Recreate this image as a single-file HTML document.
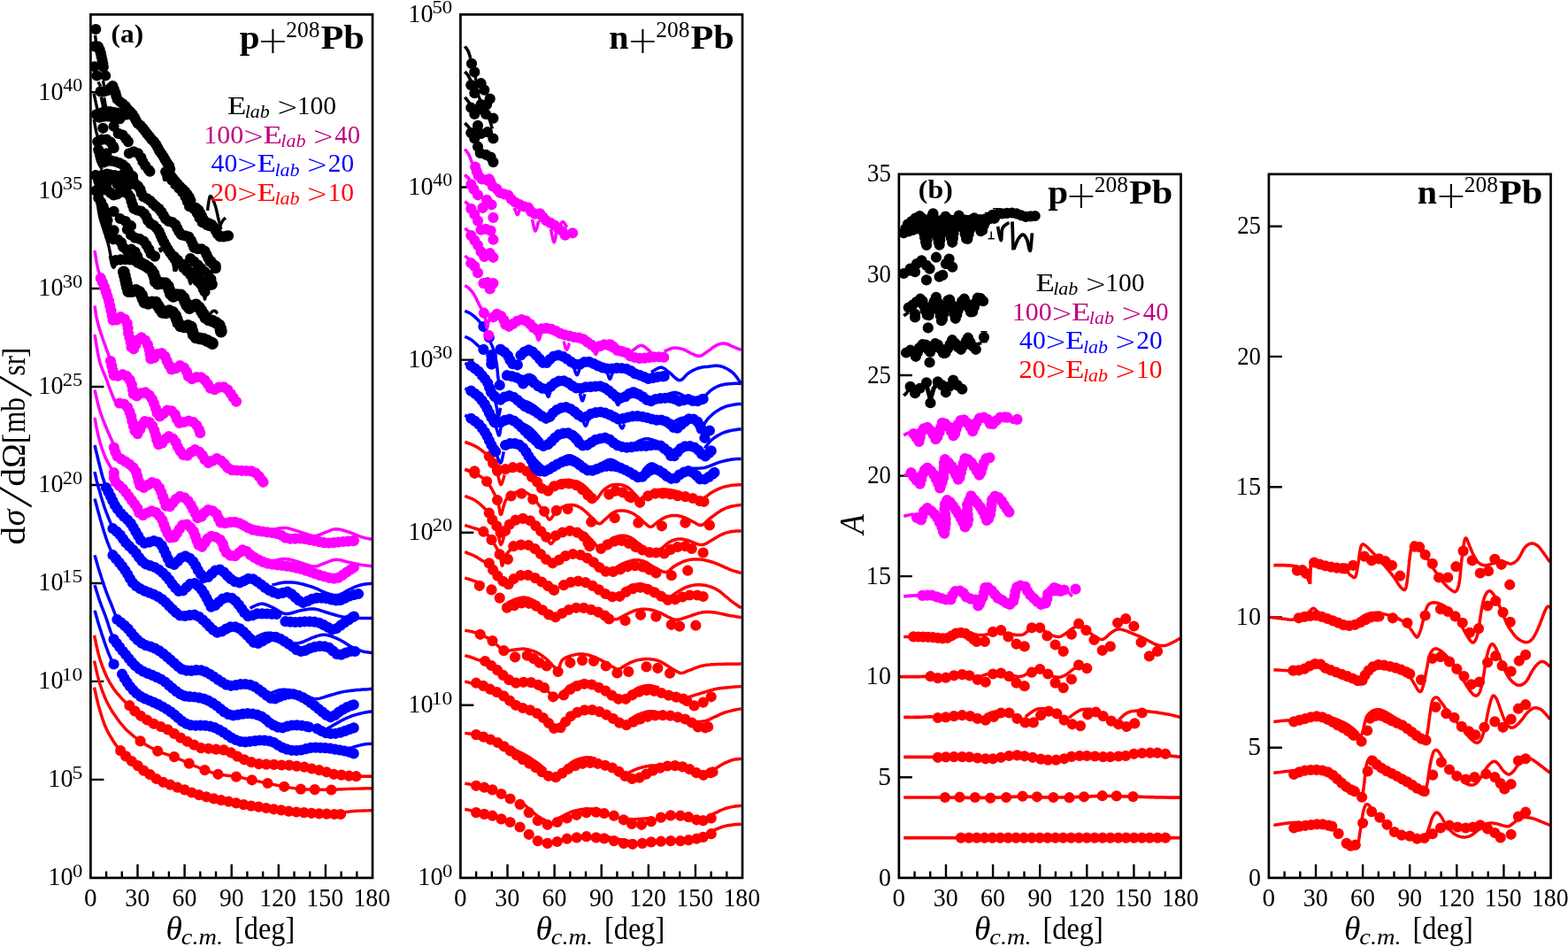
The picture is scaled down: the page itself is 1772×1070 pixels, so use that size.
<!DOCTYPE html>
<html lang="en"><head><meta charset="utf-8"><title>Elastic scattering on 208Pb</title>
<style>html,body{margin:0;padding:0;background:#fff}body{width:1772px;height:1070px;overflow:hidden}svg{display:block;font-family:"Liberation Serif", "DejaVu Serif", serif;font-size:28.6px;fill:#000}</style>
</head><body>
<svg width="1772" height="1070" viewBox="0 0 1772 1070" role="img" aria-label="Elastic scattering cross sections and analyzing powers for p and n on 208Pb">
<rect width="1772" height="1070" fill="#fff"/>
<defs>
<clipPath id="c0"><rect x="102.4" y="16.4" width="318.6" height="975.5"/></clipPath>
<clipPath id="c1"><rect x="520.4" y="16.4" width="318.6" height="975.5"/></clipPath>
<clipPath id="c2"><rect x="1015.9" y="196.8" width="318.6" height="795.1"/></clipPath>
<clipPath id="c3"><rect x="1433.9" y="196.8" width="318.6" height="795.1"/></clipPath>
</defs>
<path d="M120.1 991.9v-7.5M137.8 991.9v-7.5M155.5 991.9v-15.5M173.2 991.9v-7.5M190.9 991.9v-7.5M208.6 991.9v-15.5M226.3 991.9v-7.5M244 991.9v-7.5M261.7 991.9v-15.5M279.4 991.9v-7.5M297.1 991.9v-7.5M314.8 991.9v-15.5M332.5 991.9v-7.5M350.2 991.9v-7.5M367.9 991.9v-15.5M385.6 991.9v-7.5M403.3 991.9v-7.5" stroke="#000" stroke-width="2.4" fill="none"/>
<path d="M102.4 880.9h15M102.4 769.9h15M102.4 659h15M102.4 548h15M102.4 437h15M102.4 326h15M102.4 215.1h15M102.4 104.1h15" stroke="#000" stroke-width="2.4" fill="none"/>
<g clip-path="url(#c0)">
<path d="M106.6 717.8L107.1 720.3L107.9 723.9L108.7 728.2L109.7 732.7L110.8 737.1L111.8 741.1L112.9 744.8L114.1 748.3L115.3 751.8L116.6 755.2L117.9 758.5L119.3 761.7L120.7 764.7L122.2 767.7L123.7 770.6L125.3 773.3L127 776L128.6 778.5L130.5 781L132.4 783.4L134.4 785.7L136.4 787.9L138.2 789.9L139.9 791.6L141.3 793L142.6 794.2L143.8 795.2L144.9 796L145.7 796.7L146.4 797.2" stroke="#f00" stroke-width="3.5" fill="none" stroke-linejoin="round" stroke-linecap="butt"/>
<path d="M146.4 797.2h0M152.4 803.4h0M159 808.8h0M166.2 813.5h0M173.7 817.8h0M181.7 821h0M189.6 824.4h0M196.8 828.9h0M204.1 833.6h0M211.6 837.8h0M219.3 841.6h0M227.1 845.1h0M235.6 845.8h0M244.2 846.7h0M252.8 847.4h0M260.9 850.3h0M268.2 854.6h0M276 858.3h0M284.1 861.2h0M292.5 863.1h0M301 863.6h0M309.6 863.9h0M318.2 864.5h0M326.8 864.6h0M335.3 865.6h0M343.9 866.7h0M352.3 868.5h0M360.7 870.2h0M369 872.3h0M377.3 874.8h0M385.8 875.6h0M394.4 876.7h0M402.5 877.2h0" stroke="#f00" stroke-width="12.2" fill="none" stroke-linecap="round"/>
<path d="M402.5 877.2L403.6 877.2L405.2 877.2L407.1 877.2L409.1 877.2L411 877.2L412.8 877.2L414.4 877.2L416 877.2L417.6 877.2L419.1 877.2L420.3 877.2L421.2 877.2" stroke="#f00" stroke-width="3.6" fill="none" stroke-linejoin="round" stroke-linecap="butt"/>
<path d="M106.6 746.7L107.1 749.2L107.9 752.6L108.7 756.7L109.7 761L110.8 765.3L111.8 769.2L112.9 772.7L114.1 776.3L115.3 779.8L116.6 783.2L117.9 786.5L119.3 789.7L120.7 792.7L122.1 795.6L123.6 798.4L125.2 801.1L126.8 803.8L128.6 806.5L130.6 809.4L132.6 812.3L134.7 815.1L137 818L139.3 820.7L141.7 823.4L144.3 825.9L147 828.3L149.7 830.7L152.6 833L155.5 835.2L158.6 837.4L161.7 839.5L164.9 841.5L168.2 843.5L171.6 845.3L174.9 847L178.2 848.6L181.4 849.9L184.5 851.1L187.7 852.1L190.8 853.1L193.9 854L196.9 855.1L199.8 856.3L202.6 857.6L205.3 858.8L208.1 860.1L210.9 861.4L213.7 862.6L216.6 863.9L219.6 865.2L222.7 866.5L225.7 867.8L228.6 869L231.4 870.1L234 871.1L236.4 871.9L238.8 872.7L241.1 873.5L243.6 874.1L246.4 874.8L249.5 875.3L252.9 875.8L256.5 876.2L260.1 876.6L263.6 877.1L267 877.6L270.1 878.1L273.1 878.7L276 879.4L278.9 880L281.8 880.7L284.7 881.3L287.7 881.9L290.6 882.6L293.5 883.2L296.5 883.8L299.5 884.4L302.5 885L305.5 885.7L308.6 886.3L311.8 887L314.9 887.6L318 888.2L321.2 888.8L324.3 889.3L327.5 889.9L330.7 890.4L333.8 890.9L336.9 891.3L339.9 891.6L342.6 891.8L345.3 892L347.8 892L350.3 892.1L353 892.1L355.7 892.1L358.7 892.2L361.7 892.2L364.9 892.2L368 892.2L371.2 892.2L374.4 892.1L377.6 892.1L380.6 892L383.7 891.8L386.9 891.7L390.4 891.5L394.1 891.4L398.5 891.3L403.5 891.1L408.8 891L413.9 890.8L418.1 890.7L421.2 890.7" stroke="#f00" stroke-width="3.4" fill="none" stroke-linejoin="round" stroke-linecap="butt"/>
<path d="M158.6 837.4h0M178.2 848.6h0M196.9 855.1h0M213.7 862.6h0M231.4 870.1h0M246.4 874.8h0M267 877.6h0M284.7 881.3h0M302.5 885h0M321.2 888.8h0M339.9 891.6h0M355.7 892.1h0M374.4 892.5h0" stroke="#f00" stroke-width="12.2" fill="none" stroke-linecap="round"/>
<path d="M106.6 776.6L107.1 779.1L107.9 782.5L108.7 786.4L109.7 790.8L110.8 795.1L111.8 799.1L112.9 802.9L114.1 806.7L115.3 810.6L116.6 814.4L117.9 818.1L119.3 821.5L120.8 824.7L122.3 827.8L124 830.7L125.6 833.4L127.2 836L128.6 838.3L130.1 840.5L131.6 842.6L133 844.5L134.3 846.2L135.3 847.6L136.1 848.6" stroke="#f00" stroke-width="3.5" fill="none" stroke-linejoin="round" stroke-linecap="butt"/>
<path d="M136.2 848.2h0M142.2 854.4h0M148.8 860h0M155.7 865.1h0M162.3 870.6h0M169.6 875.2h0M176.7 880h0M184.4 883.8h0M192.5 886.7h0M200.5 889.7h0M208.7 892.4h0M216.7 895.5h0M224.9 898.2h0M233.2 900.3h0M241.6 902.4h0M250 904.2h0M258.4 905.7h0M266.9 907.4h0M275.3 909.1h0M283.8 910.6h0M292.3 911.6h0M300.8 913h0M309.3 914.3h0M317.8 915.4h0M326.3 916.7h0M334.9 917.5h0M343.5 918.1h0M352 918.8h0M360.6 919.3h0M369.2 919.7h0M377.8 920h0M385 920h0" stroke="#f00" stroke-width="12.2" fill="none" stroke-linecap="round"/>
<path d="M385 918.5L386.6 918.3L388.7 917.9L391.2 917.5L394 917.1L397 916.8L400 916.5L403.4 916.3L407.3 916.1L411.3 916L415.2 915.9L418.4 915.8L420.8 915.8" stroke="#f00" stroke-width="3.4" fill="none" stroke-linejoin="round" stroke-linecap="butt"/>
<path d="M107 503L107.5 504.9L108.1 507.6L108.9 510.8L109.7 514.2L110.5 517.5L111.2 520.5L111.9 523.2L112.6 525.9L113.2 528.6L113.9 531.1L114.5 533.4L115 535.5L115.5 537.2L115.9 538.7L116.3 540L116.7 541.1L117.1 542.3L117.5 543.5L117.9 544.9L118.4 546.3L118.9 547.8L119.4 549.1L119.7 550.2L120 551" stroke="#00f" stroke-width="3.6" fill="none" stroke-linejoin="round" stroke-linecap="butt"/>
<path d="M120 551h0M122.5 555.9h0M124.9 560.8h0M127.3 565.8h0M129.8 570.7h0M132.9 575.2h0M136.3 579.6h0M140 583.6h0M144.1 587.3h0M147.8 591.4h0M150.7 596h0M153.4 600.8h0M156.2 605.5h0M159 610.3h0M163.2 613.6h0M168.5 612.6h0M173.8 611.1h0M178.9 612.5h0M182.8 616.4h0M185.3 621.3h0M187.6 626.3h0M189.8 631.3h0M192.3 636.2h0M196.8 638h0M200.8 634.2h0M204.7 630.3h0M209.6 628.4h0M214.5 630.8h0M218.4 634.6h0M221.3 639.3h0M223.8 644.2h0M226.8 648.8h0M230.4 652.9h0M235.3 651.9h0M239.3 648.2h0M243.4 644.5h0M248.5 643.5h0M253.1 646.5h0M256.9 650.5h0M260.9 654.2h0M265.5 657.2h0M270.7 658.4h0M275.8 656.3h0M280.7 653.8h0M286.1 654.4h0M290.7 657.3h0M295.2 660.5h0M299.4 663.9h0M304.1 666.9h0M309 669.2h0M314.3 670.9h0M319.6 669.9h0M324.8 668.5h0M329.5 671.2h0M333.6 674.9h0M337.8 678.5h0M342.5 681h0M347.6 679.2h0M352.6 676.8h0M357.9 675.6h0M363.4 675.7h0M368.9 676.2h0M374.3 677.4h0M379.7 678.4h0M385.1 678h0M390.1 675.8h0M395.1 673.5h0M400.4 672h0M405 671h0" stroke="#00f" stroke-width="12.2" fill="none" stroke-linecap="round"/>
<path d="M307.5 661L309.1 660.6L311.4 660.1L314.1 659.4L316.9 658.8L319.8 658.3L322.5 658L325 657.9L327.4 657.9L329.8 658L332.3 658.2L334.9 658.6L337.5 659L340.3 659.6L343.2 660.3L346.2 661.2L349.3 662.1L352.2 663L355 664L357.7 665.1L360.3 666.2L362.8 667.5L365.3 668.6L367.7 669.7L370 670.5L372.2 671.2L374.4 671.7L376.4 672.2L378.4 672.4L380.4 672.5L382.5 672.2L384.6 671.7L386.7 670.7L388.8 669.5L390.8 668.3L392.9 667.1L395 666L397.1 665.1L399.1 664.1L401.2 663.2L403.3 662.4L405.4 661.6L407.5 661L409.8 660.5L412.4 660L414.9 659.7L417.3 659.4L419.3 659.2L420.8 659" stroke="#00f" stroke-width="3.5" fill="none" stroke-linejoin="round" stroke-linecap="butt"/>
<path d="M107 533L107.3 534.4L107.7 536.2L108.2 538.4L108.7 540.9L109.3 543.4L110 546L110.7 548.7L111.5 551.6L112.4 554.6L113.3 557.7L114.1 560.7L115 563.5L115.8 566.1L116.6 568.5L117.3 570.9L118.1 573.3L119 575.8L120 578.5L121.2 581.6L122.6 585.2L124.1 588.8L125.5 592.2L126.7 595.2L127.5 597.2" stroke="#00f" stroke-width="3.5" fill="none" stroke-linejoin="round" stroke-linecap="butt"/>
<path d="M127.5 597.2h0M131.9 600.6h0M135.8 604.4h0M139 608.9h0M142.3 613.3h0M146.2 617.2h0M150.1 621h0M153.8 625.1h0M157 629.6h0M160.4 633.9h0M164.6 637.3h0M169.8 639.2h0M175 641h0M179.7 643.8h0M184 647.3h0M187.9 651.1h0M191.4 655.3h0M194.6 659.9h0M198.1 664.1h0M201.9 668h0M207 667.3h0M210.9 663.5h0M215 659.8h0M220 659h0M224.3 662.4h0M227.9 666.5h0M230.9 671.1h0M233.6 676h0M236.1 680.8h0M238.6 685.7h0M243.4 683.9h0M247.4 680.1h0M251.6 676.6h0M256.8 675h0M262.1 675.9h0M266.4 679.2h0M269.9 683.4h0M273.2 687.9h0M276.3 692.4h0M280.3 696.1h0M285.5 695.3h0M290.7 693.4h0M296.2 693.4h0M301.7 693.5h0M307.2 693.8h0M312.5 694h0" stroke="#00f" stroke-width="12.2" fill="none" stroke-linecap="round"/>
<path d="M322.5 702.2h0M328 702.7h0M333.5 703h0M339 702.8h0M344.4 702.3h0M349.9 702.3h0M355.4 702.7h0M360.8 703.8h0M365.8 706.1h0M370.6 708.8h0M375.4 711.4h0M380.5 710h0M384.9 706.7h0M389.3 703.5h0M393.9 700.4h0M398.5 697.4h0M400 696.5h0" stroke="#00f" stroke-width="12.2" fill="none" stroke-linecap="round"/>
<path d="M282.5 687.2L283.9 686.6L285.7 685.6L288 684.5L290.4 683.5L292.8 682.6L295 682.2L297.1 682.3L299.1 682.7L301.1 683.3L303.1 684.1L305.3 685.1L307.5 686L309.8 687.2L312.2 688.6L314.7 690.2L317.2 691.7L319.8 692.9L322.5 693.5L325.3 693.5L328.2 693L331.2 692.2L334.3 691.3L337.2 690.4L340 689.8L342.6 689.3L345.2 688.8L347.7 688.4L350.1 688.1L352.5 687.9L355 688L357.5 688.4L360 689L362.5 689.8L365 690.6L367.5 691.5L370 692.2L372.5 693L375 693.8L377.5 694.5L380 695.2L382.5 695.9L385 696.5L387.4 697L389.8 697.4L392.1 697.8L394.6 698.1L397.2 698.3L400 698.5L403.4 698.6L407.3 698.6L411.3 698.6L415.2 698.6L418.4 698.5L420.8 698.5" stroke="#00f" stroke-width="3.5" fill="none" stroke-linejoin="round" stroke-linecap="butt"/>
<path d="M107 563.5L107.6 565.6L108.4 568.5L109.3 571.9L110.3 575.7L111.4 579.6L112.5 583.5L113.6 587.4L114.9 591.7L116.1 596.1L117.4 600.4L118.7 604.6L120 608.5L121.3 612.2L122.8 615.9L124.2 619.4L125.6 622.6L126.7 625.3L127.5 627.2" stroke="#00f" stroke-width="3.5" fill="none" stroke-linejoin="round" stroke-linecap="butt"/>
<path d="M127.5 627.2h0M131.1 631.4h0M134.7 635.6h0M138.1 639.9h0M141.4 644.3h0M144.3 649h0M146.9 653.8h0M149.9 658.4h0M153.9 662.2h0M158.5 665.2h0M163.4 667.6h0M168.6 669.6h0M173.7 671.6h0M178.6 674.1h0M183.2 677.1h0M187.4 680.7h0M191.2 684.7h0M195.1 688.5h0M199 692.3h0M203.5 695.5h0M208.9 696h0M214.3 695.1h0M219.8 694.7h0M224.8 696.8h0M229.1 700.3h0M233.1 704h0M236.9 708h0M240.9 711.8h0M245.5 714.7h0M250.7 713.5h0M255.5 710.6h0M260.5 708.4h0M265.9 708.3h0M271 710.4h0M275.2 713.9h0M279.1 717.7h0M282.9 721.7h0M286.6 725.8h0M291.7 726.9h0M296.6 724.5h0M301.3 721.6h0M306.3 719.5h0M311.7 719.8h0M316.8 721.8h0M321.6 724.7h0M326.2 727.7h0M330.7 730.8h0M335.1 734.1h0M340.2 736h0M345.5 734.8h0M350.5 732.5h0M355.8 730.9h0M361.2 730.2h0M366.7 730.3h0M371.9 731.9h0M376.2 735.4h0M380.4 738.9h0M385.7 739.6h0M390.8 737.6h0M396 735.9h0M401.2 736h0" stroke="#00f" stroke-width="12.2" fill="none" stroke-linecap="round"/>
<path d="M287.5 721L288.9 720.3L290.7 719.3L293 718.1L295.4 717L297.8 716.1L300 715.5L302.1 715.3L304.1 715.3L306.1 715.5L308.1 715.9L310.3 716.5L312.5 717.2L314.9 718.4L317.4 720L320 721.7L322.6 723.5L325.1 725L327.5 726L329.7 726.6L331.8 726.9L333.8 726.9L335.7 726.8L337.8 726.5L340 726L342.4 725.3L344.9 724.2L347.5 723L350.1 721.8L352.6 720.6L355 719.8L357.2 719L359.3 718.4L361.2 717.8L363.2 717.4L365.3 717.2L367.5 717.2L369.9 717.6L372.3 718.2L374.8 719L377.4 720L380 721.1L382.5 722.2L385 723.5L387.6 725L390.2 726.6L392.7 728.2L395.1 729.7L397.5 731L399.7 732.1L401.9 733.1L404 734L406.1 734.7L408 735.4L410 736L412 736.5L414.1 736.8L416.2 737.1L418 737.2L419.6 737.4L420.8 737.5" stroke="#00f" stroke-width="3.5" fill="none" stroke-linejoin="round" stroke-linecap="butt"/>
<path d="M107 627.2L107.6 629.2L108.4 632L109.3 635.2L110.3 638.8L111.4 642.4L112.5 646L113.7 649.6L114.9 653.6L116.3 657.6L117.6 661.6L118.9 665.3L120 668.5L121 671.1L121.8 673.2L122.5 675L123.2 676.7L124.1 678.7L125 681L126.2 684L127.6 687.6L129 691.3L130.4 694.8L131.6 697.9L132.4 700" stroke="#00f" stroke-width="3.5" fill="none" stroke-linejoin="round" stroke-linecap="butt"/>
<path d="M132.4 700h0M136.7 703.4h0M140.9 706.9h0M144.9 710.7h0M148.3 715h0M151.8 719.3h0M155.7 723.2h0M160 726.6h0M164.8 729.1h0M170.1 730.6h0M175.2 732.6h0M180 735.4h0M184.5 738.6h0M188.7 742.1h0M192.9 745.7h0M197 749.3h0M201.1 753h0M205.5 756.2h0M210.8 757.7h0M216.3 757.9h0M221.7 757.1h0M227.2 757.3h0M232.3 759.2h0M237.2 761.8h0M241.8 764.7h0M246.3 767.9h0M250.9 770.8h0M255.7 773.6h0M261 774.8h0M266.5 774.2h0M271.9 773.1h0M277.3 773h0M282.8 773.8h0M287.8 775.9h0M292.4 779h0M296.8 782.2h0M301.2 785.6h0M305.6 788.8h0M310.9 789.5h0M316 787.3h0M321.1 785.5h0M326.5 784.3h0M332 784.3h0M337.2 785.8h0M342.2 788.1h0M346.9 791h0M351.4 794.2h0M355.8 797.5h0M360 801h0M364.3 804.4h0M368.6 807.9h0M373.5 810.3h0M378.4 808.2h0M382.7 804.7h0M387.4 801.8h0M392.2 799.1h0M397.3 797.1h0M399.7 796.3h0" stroke="#00f" stroke-width="12.2" fill="none" stroke-linecap="round"/>
<path d="M306.2 783.2L307.4 782.7L309.1 782L311 781.3L313.1 780.5L315.3 779.8L317.4 779.4L319.5 779.3L321.7 779.3L323.9 779.4L326.1 779.6L328.3 779.9L330.5 780.4L332.7 780.9L334.9 781.7L337.1 782.5L339.2 783.4L341.4 784.2L343.6 785L345.8 785.9L347.9 786.9L350 787.9L352.2 788.8L354.4 789.4L356.7 789.7L359.1 789.6L361.5 789.1L364 788.4L366.6 787.6L369.1 786.7L371.6 786L374.1 785.3L376.6 784.6L379 783.8L381.5 783.1L384 782.5L386.6 781.9L389.3 781.4L392.1 780.9L394.9 780.6L397.7 780.2L400.6 779.9L403.4 779.6L406.4 779.4L409.6 779.1L412.9 778.9L415.9 778.8L418.4 778.6L420.2 778.5" stroke="#00f" stroke-width="3.5" fill="none" stroke-linejoin="round" stroke-linecap="butt"/>
<path d="M107 661L107.6 662.9L108.4 665.4L109.3 668.5L110.3 671.8L111.4 675.2L112.5 678.5L113.7 681.7L114.9 685.2L116.3 688.7L117.6 692.1L118.9 695.4L120 698.5L121 701.4L121.9 704.1L122.7 706.7L123.5 709.1L124.3 711.4L125 713.5L125.7 715.4L126.5 717.3L127.1 718.9L127.8 720.3L128.3 721.5L128.6 722.4" stroke="#00f" stroke-width="3.5" fill="none" stroke-linejoin="round" stroke-linecap="butt"/>
<path d="M128.6 722.4h0M131.9 726.8h0M135.3 731.2h0M138.7 735.5h0M142.2 739.8h0M145.6 744.1h0M149.1 748.3h0M152.9 752.3h0M157.1 755.8h0M161.8 758.7h0M166.9 760.9h0M172 762.9h0M177 765.1h0M182 767.5h0M186.6 770.5h0M190.7 774.1h0M194.9 777.7h0M199.2 781.1h0M203.7 784.3h0M208.7 786.4h0M214.2 787.2h0M219.6 787.5h0M225.1 788.4h0M230.4 789.6h0M235.5 791.7h0M240.3 794.4h0M244.9 797.5h0M249.1 800.9h0M253.4 804.4h0M258.2 807h0M263.5 808.4h0M268.9 807.7h0M274.3 806.6h0M279.8 806.2h0M285.3 806.5h0M290.7 807.7h0M295.8 809.7h0M300.3 812.8h0M304.4 816.5h0M309.1 819.4h0M314.1 821.7h0M319.5 822.3h0M324.7 820.7h0M330 819.5h0M335.5 819.4h0M341 819.8h0M346.4 820.8h0M349.2 821.5h0" stroke="#00f" stroke-width="12.2" fill="none" stroke-linecap="round"/>
<path d="M358.6 823.4h0M363.4 826h0M368.4 828.2h0M373.8 829h0M379.3 828.8h0M384.7 827.6h0M389.9 825.9h0M395.1 824h0M399.7 822.4h0" stroke="#00f" stroke-width="12.2" fill="none" stroke-linecap="round"/>
<path d="M369.8 823.4L371.2 822.5L373.2 821.4L375.6 820L378.1 818.5L380.6 817.1L382.9 815.9L384.8 814.8L386.7 813.8L388.5 812.9L390.3 812L392.1 811.1L394.1 810.3L396.1 809.5L398.3 808.7L400.5 808L402.7 807.4L404.9 806.7L407.1 806.2L409.5 805.6L412 805.1L414.5 804.7L416.8 804.3L418.8 804L420.2 803.7" stroke="#00f" stroke-width="3.5" fill="none" stroke-linejoin="round" stroke-linecap="butt"/>
<path d="M107 689.8L107.6 691.7L108.4 694.5L109.3 697.7L110.3 701.3L111.4 704.9L112.5 708.5L113.7 712.1L114.9 716.1L116.3 720.1L117.6 724.1L118.9 727.8L120 731L121 733.7L121.9 736.1L122.7 738.2L123.5 740.1L124.3 741.9L125 743.5L125.7 745.1L126.5 746.5L127.1 747.8L127.8 748.9L128.3 749.8L128.6 750.5" stroke="#00f" stroke-width="3.5" fill="none" stroke-linejoin="round" stroke-linecap="butt"/>
<path d="M128.6 750.5h0" stroke="#00f" stroke-width="12.2" fill="none" stroke-linecap="round"/>
<path d="M138 761.7h0M140.7 766.5h0M143.7 771.1h0M146.9 775.5h0M150.5 779.7h0M154.4 783.5h0M158.8 786.9h0M163.7 789.4h0M168.8 791.5h0M173.8 793.6h0M178.8 795.9h0M183.7 798.5h0M188.4 801.3h0M193 804.4h0M197.4 807.7h0M201.5 811.3h0M205.7 814.9h0M210.4 817.7h0M215.6 819.4h0M221.1 819.8h0M226.6 819.6h0M232 819.8h0M237.5 820.6h0M242.7 822.2h0M247.7 824.6h0M252.4 827.4h0M257 830.5h0M261.5 833.6h0M266.4 836h0M271.6 837.8h0M277.1 838.4h0M282.5 837.8h0M288 837.1h0M293.5 836.5h0M299 836.6h0M304.4 837.3h0M309.6 839h0M314.2 842h0M319 844.6h0M324.2 846.6h0M329.5 847.8h0M335 848h0M340.5 847.5h0M345.8 846.2h0M351.2 844.9h0M356.7 844.6h0M362.1 844.9h0M367.6 845.2h0M373.1 845.7h0M378.5 846.6h0M384 847.5h0M389.4 848.5h0M394.7 849.7h0M399.7 851.4h0" stroke="#00f" stroke-width="12.2" fill="none" stroke-linecap="round"/>
<path d="M394.1 845.8L395.7 845.3L398.1 844.6L400.8 843.7L403.8 842.9L406.6 842.1L409 841.5L411.2 841.1L413.4 840.8L415.6 840.6L417.5 840.4L419.1 840.3L420.2 840.2" stroke="#00f" stroke-width="3.5" fill="none" stroke-linejoin="round" stroke-linecap="butt"/>
<path d="M107 283L107.3 284.9L107.8 287.7L108.3 290.9L108.8 294.3L109.4 297.6L110 300.5L110.6 303.2L111.3 305.9L112.1 308.5L112.8 310.8L113.3 312.8L113.8 314.2" stroke="#f0f" stroke-width="3.5" fill="none" stroke-linejoin="round" stroke-linecap="butt"/>
<path d="M113.8 314.2h0M116 319.3h0M118 324.4h0M119.8 329.6h0M121.4 334.8h0M123 340.1h0M124.3 345.5h0M125.5 350.8h0M126.6 356.2h0M127.6 361.6h0M131.9 361.4h0M136.4 358.2h0M140.9 360.6h0M143.7 365.3h0M144.6 370.7h0M145.1 376.2h0M146.4 381.5h0M147.8 386.9h0M148.5 392.3h0M151.1 394.2h0M153.4 389.2h0M155.7 384.2h0M159.9 381.4h0M164.2 384.6h0M166.9 389.4h0M168.5 394.6h0M169.5 400h0M170.4 405.5h0M174.2 404.3h0M177.7 400.1h0M182.8 399h0M186.5 402.8h0M188.7 407.9h0M191.1 412.8h0M193.9 417.5h0M198.8 416.1h0M203.4 413.1h0M208 415.5h0M211 420h0M212.9 425.2h0M216.9 428.1h0M222.1 426.1h0M227.3 426.3h0M231.6 429.7h0M234.9 434h0M237.9 438.7h0M242.6 440.2h0M247.4 437.6h0M252.7 437.3h0M257.3 440.3h0M260.7 444.6h0M263.7 449.2h0M267 453.6h0" stroke="#f0f" stroke-width="12.2" fill="none" stroke-linecap="round"/>
<path d="M107 345.5L107.3 347.4L107.7 349.9L108.1 353L108.6 356.3L109.3 359.7L110 363L110.9 366.2L111.8 369.6L112.9 373L114 376.4L115.2 379.8L116.2 383L117.3 386.2L118.5 389.4L119.6 392.5L120.7 395.5L121.7 398.2L122.5 400.5L123.2 402.4L123.7 404L124.1 405.3L124.5 406.4L124.8 407.3L125 408" stroke="#f0f" stroke-width="3.5" fill="none" stroke-linejoin="round" stroke-linecap="butt"/>
<path d="M125 408h0M126.3 413.3h0M127.6 418.7h0M128.7 424.1h0M133.4 424.8h0M138.6 423h0M143.4 425.2h0M146.8 429.4h0M148.9 434.5h0M149.9 439.9h0M150.8 445.3h0M154.5 447.4h0M159.1 444.4h0M164.3 443.3h0M168.7 446.5h0M171.9 451h0M174.1 456h0M176 461.2h0M177.5 466.5h0M180.6 470.4h0M184.9 467.1h0M189 463.5h0M194 464.4h0M197.8 468.4h0M199.9 473.5h0M202.7 478h0M207.9 477h0M213.2 475.5h0M218.4 477h0M222.3 480.8h0M225 485.5h0M226.2 489.2h0" stroke="#f0f" stroke-width="12.2" fill="none" stroke-linecap="round"/>
<path d="M107 378L107.6 381.4L108.4 386.1L109.3 391.8L110.3 397.6L111.4 403.2L112.5 408L113.6 411.9L114.9 415.4L116.1 418.6L117.4 421.7L118.7 424.8L120 428L121.3 431.4L122.6 435L123.9 438.6L125.2 442.1L126.4 445.2L127.5 448L128.5 450.4L129.5 452.4L130.5 454.2L131.3 455.8L132 457L132.5 458" stroke="#f0f" stroke-width="3.5" fill="none" stroke-linejoin="round" stroke-linecap="butt"/>
<path d="M135 455.5h0M140.4 456.7h0M144.2 460.4h0M146.5 465.4h0M148.3 470.6h0M149.4 476h0M150.9 481.3h0M152.5 486.6h0M155.5 490.1h0M158.2 485.3h0M160.3 480.3h0M163.6 476.1h0M168.8 477.1h0M172.2 481.3h0M174.4 486.3h0M176 491.6h0M177.2 496.9h0M179.1 502.1h0M183.3 500.6h0M186.6 496.2h0M190.8 493h0M195.4 495.5h0M198.7 499.9h0M200.9 505h0M203.7 509.7h0M207 514h0M211.9 514.7h0M216 510.9h0M220.4 508h0M225.1 510.5h0M228.8 514.6h0M231.6 519.4h0M235.4 523h0M240.3 520.6h0M245 518h0M249.8 520.5h0M253.8 524.3h0M257.3 528.5h0M262 531.1h0M267.5 531.5h0M273 531.8h0M278.5 532h0M284 532.4h0M289 534.5h0M292.8 538.4h0M296.1 542.9h0M297.5 544.8h0" stroke="#f0f" stroke-width="12.2" fill="none" stroke-linecap="round"/>
<path d="M107 440.5L107.6 443L108.4 446.4L109.3 450.5L110.3 454.9L111.4 459.1L112.5 463L113.6 466.5L114.9 469.9L116.1 473.3L117.4 476.6L118.7 479.8L120 483L121.3 486.2L122.7 489.5L124.1 492.7L125.5 495.7L126.6 498.3L127.5 500.5L128.1 502.1L128.4 503.3L128.6 504.1L128.7 504.7L128.7 505.1L128.8 505.5" stroke="#f0f" stroke-width="3.5" fill="none" stroke-linejoin="round" stroke-linecap="butt"/>
<path d="M128.8 505.5h0M130.4 510.8h0M132.7 515.7h0M137.1 518.9h0M141.9 521.7h0M146.5 524.7h0M150.6 528.3h0M153.7 532.8h0M155.3 538.1h0M156.6 543.4h0M158.3 548.6h0M162.5 550.9h0M167.1 547.9h0M171.7 545h0M176.6 546.6h0M180 551h0M182.3 556h0M184.1 561.2h0M186 566.3h0M187.6 571.6h0M191.9 572.3h0M195.5 568.1h0M199 563.9h0M203.4 560.9h0M208.5 562.4h0M212.6 566.1h0M215.7 570.6h0M218.3 575.5h0M220.9 580.3h0M223.3 585.2h0M227.7 583.7h0M231.1 579.4h0M235.2 576h0M240.4 577.3h0M244.7 580.8h0M247 585.7h0M249.4 590.5h0M254.7 591.2h0M260.1 590.2h0M265.5 589.8h0M270.8 591.4h0M275.7 593.8h0M280.5 596.5h0M285.6 598.6h0M290.9 599.7h0M296.4 600.5h0M301.8 601.3h0M307.3 602h0M312.7 602.9h0M317.9 604.8h0M322.5 607.6h0M327.9 608.8h0M333.4 608.6h0M338.9 608.5h0M344.3 609h0M349.7 610h0M355.2 611h0M360.6 612.1h0M366 613.1h0M371.4 613.5h0M376.9 613.2h0M382.4 612.5h0M387.9 612h0M393.3 611.6h0M398.8 611.1h0M400 611h0" stroke="#f0f" stroke-width="12.2" fill="none" stroke-linecap="round"/>
<path d="M307.5 598.5L309.1 598.2L311.4 597.8L314.1 597.2L316.9 596.8L319.8 596.5L322.5 596.5L325 596.8L327.4 597.4L329.8 598.1L332.3 598.9L334.9 599.7L337.5 600.5L340.3 601.4L343.3 602.4L346.4 603.5L349.4 604.5L352.3 605.2L355 605.5L357.4 605.4L359.5 604.8L361.6 604L363.5 603.1L365.5 602.3L367.5 601.5L369.6 600.8L371.6 600L373.6 599.1L375.6 598.4L377.8 597.9L380 597.8L382.4 597.9L384.8 598.4L387.3 599L389.9 599.8L392.5 600.7L395 601.5L397.5 602.4L400.2 603.4L402.8 604.5L405.3 605.5L407.7 606.5L410 607.2L412.2 607.8L414.3 608.3L416.3 608.6L418.1 608.9L419.6 609.1L420.8 609.2" stroke="#f0f" stroke-width="3.5" fill="none" stroke-linejoin="round" stroke-linecap="butt"/>
<path d="M107 471.8L107.4 474.1L108 477.3L108.7 481.1L109.5 485.2L110.4 489.3L111.2 493L112.2 496.5L113.1 499.9L114.2 503.4L115.2 506.8L116.4 510L117.5 513L118.7 515.9L120 518.7L121.4 521.4L122.7 523.8L124 526.1L125 528L125.9 529.6L126.7 531L127.3 532.1L127.9 533L128.4 533.7L128.8 534.2" stroke="#f0f" stroke-width="3.5" fill="none" stroke-linejoin="round" stroke-linecap="butt"/>
<path d="M128.8 534.2h0M128.9 539.7h0M130.9 544.8h0M134.8 548.6h0M138.9 552.3h0M142.4 556.5h0M145.7 561h0M148.9 565.4h0M152.3 569.7h0M155.4 574.3h0M157.4 579.4h0M161.5 582.1h0M166.3 579.5h0M171.3 577.4h0M176.3 579.1h0M180.2 583h0M183.4 587.5h0M185.3 592.7h0M187.2 597.8h0M189.5 602.8h0M192.4 607.5h0M196.9 606.9h0M200 602.4h0M202.9 597.7h0M206.2 593.3h0M211.2 592.5h0M215.4 596h0M218.7 600.4h0M220.6 605.5h0M222.4 610.7h0M224.5 615.8h0M228.3 617.8h0M231.5 613.3h0M234.5 608.7h0M238.9 605.8h0M244.2 607h0M248.8 609.9h0M251.8 614.4h0M253.3 619.7h0M255.9 624.4h0M260.4 627.6h0M265.7 628.2h0M269.9 624.7h0M274.1 621.3h0M278.9 623.1h0M282.9 626.9h0M287.4 629.9h0M292.2 632.6h0M297.2 634.9h0M302.4 636.7h0M307.8 637.6h0M313.3 638.3h0M318.8 639h0M324.2 639.7h0M329.7 640.5h0M335 641.6h0M340.3 643h0M345.6 644.6h0M350.9 646.3h0M356.1 648.1h0M361.2 649.9h0M366.5 651.4h0M371.8 652.8h0M377.3 653.7h0M382.6 652.6h0M387.3 649.8h0M391.7 646.5h0M396.3 643.5h0M400 641h0" stroke="#f0f" stroke-width="12.2" fill="none" stroke-linecap="round"/>
<path d="M307.5 634L309.1 633.7L311.4 633.1L314.1 632.5L316.9 632L319.8 631.6L322.5 631.5L325 631.7L327.4 632.2L329.8 632.8L332.3 633.5L334.9 634.3L337.5 635L340.3 635.9L343.3 636.9L346.4 638L349.4 638.9L352.3 639.7L355 640L357.4 639.9L359.5 639.3L361.6 638.5L363.5 637.6L365.5 636.8L367.5 636L369.6 635.3L371.6 634.5L373.6 633.7L375.6 633L377.8 632.5L380 632.2L382.4 632.4L384.8 632.8L387.3 633.5L389.9 634.2L392.5 634.9L395 635.5L397.5 636L400.2 636.6L402.8 637.1L405.3 637.6L407.7 638.1L410 638.5L412.2 638.8L414.3 639.1L416.3 639.3L418.1 639.5L419.6 639.6L420.8 639.8" stroke="#f0f" stroke-width="3.5" fill="none" stroke-linejoin="round" stroke-linecap="butt"/>
<path d="M108.2 33h0" stroke="#000" stroke-width="12.2" fill="none" stroke-linecap="round"/>
<path d="M107.5 39.8L108.5 47.3" stroke="#000" stroke-width="3.4" fill="none" stroke-linejoin="round" stroke-linecap="butt"/>
<path d="M107.2 52.4h0M111 52.7h0M112.7 56.3h0M113.8 60.1h0M114.6 64h0M115.5 67.9h0M116.3 71.9h0M116.8 75.8h0" stroke="#000" stroke-width="12.2" fill="none" stroke-linecap="round"/>
<path d="M106.8 75.3h0M109.5 85.5h0M119.1 85.5h0" stroke="#000" stroke-width="12.2" fill="none" stroke-linecap="round"/>
<path d="M110.9 92.5L113.6 97.3" stroke="#000" stroke-width="3.4" fill="none" stroke-linejoin="round" stroke-linecap="butt"/>
<path d="M116.4 91.1L117.7 97.3" stroke="#000" stroke-width="3.4" fill="none" stroke-linejoin="round" stroke-linecap="butt"/>
<path d="M113.6 103.4h0M117.6 103.4h0M121.4 102.2h0M124.6 99.7h0M127.3 97.3h0" stroke="#000" stroke-width="12.2" fill="none" stroke-linecap="round"/>
<path d="M127.3 97.3h0M128.9 101h0M130.4 104.7h0M131.4 108.5h0M132.7 112.2h0M135.6 115h0M138.8 117.4h0M141.8 120h0M144.2 123.2h0M147.1 126h0M149.7 129h0M151.8 132.4h0M153.6 135.9h0M155.7 139.4h0M158.8 141.9h0M161.4 144.9h0M163.9 148h0M166.4 151.2h0M168.9 154.3h0M171.3 157.5h0M174.2 160.2h0M176.5 163.5h0M178.4 167h0M180.2 170.6h0M182.5 173.8h0M184.7 177.1h0M186.7 180.6h0M188.8 184h0M191.1 187.3h0M192.2 191h0M191.6 194.9h0M193.1 198.6h0M195.6 201.7h0M198.1 204.8h0M200.7 207.8h0M203.4 210.8h0M206.3 213.6h0M209.1 216.4h0M211.6 219.5h0M213.8 222.8h0M215.4 226.5h0M215.6 230.5h0M217.5 233.6h0M221.3 234.8h0M224.4 237.2h0M226.3 240.7h0M228.1 244.3h0M229.8 247.9h0M232.5 250.8h0M236.2 252.3h0M239.7 254.2h0M242 257.4h0M243.9 260.9h0M245.9 264.4h0M248.5 267.3h0M252.5 267.4h0M256.4 266.7h0M258 266.4h0" stroke="#000" stroke-width="12.2" fill="none" stroke-linecap="round"/>
<path d="M187.2 194.1h0M190.8 198.9h0M194.4 203.7h0M198.1 208.4h0M202.2 212.8h0M206.3 217.2h0M209.5 222.2h0M211.8 227.7h0M214.1 233.2h0M219.3 236.1h0M222.8 240.9h0M225.5 246.3h0M228.6 251.3h0M233.9 254.1h0M236.6 255.2h0" stroke="#000" stroke-width="12.2" fill="none" stroke-linecap="round"/>
<path d="M106.1 105.5L110.2 124.6" stroke="#000" stroke-width="3.4" fill="none" stroke-linejoin="round" stroke-linecap="butt"/>
<path d="M114.3 109.6L117.1 123.2" stroke="#000" stroke-width="3.4" fill="none" stroke-linejoin="round" stroke-linecap="butt"/>
<path d="M117.7 110.2L119.8 122.5" stroke="#000" stroke-width="3.4" fill="none" stroke-linejoin="round" stroke-linecap="butt"/>
<path d="M108.9 129.3h0M112.6 128h0M116.4 126.8h0M120.4 125.9h0M124.3 126h0M128.3 126.8h0M132.2 127.6h0M136 128.7h0M139.7 130h0M143.6 129.3h0M147.5 128.2h0" stroke="#000" stroke-width="12.2" fill="none" stroke-linecap="round"/>
<path d="M112.3 132.7h0M117.2 131.7h0M122.1 131.5h0M127.1 132.4h0M132 133.4h0M135.5 134.1h0" stroke="#000" stroke-width="12.2" fill="none" stroke-linecap="round"/>
<path d="M116.4 144.8h0M128.6 142.8h0" stroke="#000" stroke-width="12.2" fill="none" stroke-linecap="round"/>
<path d="M133.7 150.9h0M138.6 152.5h0M142.2 156.6h0M144.9 160.1h0" stroke="#000" stroke-width="12.2" fill="none" stroke-linecap="round"/>
<path d="M145.9 173.3h0M151.1 171.4h0M156 173.3h0M159.3 177.7h0M161.4 182.7h0M164.3 187.3h0M167.8 191.6h0M169.4 193.7h0" stroke="#000" stroke-width="12.2" fill="none" stroke-linecap="round"/>
<path d="M110.3 160.1h0M115.2 157.7h0M120.6 157.6h0M125.1 160.7h0M127.9 165.4h0M128.6 167.2h0" stroke="#000" stroke-width="12.2" fill="none" stroke-linecap="round"/>
<path d="M120.5 173.3h0M115.4 177.4h0M111.3 169.3h0" stroke="#000" stroke-width="12.2" fill="none" stroke-linecap="round"/>
<path d="M117.4 183.5h0M121.6 181.9h0M126 181.7h0M130.4 182.7h0M134.7 184.1h0M138.7 186.1h0M142.1 189h0M144.5 192.8h0M146.4 196.9h0M149.5 200.1h0M148.4 203.8h0M145.1 206.9h0M144 209.3h0M148.2 207.9h0M152.6 207.6h0M156 210.4h0M158.5 214.1h0M159.8 218.4h0M162 222.3h0M166 224.3h0M169.7 226.8h0M172.8 230.1h0M176.1 233.1h0M179.6 235.9h0M182.4 239.4h0M184.8 243.2h0M187 247.1h0M190.4 249.9h0M194.7 251.1h0M198.2 253.8h0M200.2 257.8h0M202.3 261.8h0M205 265.3h0M209.3 266.4h0M213.5 267.7h0M215.9 271.5h0M217.7 275.6h0M219.3 279.8h0M223.4 281.2h0M227.9 281.3h0M231.5 283.7h0M233.5 287.7h0M235.4 291.8h0M237.5 295.8h0M241 298.6h0M243.7 300.2h0" stroke="#000" stroke-width="12.2" fill="none" stroke-linecap="round"/>
<path d="M115.4 197.8h0M120.7 196.6h0M125.5 198.9h0M129.5 202.6h0M133.8 206h0M136.7 201.8h0M139 197h0M144.4 197.6h0M149 200.3h0M150 201.2h0" stroke="#000" stroke-width="12.2" fill="none" stroke-linecap="round"/>
<path d="M106.2 134.6L106.5 136.5L107 139.2L107.5 142.4L108.1 145.7L108.7 148.6L109.3 150.9L109.8 152.6L110.4 154L111 155L111.5 155.8L112 156.5L112.3 157" stroke="#000" stroke-width="3.4" fill="none" stroke-linejoin="round" stroke-linecap="butt"/>
<path d="M107.2 167.2L107.5 168.8L107.9 171.1L108.4 173.7L109 176.5L109.6 179.2L110.3 181.5L111.1 183.5L112 185.6L113 187.5L114 189.2L114.8 190.6L115.4 191.7" stroke="#000" stroke-width="3.4" fill="none" stroke-linejoin="round" stroke-linecap="butt"/>
<path d="M107.2 193.7L107.5 194.8L107.9 196.4L108.4 198.3L108.8 200L109.1 201.3L109.3 201.9L109.1 201.1L108.7 199.2L108.2 196.8L107.8 194.7L107.4 193.6L107.2 194.1L107.3 196.6L107.6 200.5L107.9 205.4L108.4 210.8L108.8 216L109.3 220.6L109.7 224.6L110.1 228.5L110.6 232.3L111.1 236L111.7 239.6L112.3 243L113 246.2L113.9 249.2L114.7 252L115.6 254.8L116.5 257.5L117.4 260.3L118.3 263.1L119.2 265.8L120.1 268.6L121 271.3L121.8 273.9L122.5 276.6L123.2 279.4L123.8 282.4L124.4 285.4L124.9 288.1L125.3 290.3L125.6 291.9L125.6 292.4L125.4 292.1L125.1 291.3L124.8 290.4L124.6 289.9L124.5 290L124.7 291L125 292.5L125.4 294.3L125.8 296.2L126.2 297.9L126.6 299.2L126.9 300.1L127.3 300.9L127.6 301.5L127.9 302L128.3 302.2L128.6 302.2L129 301.9L129.4 301.2L129.8 300.4L130.1 299.5L130.4 298.7L130.7 298.1" stroke="#000" stroke-width="3.4" fill="none" stroke-linejoin="round" stroke-linecap="butt"/>
<path d="M110.3 223.6L110.6 225.8L111 228.9L111.6 232.5L112.1 236.3L112.7 239.9L113.3 243L114 245.6L114.8 248L115.6 250.3L116.3 252.3L117 253.9L117.4 255.2" stroke="#000" stroke-width="3.4" fill="none" stroke-linejoin="round" stroke-linecap="butt"/>
<path d="M108.2 198.1h0M113.7 199h0M119.1 198.9h0M124.4 197.3h0M129.8 198.1h0M135.1 199.1h0M140.5 198.2h0M146 198.5h0M150 199.2h0" stroke="#000" stroke-width="12.2" fill="none" stroke-linecap="round"/>
<path d="M120.5 207.3h0M132.7 208.3h0M111.3 204.3h0" stroke="#000" stroke-width="12.2" fill="none" stroke-linecap="round"/>
<path d="M108.2 215.5h0M112.7 214.8h0M117.2 214.3h0M121.5 214.9h0M124.9 217.9h0M128.4 220.5h0M132.7 219.3h0M136.6 217.1h0M141 216.9h0M144.7 219.3h0M147.3 223h0M148.5 227.3h0M149.9 231.6h0M151.3 235.8h0M155.1 237.5h0M159.4 238.6h0M162.9 241.4h0M165.4 245h0M167.2 249.2h0M170.1 252.6h0M173.9 254.8h0M177.1 258h0M179.7 261.6h0M181.5 265.8h0M183.3 269.9h0M185.3 273.9h0M187.4 277.9h0M189.8 281.7h0M192.3 285.5h0M194.9 289.1h0M197.5 292.8h0M199.7 296.7h0M203.6 298h0M207.7 298.8h0M210.3 302.5h0M213 306.1h0M216.9 308.2h0M220.9 310.1h0M223.7 313.6h0M226.2 317.4h0M230 319.7h0M234.3 320.9h0M237.6 321.6h0" stroke="#000" stroke-width="12.2" fill="none" stroke-linecap="round"/>
<path d="M111.3 223.6h0M114.1 228.4h0M116.6 233.3h0M118.6 238.4h0M120.6 243.5h0M121.5 248.9h0M120.6 254.3h0" stroke="#000" stroke-width="12.2" fill="none" stroke-linecap="round"/>
<path d="M128.6 238.9h0M141.9 250.1h0M148 255.2h0M143.9 259.3h0M128.6 260.3h0M135.7 247h0" stroke="#000" stroke-width="12.2" fill="none" stroke-linecap="round"/>
<path d="M123.5 261.3h0M124.2 266.8h0M127.8 270.3h0M133.3 270.8h0M137 274.1h0M139 279h0M143.2 282.4h0M148.5 281.7h0M152.7 284.5h0M155.1 289.4h0M156.1 292.9h0" stroke="#000" stroke-width="12.2" fill="none" stroke-linecap="round"/>
<path d="M148 265.4h0M152.4 268.6h0M157.7 269.9h0M162.3 272.5h0M165.5 276.9h0M168.3 281.6h0M170.6 286.6h0M175 289.6h0" stroke="#000" stroke-width="12.2" fill="none" stroke-linecap="round"/>
<path d="M130.7 294.1h0M136.1 293.4h0M141.6 293.1h0M147.1 293.5h0M152 294.1h0" stroke="#000" stroke-width="12.2" fill="none" stroke-linecap="round"/>
<path d="M156.1 296.1h0M160.2 298h0M164.2 300h0M168 302.5h0M171.2 305.6h0M173.5 309.5h0M175 313.7h0M175.7 318.1h0M178.2 320.6h0M182.6 319.8h0M187 320.1h0M189.8 323.5h0M191.4 327.8h0M192.9 332h0M195.8 334.9h0M200 333.2h0M204.3 333.5h0M207.5 336.6h0M209.1 340.7h0M211.1 344.8h0M214 348h0M217.7 345.6h0M221.6 344.4h0M224.9 347.5h0M227.5 351.1h0M229.9 354.9h0M232.1 358.8h0M235.7 361.4h0M240 362.7h0M244.1 364.6h0M247.7 367.3h0M249.2 371.4h0M249.8 374.5h0" stroke="#000" stroke-width="13.8" fill="none" stroke-linecap="round"/>
<path d="M139.8 307.3h0M140.9 311.7h0M142 316.1h0M142.9 320.5h0M143.9 324.8h0M145.1 329.1h0M149.3 329.1h0M153.6 327.9h0M157.5 329.8h0M160 333.5h0M161.5 337.7h0M163.4 341.7h0M167.6 342.8h0M171.8 341.3h0M176.1 341.6h0M178.5 345.3h0M180.9 349.1h0M183.5 352.8h0M187.4 353.3h0M191.3 351.2h0M195.3 352.9h0M198 356.5h0M199.7 360.7h0M201.3 364.9h0M204 368.3h0M208.3 369.4h0M212.5 368h0M215.9 369.5h0M217.2 373.8h0M218.6 378.1h0M221.4 381.4h0M225.8 382.3h0M230.2 383.1h0M234.3 385h0M238.3 387.1h0M240 388h0" stroke="#000" stroke-width="13.8" fill="none" stroke-linecap="round"/>
<path d="M196.9 290h0M200.8 293.8h0M204.3 298h0M207.4 302.6h0M211.3 306.5h0M215.2 310.4h0M219.1 314.2h0M223.4 317.7h0M227.2 321.6h0M229.8 326.4h0M231.5 329.7h0" stroke="#000" stroke-width="12.2" fill="none" stroke-linecap="round"/>
<path d="M215.2 292h0M219.4 295.6h0M223.5 299.3h0M227.4 303.2h0M231.3 307h0M235.3 310.7h0M238.4 315.2h0M239.5 320.6h0" stroke="#000" stroke-width="12.2" fill="none" stroke-linecap="round"/>
<path d="M243.7 303.2h0M239.6 321.6h0M232.5 323.6h0" stroke="#000" stroke-width="12.2" fill="none" stroke-linecap="round"/>
<path d="M195.8 294.1L196.9 305.3L198.9 305.3L200.9 296.1" stroke="#000" stroke-width="3.6" fill="none" stroke-linejoin="round" stroke-linecap="butt"/>
<path d="M212.1 310.4L215.2 320.6L217.2 313.4" stroke="#000" stroke-width="3.6" fill="none" stroke-linejoin="round" stroke-linecap="butt"/>
<path d="M229.5 330.7L231.5 337.9L233 330.7" stroke="#000" stroke-width="3.6" fill="none" stroke-linejoin="round" stroke-linecap="butt"/>
<path d="M239.6 298.1L241.7 292L243.2 296.1" stroke="#000" stroke-width="3.4" fill="none" stroke-linejoin="round" stroke-linecap="butt"/>
<path d="M235.6 359.3L235.9 358.6L236.3 357.5L236.8 356.3L237.4 355.1L238 354L238.6 353.2L239.3 352.5L239.9 352L240.7 351.6L241.4 351.3L242.1 351.1L242.7 351.1L243.3 351.4L243.9 351.9L244.5 352.5L245 353.2L245.4 353.8L245.8 354.2" stroke="#000" stroke-width="3.4" fill="none" stroke-linejoin="round" stroke-linecap="butt"/>
<path d="M234.6 237.9L234.7 236.6L234.9 234.7L235.2 232.6L235.5 230.4L235.8 228.3L236.1 226.7L236.3 225.4L236.6 224.2L236.8 223.2L237 222.4L237.3 221.9L237.6 221.6L238 221.5L238.3 221.8L238.8 222.2L239.2 222.9L239.7 223.7L240.2 224.6L240.7 225.8L241.3 227.1L241.9 228.6L242.5 230.2L243.1 232L243.7 233.8L244.3 235.8L244.8 238.1L245.3 240.5L245.9 242.9L246.3 245.1L246.8 247L247.2 248.7L247.6 250.3L247.9 251.7L248.2 253L248.5 254.1L248.8 255.2L249.1 256.2L249.3 257L249.5 257.7L249.6 258.4L249.7 258.9L249.8 259.3" stroke="#000" stroke-width="3.4" fill="none" stroke-linejoin="round" stroke-linecap="butt"/>
<path d="M248.8 255.2L249.1 254.5L249.6 253.5L250.2 252.3L250.7 251.1L251.3 250L251.9 249.1L252.4 248.4L253 247.7L253.6 247.2L254.1 246.7L254.6 246.3L254.9 246" stroke="#000" stroke-width="3.4" fill="none" stroke-linejoin="round" stroke-linecap="butt"/>
<path d="M184.6 196.1L185.7 203.2L188.7 203.2" stroke="#000" stroke-width="3.6" fill="none" stroke-linejoin="round" stroke-linecap="butt"/>
<path d="M180.6 279.6L181.6 283.7L183.6 279.6" stroke="#000" stroke-width="3.6" fill="none" stroke-linejoin="round" stroke-linecap="butt"/>
</g>
<rect x="102.4" y="16.4" width="318.6" height="975.5" fill="none" stroke="#000" stroke-width="2.7"/>
<path d="M538.1 991.9v-7.5M555.8 991.9v-7.5M573.5 991.9v-15.5M591.2 991.9v-7.5M608.9 991.9v-7.5M626.6 991.9v-15.5M644.3 991.9v-7.5M662 991.9v-7.5M679.7 991.9v-15.5M697.4 991.9v-7.5M715.1 991.9v-7.5M732.8 991.9v-15.5M750.5 991.9v-7.5M768.2 991.9v-7.5M785.9 991.9v-15.5M803.6 991.9v-7.5M821.3 991.9v-7.5" stroke="#000" stroke-width="2.4" fill="none"/>
<path d="M520.4 796.8h15M520.4 601.7h15M520.4 406.6h15M520.4 211.5h15" stroke="#000" stroke-width="2.4" fill="none"/>
<g clip-path="url(#c1)">
<path d="M525.3 914.4L526.1 914.5L527.3 914.7L528.6 915L530.1 915.3L531.5 915.6L532.7 915.9L533.7 916.2L534.8 916.6L535.9 917.1L536.8 917.5L537.6 917.8L538.1 918.1" stroke="#f00" stroke-width="3.5" fill="none" stroke-linejoin="round" stroke-linecap="butt"/>
<path d="M538.1 918.1h0M547.3 919.9h0M556.5 921.7h0M566.5 925.4h0M576.6 929h0M587.6 934.5h0M597.7 942.8h0M607.7 950.1h0M618.7 952.9h0M629.7 951h0M640.7 947.7h0M651.7 946.4h0M662.7 945.2h0M673.7 946.4h0M682.8 947.4h0M693.8 950.1h0M704.8 952.9h0M714.9 953.8h0M725.9 952.9h0M735.9 951.4h0M746.9 950.7h0M757.9 950.1h0M768.9 950.1h0M778.1 949.2h0M787.2 947.7h0M794.6 945.9h0M803.7 942.2h0" stroke="#f00" stroke-width="12.2" fill="none" stroke-linecap="round"/>
<path d="M673.7 943.7L675.1 943.9L676.9 944.1L679.2 944.4L681.6 944.7L684.1 945.1L686.5 945.5L688.8 946L691.3 946.6L693.8 947.2L696.3 947.8L698.7 948.3L701.2 948.8L703.7 949.3L706.3 949.7L708.9 950.1L711.4 950.5L713.4 950.8L714.9 951" stroke="#f00" stroke-width="3.5" fill="none" stroke-linejoin="round" stroke-linecap="butt"/>
<path d="M803.7 939.1L805.4 938.5L807.6 937.6L810.4 936.5L813.2 935.4L816 934.4L818.4 933.6L820.4 933.1L822.4 932.7L824.3 932.4L826 932.2L827.7 932L829.4 931.8L831 931.6L832.6 931.5L834.2 931.4L835.6 931.3L836.7 931.3L837.6 931.2" stroke="#f00" stroke-width="3.5" fill="none" stroke-linejoin="round" stroke-linecap="butt"/>
<path d="M525.3 885.1L526.1 885.3L527.3 885.5L528.6 885.7L530.1 886L531.5 886.3L532.7 886.6L533.7 886.8L534.8 887L535.9 887.3L536.8 887.5L537.6 887.7L538.1 887.8" stroke="#f00" stroke-width="3.5" fill="none" stroke-linejoin="round" stroke-linecap="butt"/>
<path d="M538.1 887.8h0M547.3 889.7h0M556.5 892.4h0M566.5 897h0M576.6 902.5h0M587.6 908.9h0M597.7 918.1h0M607.7 927.2h0M618.7 931.8h0M629.7 929h0M640.7 924.5h0M651.7 920.8h0M662.7 918.1h0M673.7 917.7h0M682.8 919h0M693.8 921.7h0M704.8 926.3h0M714 930.9h0M725 931.8h0M735.9 928.1h0M746.9 923.6h0M757.9 921.4h0M768.9 921.7h0M778.1 923.2h0M787.2 926.3h0M794.6 927.2h0M803.7 924.5h0" stroke="#f00" stroke-width="12.2" fill="none" stroke-linecap="round"/>
<path d="M587.6 905.2L588.7 906.1L590.2 907.4L592 908.8L593.9 910.4L595.9 912L597.7 913.5L599.4 914.9L601.1 916.5L602.8 918L604.5 919.5L606.1 920.9L607.7 922.1L609.4 923.2L611.2 924.2L613 925.2L614.6 926L615.9 926.7L616.9 927.2" stroke="#f00" stroke-width="3.5" fill="none" stroke-linejoin="round" stroke-linecap="butt"/>
<path d="M629.7 925.4L631.5 924.4L634 923.1L636.9 921.5L640.1 919.8L643.3 918.3L646.2 917.1L649 916.3L651.8 915.6L654.7 915L657.5 914.6L660.2 914.3L662.7 914L665.1 913.9L667.3 913.9L669.4 914L671.5 914.2L673.5 914.4L675.5 914.8L677.6 915.2L679.7 915.8L681.8 916.5L683.7 917.1L685.3 917.7L686.5 918.1" stroke="#f00" stroke-width="3.5" fill="none" stroke-linejoin="round" stroke-linecap="butt"/>
<path d="M704.8 924.5L706 924.6L707.7 924.9L709.6 925.2L711.7 925.4L713.8 925.6L715.8 925.8L717.7 925.7L719.5 925.6L721.4 925.5L723.3 925.3L725.1 925.2L726.8 925L728.5 924.9L730.3 924.8L732.1 924.7L733.6 924.6L735 924.5L735.9 924.5" stroke="#f00" stroke-width="3.5" fill="none" stroke-linejoin="round" stroke-linecap="butt"/>
<path d="M803.7 920.8L805.4 920L807.6 918.9L810.4 917.6L813.2 916.2L816 915L818.4 914L820.4 913.3L822.4 912.7L824.3 912.3L826 911.9L827.7 911.6L829.4 911.3L831 911L832.6 910.8L834.2 910.7L835.6 910.5L836.7 910.4L837.6 910.4" stroke="#f00" stroke-width="3.5" fill="none" stroke-linejoin="round" stroke-linecap="butt"/>
<path d="M525.3 828.3L526.1 828.4L527.3 828.6L528.6 828.7L530.1 828.9L531.5 829.1L532.7 829.2L533.7 829.4L534.8 829.6L535.9 829.7L536.8 829.9L537.6 830L538.1 830.1" stroke="#f00" stroke-width="3.5" fill="none" stroke-linejoin="round" stroke-linecap="butt"/>
<path d="M538.1 830.1h0M546.4 832.6h0M554.4 835.7h0M562.3 839h0M569.7 843.4h0M576.8 848.4h0M583.8 853.3h0M590.8 858.2h0M598.2 862.7h0M605.5 867.2h0M612.5 872.2h0M619.8 876.8h0M628.1 878.2h0M635.3 873.7h0M642.4 868.8h0M650.1 865.2h0M658.4 862.8h0M667 862h0M675.5 862.8h0M683.9 864.8h0M692 867.5h0M699.4 871.8h0M706.4 876.9h0M714.3 879.9h0M722.7 878.7h0M730.3 874.6h0M737.9 870.6h0M746 867.7h0M754.3 865.5h0M762.8 865.1h0M771.3 866.4h0M779.4 869.2h0M787 873.2h0M795 875.8h0M803.1 873.1h0M805.5 872.3h0" stroke="#f00" stroke-width="12.2" fill="none" stroke-linecap="round"/>
<path d="M572.9 843L575 843.9L577.8 845.2L581.2 846.8L584.7 848.5L588.2 850.2L591.3 851.8L594 853.3L596.6 854.8L599 856.3L601.4 857.9L603.7 859.4L605.9 860.9L608.1 862.5L610.3 864.1L612.3 865.8L614.2 867.3L615.7 868.6L616.9 869.5" stroke="#f00" stroke-width="3.5" fill="none" stroke-linejoin="round" stroke-linecap="butt"/>
<path d="M637 868.6L638 867.8L639.4 866.6L641.1 865.2L642.8 863.8L644.6 862.4L646.2 861.3L647.7 860.4L649.3 859.6L650.8 858.9L652.3 858.3L653.8 857.7L655.4 857.3L656.9 856.8L658.4 856.5L659.9 856.2L661.5 856L663 855.8L664.5 855.8L666.2 855.9L667.9 856.1L669.7 856.4L671.3 856.8L672.7 857.1L673.7 857.3" stroke="#f00" stroke-width="3.5" fill="none" stroke-linejoin="round" stroke-linecap="butt"/>
<path d="M710.3 873.2L711.5 872.6L713.1 871.8L715 870.9L717.1 869.9L719.2 869L721.3 868.2L723.4 867.6L725.6 867L727.8 866.5L730 866L732.2 865.6L734.1 865.3L736 865.1L737.8 865L739.5 864.9L741 864.9L742.3 865L743.3 864.9" stroke="#f00" stroke-width="3.5" fill="none" stroke-linejoin="round" stroke-linecap="butt"/>
<path d="M805.5 870.4L806.7 869.7L808.4 868.6L810.4 867.3L812.5 865.9L814.6 864.6L816.5 863.5L818.4 862.5L820.2 861.6L822.1 860.8L823.9 860L825.7 859.3L827.5 858.7L829.4 858.3L831.3 857.9L833.2 857.7L835 857.5L836.5 857.4L837.6 857.3" stroke="#f00" stroke-width="3.5" fill="none" stroke-linejoin="round" stroke-linecap="butt"/>
<path d="M525.3 769.9L526.1 770.1L527.3 770.4L528.6 770.8L530.1 771.2L531.5 771.5L532.7 771.7L533.7 771.8L534.8 771.9L535.9 771.8L536.8 771.8L537.6 771.7L538.1 771.7" stroke="#f00" stroke-width="3.5" fill="none" stroke-linejoin="round" stroke-linecap="butt"/>
<path d="M538.1 771.7h0M546.1 774.9h0M553.9 778.7h0M561.7 782.2h0M569.2 786.4h0M576 791.6h0M582.8 796.8h0M590.8 800h0M599.1 802.4h0M606.9 806h0M613.8 811h0M620 817h0M626.1 823h0M633.6 822.1h0M639.1 815.5h0M645 809.3h0M652.4 804.9h0M660.6 802.4h0M669.2 802.1h0M677.5 804.1h0M685.3 807.6h0M692.8 811.9h0M700 816.6h0M707.9 819.2h0M715.8 815.7h0M723.7 812.5h0M731.9 809.8h0M740.4 808.5h0M749 808.2h0M757.6 808.7h0M766 810.3h0M774.3 812.5h0M781.8 816.5h0M788.8 821.5h0M797 822.3h0M800.1 821.2h0" stroke="#f00" stroke-width="12.2" fill="none" stroke-linecap="round"/>
<path d="M710.3 813.8L711.5 813.1L713.1 812.1L715 810.9L717.1 809.6L719.2 808.4L721.3 807.4L723.3 806.6L725.4 805.8L727.6 805.1L729.8 804.5L732 804L734.1 803.8L736.4 803.8L738.9 804L741.3 804.5L743.6 804.9L745.5 805.3L746.9 805.6" stroke="#f00" stroke-width="3.5" fill="none" stroke-linejoin="round" stroke-linecap="butt"/>
<path d="M781.7 815.7L783.4 815.6L785.7 815.6L788.4 815.5L791.2 815.4L794 815.1L796.4 814.8L798.4 814.2L800.3 813.5L802 812.8L803.7 811.9L805.5 811L807.4 810.2L809.4 809.3L811.3 808.4L813.4 807.4L815.5 806.4L817.8 805.5L820.2 804.7L823 803.9L826.3 803.1L829.7 802.3L832.9 801.6L835.7 801.1L837.6 800.7" stroke="#f00" stroke-width="3.5" fill="none" stroke-linejoin="round" stroke-linecap="butt"/>
<path d="M525.3 740.6L526.3 740.9L527.8 741.3L529.4 741.8L531.2 742.3L533 742.8L534.5 743.3L535.8 743.8L537.1 744.3L538.3 744.8L539.5 745.3L540.7 745.7L541.8 746.1L543 746.3L544.3 746.6L545.5 746.7L546.6 746.8L547.5 746.9L548.2 747" stroke="#f00" stroke-width="3.5" fill="none" stroke-linejoin="round" stroke-linecap="butt"/>
<path d="M548.2 747h0M555.2 752h0M562.1 757.2h0M568.5 762.9h0M575.3 768.2h0M583.1 771.6h0M591.6 770.8h0M600.2 771.1h0M608.3 773.8h0M615.1 777.2h0" stroke="#f00" stroke-width="12.2" fill="none" stroke-linecap="round"/>
<path d="M625.1 787.3h0M637 785.5h0" stroke="#f00" stroke-width="12.2" fill="none" stroke-linecap="round"/>
<path d="M644.4 779h0M652 775.1h0M660.3 772.8h0M668.8 773.5h0M676.7 776.8h0M684.4 780.6h0M691.4 785.6h0M698.8 789.8h0M707.2 789.8h0M714.5 785.3h0M722.3 781.7h0M730.7 780h0M739.2 780.8h0M747.5 783h0M755.7 785.6h0M764.1 787.6h0M772.3 789.7h0M776.2 791.9h0" stroke="#f00" stroke-width="12.2" fill="none" stroke-linecap="round"/>
<path d="M784.5 797.4h0M794.6 793.7h0M803.7 787.3h0" stroke="#f00" stroke-width="12.2" fill="none" stroke-linecap="round"/>
<path d="M615.1 777.2L616.2 778.3L617.9 779.9L619.8 781.7L621.8 783.6L623.6 785.2L625.1 786.4L626.3 787.1L627.3 787.6L628.1 787.8L628.9 787.8L629.7 787.7L630.6 787.3L631.6 786.7L632.6 785.7L633.6 784.6L634.7 783.4L635.8 782.1L637 780.9L638.4 779.7L639.8 778.4L641.3 777L642.9 775.8L644.5 774.6L646.2 773.6L647.9 772.7L649.7 771.9L651.6 771.2L653.5 770.6L655.3 770.2L657.2 769.9L659.2 769.8L661.3 769.9L663.4 770.1L665.3 770.4L667 770.7L668.2 770.8" stroke="#f00" stroke-width="3.5" fill="none" stroke-linejoin="round" stroke-linecap="butt"/>
<path d="M708.5 786.4L709.7 785.4L711.3 784.1L713.2 782.5L715.3 780.8L717.4 779.3L719.5 778.1L721.5 777.2L723.6 776.3L725.8 775.6L727.9 775L730.1 774.7L732.3 774.5L734.6 774.6L737 775L739.5 775.6L741.8 776.3L743.7 776.8L745.1 777.2" stroke="#f00" stroke-width="3.5" fill="none" stroke-linejoin="round" stroke-linecap="butt"/>
<path d="M774.4 789.1L776.4 788.5L779.2 787.5L782.4 786.4L785.9 785.2L789.5 784.1L792.7 783.1L795.7 782.2L798.5 781.3L801.4 780.4L804.3 779.6L807.5 778.8L811 778.1L815.3 777.5L820.3 777L825.5 776.4L830.4 776L834.6 775.7L837.6 775.4" stroke="#f00" stroke-width="3.5" fill="none" stroke-linejoin="round" stroke-linecap="butt"/>
<path d="M525.3 712.2L526.3 712.4L527.7 712.6L529.4 712.9L531.2 713.3L532.9 713.6L534.5 714L535.8 714.4L537.1 714.7L538.3 715.1L539.6 715.5L541 716L542.7 716.8L544.7 717.7L546.9 718.7L549.3 719.9L551.7 721.2L554.2 722.6L556.5 724.1L558.7 725.9L560.9 727.9L563 730.1L565.2 732.2L567.3 733.9L569.3 735.1L571.2 735.6L573 735.7L574.8 735.4L576.5 734.9L578.4 734.5L580.3 734.2L582.3 734L584.4 733.7L586.6 733.4L588.8 733.2L590.9 733.1L593.1 733.3L595.2 733.6L597.4 734L599.6 734.6L601.8 735.3L603.9 736L605.9 736.9L607.9 737.9L609.8 739L611.6 740.2L613.4 741.5L615.2 742.9L616.9 744.2L618.6 745.7L620.3 747.3L621.9 749L623.4 750.6L624.8 752.1L626.1 753.4L627.1 754.6L627.9 755.9L628.6 757L629.3 757.8L629.9 758.2L630.6 758L631.3 756.9L631.9 755L632.5 752.7L633.2 750.2L634.1 747.9L635.2 746.1L636.7 744.7L638.3 743.6L640.2 742.7L642.2 741.9L644.2 741.2L646.2 740.6L648.2 740.1L650.3 739.6L652.5 739.3L654.7 739.1L656.9 739L659 739.1L661.2 739.4L663.4 739.8L665.6 740.3L667.7 741L669.8 741.7L671.8 742.4L673.8 743.2L675.6 744.1L677.5 745L679.2 745.9L681 746.9L682.8 747.9L684.7 749L686.7 750.2L688.7 751.3L690.6 752.5L692.3 753.5L693.8 754.3L695 755L695.9 755.5L696.7 756L697.4 756.3L698.3 756.3L699.3 756.2L700.6 755.7L702 754.8L703.6 753.8L705.2 752.7L706.8 751.6L708.5 750.7L710.2 749.8L711.9 748.9L713.7 748.1L715.6 747.3L717.5 746.7L719.5 746.1L721.5 745.6L723.6 745.2L725.8 744.9L727.9 744.7L730.1 744.6L732.3 744.6L734.4 744.7L736.6 745L738.8 745.3L741 745.8L743.1 746.3L745.1 747L747.1 747.8L749 748.9L750.8 750L752.6 751.2L754.4 752.3L756.1 753.4L757.8 754.4L759.4 755.5L761 756.5L762.5 757.4L764 758.2L765.3 758.9L766.3 759.4L767.2 759.9L768 760.2L768.8 760.4L769.7 760.4L770.7 760.4L772 760.1L773.4 759.7L774.9 759.1L776.4 758.4L778.1 757.7L779.9 757.1L781.8 756.3L783.8 755.5L786 754.7L788.2 753.9L790.4 753.1L792.7 752.5L795 752L797.3 751.6L799.7 751.3L802.2 751.1L804.7 750.8L807.4 750.7L810.3 750.5L813.4 750.4L816.7 750.4L819.9 750.3L823 750.3L825.7 750.3L828.2 750.2L830.6 750.2L832.8 750.2L834.7 750.2L836.4 750.1L837.6 750.1" stroke="#f00" stroke-width="3.5" fill="none" stroke-linejoin="round" stroke-linecap="butt"/>
<path d="M542.7 716.8h0M556.5 724.1h0M569.3 735.1h0M582.1 742.4h0M595.8 740.6h0M603.2 744.2h0M609.6 748.8h0M617.8 752.5h0M630.6 758.9h0M644.4 748.8h0M658.1 746.1h0M670.9 747h0M684.7 752.5h0M697.5 760.4h0M710.3 758.9h0M730.5 753.4h0M743.3 754.9h0M757 760.7h0" stroke="#f00" stroke-width="12.2" fill="none" stroke-linecap="round"/>
<path d="M525.3 652.9L526.5 653.3L528.2 653.9L530.1 654.5L532.2 655.2L534.4 655.9L536.3 656.6L538.3 657.2L540.4 658L542.5 658.7L544.5 659.3L546.1 659.9L547.3 660.3" stroke="#f00" stroke-width="3.5" fill="none" stroke-linejoin="round" stroke-linecap="butt"/>
<path d="M541.8 661.8h0M555.5 666.4h0M564.7 675.6h0" stroke="#f00" stroke-width="12.2" fill="none" stroke-linecap="round"/>
<path d="M572.9 686.6h0M581.2 684.1h0M589.4 681.4h0M597.8 681.8h0M605.9 684.7h0M613.1 689.3h0M620.1 694.4h0M627.8 697.3h0M635.2 693h0M642.8 689h0M651.1 686.8h0M659.7 686.9h0M668 688.9h0M676.2 691.7h0M683.7 695.7h0M688.3 699.4h0" stroke="#f00" stroke-width="12.2" fill="none" stroke-linecap="round"/>
<path d="M706.6 701.2h0M724 694.8h0M741.4 696.6h0M758.8 705.8h0M768 707.6h0M786.3 706.7h0" stroke="#f00" stroke-width="12.2" fill="none" stroke-linecap="round"/>
<path d="M572.9 681.1L575 680.3L577.8 679.1L581.2 677.7L584.7 676.5L588.2 675.5L591.3 675L594.1 675.2L597 676L599.7 677L602.2 678.1L604.4 679.1L605.9 679.8" stroke="#f00" stroke-width="3.5" fill="none" stroke-linejoin="round" stroke-linecap="butt"/>
<path d="M688.3 699.4L689.3 699.4L690.6 699.6L692.2 699.7L694 699.8L695.7 699.7L697.5 699.4L699.2 698.8L701 697.9L702.9 696.9L704.7 695.8L706.6 694.8L708.5 693.9L710.3 693L712.1 692.2L713.9 691.3L715.7 690.5L717.5 689.8L719.5 689.3L721.5 688.9L723.6 688.6L725.8 688.3L727.9 688.2L730.1 688.2L732.3 688.4L734.4 688.7L736.6 689.2L738.8 689.8L741 690.5L743.1 691.3L745.1 692.1L747.1 692.9L749 693.8L750.8 694.9L752.6 695.8L754.4 696.8L756.1 697.5L757.7 698.2L759.1 698.9L760.6 699.5L762 700L763.5 700.2L765.3 700.3L767.2 700.1L769.2 699.6L771.3 698.9L773.5 698.2L775.8 697.4L778.1 696.6L780.4 695.9L782.8 695L785.3 694.1L787.8 693.3L790.3 692.6L792.7 692.1L795.1 691.7L797.5 691.6L799.8 691.5L802.2 691.6L804.7 691.8L807.4 692.1L810.3 692.5L813.4 693.1L816.7 693.8L819.9 694.5L823 695.2L825.7 695.7L828.2 696.1L830.6 696.5L832.8 696.9L834.7 697.1L836.4 697.4L837.6 697.5" stroke="#f00" stroke-width="3.5" fill="none" stroke-linejoin="round" stroke-linecap="butt"/>
<path d="M525.3 623.6L526.5 624.1L528.2 624.8L530.2 625.6L532.4 626.4L534.5 627.3L536.3 628.2L538 629.1L539.6 630.1L541.1 631.1L542.6 632L544.1 632.9L545.5 633.7L546.9 634.3L548.3 634.9L549.7 635.4L551 635.8L552 636.2L552.8 636.4" stroke="#f00" stroke-width="3.5" fill="none" stroke-linejoin="round" stroke-linecap="butt"/>
<path d="M552.8 636.4h0M557.1 643.9h0M562.4 650.7h0M568.4 656.8h0M574.7 660.1h0M580.7 654h0M588.4 650.1h0M596.8 649.9h0M604.8 653.1h0M612.2 657.5h0M619.4 662.2h0M626.1 666.7h0" stroke="#f00" stroke-width="12.2" fill="none" stroke-linecap="round"/>
<path d="M637 661.2h0M645 657.9h0M653.4 656.6h0M661.9 658.2h0M669.6 661.9h0M676.9 666.4h0M684.2 671h0M692.1 674.3h0M700.4 673.8h0M707.5 668.9h0M715.2 665.1h0M723.6 663.8h0M732 665.8h0M739.8 669.4h0M747.2 673.7h0M754.7 677.9h0M763 677.3h0M771.2 674.5h0M779.5 672.5h0M788.1 672.5h0M794.6 674h0" stroke="#f00" stroke-width="12.2" fill="none" stroke-linecap="round"/>
<path d="M626.1 666.7h0" stroke="#f00" stroke-width="12.2" fill="none" stroke-linecap="round"/>
<path d="M706.6 664.8L708 664.3L710 663.4L712.3 662.4L714.7 661.5L717.2 660.7L719.5 660.3L721.6 660.1L723.7 660.2L725.9 660.4L728 660.8L730.1 661.4L732.3 662.1L734.4 663L736.6 664.2L738.8 665.6L741 667L743.1 668.3L745.1 669.4L747.1 670.4L749 671.4L750.9 672.4L752.8 673.2L754.5 673.7L756.1 674L757.5 673.9L758.7 673.5L759.8 672.8L760.8 672.1L762 671.2L763.4 670.3L765 669.4L766.7 668.3L768.6 667.1L770.5 665.9L772.4 664.8L774.4 663.9L776.4 663.2L778.5 662.5L780.7 661.9L782.9 661.4L785.1 661L787.2 660.8L789.4 660.7L791.6 660.8L793.8 661L795.9 661.3L798 661.6L800.1 662.1L802 662.6L803.9 663.3L805.8 664L807.6 664.8L809.3 665.7L811 666.7L812.7 667.7L814.2 668.9L815.7 670.2L817.2 671.4L818.7 672.7L820.2 674L821.7 675.2L823.3 676.5L824.8 677.8L826.4 679L827.9 680.2L829.4 681.3L830.9 682.4L832.5 683.5L834 684.5L835.5 685.5L836.7 686.2L837.6 686.8" stroke="#f00" stroke-width="3.5" fill="none" stroke-linejoin="round" stroke-linecap="butt"/>
<path d="M525.3 593.4L525.8 593.6L526.4 593.7L527.1 594L528 594.3L529.3 594.7L530.8 595.2L532.9 595.9L535.5 596.7L538.4 597.5L541.3 598.5L544 599.6L546.4 600.7L548.3 602L549.9 603.2L551.4 604.6L552.7 606.2L554.1 607.9L555.5 609.9L557.1 612.3L558.8 615L560.5 617.9L562.1 620.9L563.5 623.8L564.7 626.4L565.5 629L566.1 631.8L566.4 634.5L566.7 636.8L567 638.5L567.5 639.2L567.9 638.7L568.4 637.3L568.9 635.2L569.5 632.7L570.2 630.3L571.1 628.2L572.4 626.2L574.1 624.1L575.9 622L577.7 620.1L579.2 618.4L580.3 617.2" stroke="#f00" stroke-width="3.5" fill="none" stroke-linejoin="round" stroke-linecap="butt"/>
<path d="M546.4 600.7h0M555.5 609.9h0M564.7 626.4h0M573.9 631.9h0" stroke="#f00" stroke-width="12.2" fill="none" stroke-linecap="round"/>
<path d="M580.3 617.2h0M588.7 615.6h0M597.3 616h0M604.7 620.2h0M611 626h0M617.1 632h0M624.5 636.3h0M631.9 632.6h0M639.1 628.1h0M647.4 626h0M655.9 627h0M663.7 630.6h0M670.9 635.3h0M677.3 641h0M684.5 645.6h0M692.9 645.9h0M701.1 643.3h0M709.2 640.3h0M717.7 639.2h0M726.2 640.4h0M734.1 643.7h0M741.4 647.4h0" stroke="#f00" stroke-width="12.2" fill="none" stroke-linecap="round"/>
<path d="M758.8 650.2h0M777.2 644.7h0" stroke="#f00" stroke-width="12.2" fill="none" stroke-linecap="round"/>
<path d="M693.8 642.9L695 642.1L696.6 641.1L698.5 639.9L700.6 638.6L702.7 637.4L704.8 636.4L706.9 635.6L709 634.8L711.2 634.1L713.4 633.5L715.6 633L717.6 632.8L719.6 632.7L721.4 632.8L723.2 633.1L725 633.5L726.8 634L728.6 634.6L730.4 635.4L732.2 636.4L734 637.6L735.8 638.8L737.7 640L739.6 641L741.7 642.1L743.9 643.4L746.1 644.6L748.4 645.6L750.5 646.3L752.4 646.5L754.1 646.1L755.6 645.3L757 644.1L758.4 642.7L759.9 641.3L761.6 640.1L763.5 639L765.6 637.8L767.8 636.6L770 635.5L772.2 634.5L774.4 633.7L776.5 633.1L778.7 632.6L780.8 632.3L783 632L785.1 631.9L787.2 631.9L789.4 631.9L791.6 632.1L793.8 632.4L795.9 632.8L798 633.2L800.1 633.7L801.9 634.2L803.7 634.7L805.4 635.2L807.2 635.9L809 636.6L811 637.4L813.3 638.3L815.8 639.4L818.3 640.6L820.9 641.7L823.4 642.8L825.7 643.8L828 644.6L830.3 645.3L832.6 646L834.6 646.6L836.3 647.1L837.6 647.4" stroke="#f00" stroke-width="3.5" fill="none" stroke-linejoin="round" stroke-linecap="butt"/>
<path d="M525.3 560.4L526.5 560.9L528.2 561.5L530.2 562.3L532.4 563.1L534.5 564L536.3 565L538 566.1L539.6 567.3L541.1 568.5L542.6 569.8L544.1 571.1L545.5 572.3L546.9 573.7L548.3 575.1L549.7 576.5L551 577.8L552 578.9L552.8 579.7" stroke="#f00" stroke-width="3.5" fill="none" stroke-linejoin="round" stroke-linecap="butt"/>
<path d="M552.8 579.7h0M556.4 587.4h0M561.4 594.4h0M565.6 601.9h0" stroke="#f00" stroke-width="12.2" fill="none" stroke-linecap="round"/>
<path d="M562 595.2L562.4 597.8L563 601.8L563.7 606.3L564.4 610.6L565.2 613.9L566 615.4L566.8 614.7L567.8 612.3L568.8 608.9L569.7 605.2L570.5 601.9L571.1 599.8" stroke="#f00" stroke-width="3.5" fill="none" stroke-linejoin="round" stroke-linecap="butt"/>
<path d="M571.1 599.8h0M575.8 592.6h0M582.7 587.6h0M591 585.9h0M599.1 588.3h0M605.4 594.1h0M611.3 600.3h0M617.2 606.6h0" stroke="#f00" stroke-width="12.2" fill="none" stroke-linecap="round"/>
<path d="M617.8 607.1L618.3 608.1L619 609.6L619.8 611.2L620.6 612.8L621.5 614L622.4 614.5L623.3 614.1L624.4 613.1L625.4 611.7L626.4 610.2L627.3 608.9L627.9 608.1" stroke="#f00" stroke-width="3.5" fill="none" stroke-linejoin="round" stroke-linecap="butt"/>
<path d="M627.9 605.3h0M635.6 601.5h0M644 599.8h0M652.3 601.7h0M659.5 606.3h0M664.5 613.2h0M666.4 617.2h0" stroke="#f00" stroke-width="12.2" fill="none" stroke-linecap="round"/>
<path d="M679.2 620h0M686.5 615.4h0M694.2 611.6h0M702.7 611h0M710.6 614h0M718.2 617.9h0M726 621.5h0M734.1 624.2h0M741.4 624.5h0" stroke="#f00" stroke-width="12.2" fill="none" stroke-linecap="round"/>
<path d="M750.6 625.5h0M757.9 620.9h0M765.9 618h0M774.5 617.2h0M781.7 620h0" stroke="#f00" stroke-width="12.2" fill="none" stroke-linecap="round"/>
<path d="M794.6 624.5h0" stroke="#f00" stroke-width="12.2" fill="none" stroke-linecap="round"/>
<path d="M631.6 601.6L632.7 601.2L634.4 600.5L636.4 599.8L638.5 599L640.6 598.4L642.5 598L644.4 597.8L646.3 597.8L648.2 597.9L650 598.1L651.8 598.4L653.5 598.9L655.2 599.5L656.7 600.3L658.2 601.1L659.7 602.1L661.2 603.2L662.7 604.4L664.3 605.8L665.9 607.3L667.5 609L669.1 610.6L670.5 612.2L671.8 613.6L672.9 614.9L673.7 616.2L674.4 617.4L675.1 618.4L676 619L677.3 619L679.1 618.3L681.1 616.9L683.4 615.1L685.8 613.1L688 611.3L690.2 609.9L692.1 608.8L694 607.8L695.8 606.9L697.6 606.2L699.3 605.7L701.2 605.3L703 605.2L704.9 605.3L706.8 605.5L708.6 606L710.4 606.5L712.1 607.1L713.8 608L715.4 609L716.9 610.1L718.4 611.3L719.9 612.5L721.3 613.6L722.6 614.5L723.9 615.5L725.1 616.5L726.2 617.4L727.4 618.2L728.6 619L729.8 619.8L730.9 620.6L732.1 621.4L733.2 622L734.5 622.5L735.9 622.7L737.6 622.7L739.4 622.4L741.3 622L743.3 621.5L745.2 620.8L746.9 620L748.5 619L750.1 617.7L751.5 616.4L753 615L754.5 613.7L756.1 612.6L757.8 611.8L759.6 610.9L761.5 610.2L763.4 609.7L765.2 609.2L767.1 609L768.9 608.9L770.8 609.1L772.7 609.4L774.5 609.9L776.3 610.3L778.1 610.8L779.7 611.3L781.3 612L782.9 612.7L784.4 613.4L785.8 614L787.2 614.5L788.5 614.8L789.7 615.2L790.9 615.4L792 615.6L793.3 615.6L794.6 615.4L796 615L797.4 614.3L798.9 613.6L800.5 612.7L802.1 611.7L803.7 610.8L805.4 609.8L807.2 608.7L809.1 607.5L811 606.4L812.9 605.3L814.7 604.4L816.5 603.6L818.3 602.9L820.1 602.2L822 601.6L823.8 601.2L825.7 600.7L827.8 600.4L830 600.2L832.3 600L834.5 600L836.3 599.9L837.6 599.8" stroke="#f00" stroke-width="3.5" fill="none" stroke-linejoin="round" stroke-linecap="butt"/>
<path d="M525.3 530.2L525.7 530.4L526.3 530.5L527 530.7L527.7 531L528.5 531.2L529.3 531.5L530.1 531.8L530.8 532.1L531.5 532.3L532 532.5L532.5 532.7L533.1 533L533.7 533.3L534.4 533.6L535.2 534.1L536.3 534.8L537.7 535.6L539.2 536.4L540.9 537.2L542.8 538.2L544.7 539.4L546.6 540.7L548.4 542.2L550.1 544L551.7 546.1L553.3 548.5L555 551.2L556.6 554L558.1 556.9L559.6 559.8L560.9 562.5L562 565L562.8 567.5L563.5 570.2L564 572.9L564.4 575.5L564.7 577.9L565.1 579.7L565.5 581L566 581.5L566.6 581L567.1 579.7L567.7 577.6L568.3 575.2L569 572.6L569.7 570L570.4 567.7L571.1 565.9L571.9 564.6L572.7 563.4L573.5 562.4L574.4 561.5L575.3 560.7L576.3 560L577.3 559.3L578.4 558.6L579.6 557.9L580.9 557.2L582.3 556.6L583.7 556L585.1 555.5L586.6 555.1L588 554.9L589.4 554.9L590.8 555.2L592.2 555.5L593.6 556.1L595 556.8L596.4 557.6L597.8 558.5L599.1 559.4L600.4 560.4L601.7 561.6L602.9 562.8L604.1 564.2L605.2 565.6L606.4 567.1L607.5 568.6L608.5 570.1L609.6 571.4L610.6 572.8L611.6 574.1L612.6 575.5L613.5 576.8L614.4 578.1L615.3 579.3L616.1 580.5L616.9 581.5L617.6 582.5L618.2 583.5L618.7 584.5L619.2 585.4L619.7 586.1L620.3 586.7L620.8 587L621.5 587L622.2 586.6L622.9 585.9L623.6 584.8L624.4 583.6L625.2 582.3L626.1 581L626.9 579.8L627.9 578.8L628.9 577.8L630 576.9L631.1 576L632.3 575.1L633.5 574.3L634.7 573.6L635.9 572.9L637 572.3L638.2 571.9L639.3 571.5L640.5 571.1L641.6 570.9L642.8 570.7L643.9 570.5L645.1 570.5L646.2 570.5L647.3 570.6L648.5 570.8L649.6 571L650.8 571.3L651.9 571.7L653.1 572.1L654.2 572.7L655.4 573.3L656.5 573.9L657.7 574.7L658.8 575.6L659.9 576.5L661.1 577.5L662.2 578.5L663.4 579.6L664.5 580.6L665.7 581.7L666.9 582.9L668.2 584.2L669.4 585.5L670.6 586.8L671.7 587.9L672.8 588.9L673.7 589.7L674.5 590.4L675.1 590.9L675.6 591.3L676.1 591.6L676.6 591.7L677.1 591.8L677.6 591.7L678.3 591.6L679 591.3L679.7 590.8L680.4 590.1L681.2 589.4L682 588.6L682.8 587.8L683.7 586.9L684.7 586.1L685.7 585.2L686.8 584.2L687.9 583.2L689.1 582.2L690.3 581.2L691.5 580.2L692.7 579.4L693.8 578.8L695 578.2L696.1 577.8L697.3 577.5L698.4 577.3L699.5 577.1L700.7 577L701.8 576.9L703 576.9L704.1 577L705.3 577L706.4 577.2L707.6 577.4L708.7 577.6L709.8 578L711 578.3L712.1 578.8L713.3 579.2L714.4 579.8L715.6 580.4L716.7 581.1L717.9 581.8L719 582.6L720.2 583.4L721.3 584.2L722.5 585.2L723.7 586.2L724.9 587.4L726.1 588.5L727.3 589.7L728.4 590.8L729.5 591.7L730.5 592.5L731.3 593.2L732 593.8L732.7 594.3L733.3 594.7L733.9 595.1L734.5 595.3L735.2 595.3L735.9 595.2L736.8 594.9L737.6 594.4L738.5 593.8L739.4 593L740.3 592.2L741.3 591.3L742.3 590.5L743.3 589.7L744.3 589L745.4 588.3L746.5 587.5L747.6 586.8L748.8 586L750 585.4L751.2 584.8L752.4 584.2L753.7 583.8L755.1 583.4L756.4 583.1L757.8 582.8L759.2 582.6L760.6 582.5L762 582.4L763.4 582.4L764.8 582.5L766.2 582.7L767.6 583L769 583.4L770.4 583.8L771.8 584.2L773.1 584.7L774.4 585.2L775.6 585.7L776.8 586.2L778 586.8L779.1 587.4L780.2 588L781.3 588.6L782.4 589.2L783.6 589.7L784.7 590.3L785.9 591L787 591.7L788.1 592.3L789.3 592.9L790.4 593.3L791.6 593.5L792.7 593.4L793.8 593L794.9 592.4L796 591.5L797.1 590.5L798.2 589.4L799.3 588.3L800.6 587.2L801.9 586.1L803.3 585L804.9 583.8L806.5 582.6L808.2 581.3L809.9 580.1L811.5 578.9L813.2 577.9L814.7 576.9L816.2 576.1L817.6 575.4L818.9 574.7L820.3 574.2L821.6 573.7L822.9 573.2L824.3 572.8L825.7 572.3L827.2 572L828.9 571.7L830.6 571.4L832.3 571.1L834 570.9L835.4 570.8L836.7 570.6L837.6 570.5" stroke="#f00" stroke-width="3.5" fill="none" stroke-linejoin="round" stroke-linecap="butt"/>
<path d="M536.3 534.8h0M550.1 544h0M562 565h0M577.5 560.4h0M589.4 557.7h0M602.2 564.1h0M615.1 577.8h0M628.8 576.9h0M641.6 575.1h0M668.2 589.7h0M694.7 585.2h0M721.3 590.7h0M747.9 594.3h0M774.4 590.7h0M801.9 593.4h0" stroke="#f00" stroke-width="12.2" fill="none" stroke-linecap="round"/>
<path d="M525.3 499.3L526.1 499.6L527.2 500L528.5 500.5L529.9 501L531.3 501.5L532.7 502.1L533.9 502.6L535.1 503.2L536.3 503.7L537.5 504.4L538.8 505L540 505.8L541.2 506.6L542.5 507.5L543.8 508.4L545 509.4L546.2 510.4L547.3 511.2L548.4 512.1L549.5 513L550.5 513.9L551.4 514.7L552.2 515.3L552.8 515.8" stroke="#f00" stroke-width="3.5" fill="none" stroke-linejoin="round" stroke-linecap="butt"/>
<path d="M552.8 515.8h0M557.1 523.3h0M561.9 530.4h0M562 532.1h0" stroke="#f00" stroke-width="12.2" fill="none" stroke-linecap="round"/>
<path d="M562 533L562.4 534.9L563 537.7L563.7 541L564.5 544.1L565.3 546.5L566 547.6L566.7 547.1L567.5 545.4L568.3 543L569.1 540.4L569.7 538.1L570.2 536.6" stroke="#f00" stroke-width="3.5" fill="none" stroke-linejoin="round" stroke-linecap="butt"/>
<path d="M571.1 530.2h0M579.5 528.2h0M588 528.3h0M595.4 532.5h0M601 538.9h0M607.2 544.8h0M612.1 551.8h0M619.4 554.6h0M626.2 549.4h0M634.4 547.1h0M643 546.5h0M651.3 548.3h0M658.3 553.3h0M664.4 559.4h0M669.1 563.2h0" stroke="#f00" stroke-width="12.2" fill="none" stroke-linecap="round"/>
<path d="M688.3 558.6h0M695.7 554.6h0M703.9 556.4h0M711.1 561.1h0M713.1 562.3h0" stroke="#f00" stroke-width="12.2" fill="none" stroke-linecap="round"/>
<path d="M723.1 567.8h0" stroke="#f00" stroke-width="12.2" fill="none" stroke-linecap="round"/>
<path d="M732.3 560.4h0M740.4 557.6h0M749 557.7h0M757.5 558.5h0M765.9 560.2h0M774.5 561.1h0M782.9 563h0M790.9 566.1h0M795.5 566.8h0" stroke="#f00" stroke-width="12.2" fill="none" stroke-linecap="round"/>
<path d="M624.2 547.6L625.4 547.1L627.1 546.3L629 545.3L631.1 544.4L633.3 543.6L635.2 543L637 542.7L638.9 542.6L640.7 542.5L642.5 542.6L644.4 542.8L646.2 543L648 543.4L649.9 543.8L651.7 544.2L653.5 544.9L655.4 545.7L657.2 546.7L659.1 548L661.1 549.7L663 551.5L664.9 553.4L666.7 555.2L668.2 556.8L669.4 558.3L670.4 560L671.2 561.6L671.9 563L672.7 563.9L673.7 564.1L674.8 563.5L675.9 562.2L677.1 560.4L678.4 558.4L679.7 556.5L681 554.9L682.4 553.7L683.9 552.4L685.4 551.2L686.9 550.2L688.5 549.3L690.2 548.5L691.9 548L693.8 547.7L695.7 547.4L697.6 547.4L699.4 547.4L701.2 547.6L702.8 547.9L704.3 548.3L705.8 548.8L707.3 549.5L708.8 550.3L710.3 551.3L711.9 552.6L713.6 554.1L715.2 555.9L716.8 557.6L718.3 559.2L719.5 560.4L720.4 561.5L721 562.4L721.4 563.2L721.8 563.8L722.4 564.1L723.1 564.1L724.1 563.7L725.2 562.9L726.3 561.9L727.6 560.7L729 559.6L730.5 558.6L732.1 557.7L733.8 556.9L735.7 556L737.6 555.3L739.6 554.6L741.4 554L743.3 553.6L745.1 553.4L746.9 553.2L748.8 553.1L750.6 553.1L752.4 553.1L754.3 553.2L756.1 553.5L757.9 553.7L759.8 554.1L761.6 554.5L763.4 554.9L765.3 555.4L767.1 556L768.9 556.6L770.7 557.3L772.6 557.9L774.4 558.6L776.3 559.4L778.1 560.2L780 561.1L781.9 562L783.7 562.7L785.4 563.2L787 563.5L788.6 563.8L790.1 563.9L791.6 563.8L793.1 563.6L794.6 563.2L796.1 562.5L797.5 561.5L799 560.3L800.5 559.1L802.1 557.9L803.7 556.8L805.4 555.8L807.2 554.8L809.1 553.8L811 552.9L812.9 552L814.7 551.3L816.5 550.6L818.3 550.1L820.1 549.6L822 549.2L823.8 548.9L825.7 548.5L827.8 548.3L830 548.1L832.3 547.9L834.5 547.8L836.3 547.7L837.6 547.6" stroke="#f00" stroke-width="3.5" fill="none" stroke-linejoin="round" stroke-linecap="butt"/>
<path d="M525.3 530.5L525.9 530.7L526.8 531L527.7 531.4L528.8 531.8L529.8 532.1L530.8 532.3L531.8 532.4L532.9 532.4L533.9 532.4L534.9 532.4L535.7 532.3L536.3 532.3" stroke="#f00" stroke-width="3.5" fill="none" stroke-linejoin="round" stroke-linecap="butt"/>
<path d="M536.3 532.3h0" stroke="#f00" stroke-width="12.2" fill="none" stroke-linecap="round"/>
<path d="M525.3 469.1L532.3 472.8" stroke="#00f" stroke-width="3.5" fill="none" stroke-linejoin="round" stroke-linecap="butt"/>
<path d="M532.3 472.8h0M536.8 475.9h0M541.1 479.4h0M544.6 483.6h0M547.8 488h0M550.5 492.8h0M552.9 497.8h0M555.3 502.7h0M558.1 507.5h0M560.1 510.3h0" stroke="#00f" stroke-width="12.2" fill="none" stroke-linecap="round"/>
<path d="M560.1 510.3L560.7 512L561.6 514.6L562.6 517.5L563.7 520.3L564.7 522.3L565.6 523.2L566.4 522.3L567.1 520.3L567.8 517.5L568.4 514.6L568.9 512L569.3 510.3" stroke="#00f" stroke-width="3.5" fill="none" stroke-linejoin="round" stroke-linecap="butt"/>
<path d="M571.1 503h0M576.3 501.2h0M581.8 501.1h0M587 502.7h0M591.2 506.2h0M594.5 510.6h0M597.4 515.3h0M600.4 519.9h0M602.9 524.8h0M605.4 529.6h0M610 532.5h0M615.4 532.6h0M620.4 530.3h0M625.1 527.4h0M629.8 524.6h0M634.7 522.2h0M640 520.6h0M645.5 520.3h0M650.6 522.3h0M655.1 525.4h0M659.5 528.7h0M664.2 531.4h0M669.6 531.7h0M674.8 529.8h0M679.9 527.8h0M685.3 526.8h0M690.8 526.6h0M696.2 527.2h0M701.5 528.8h0M706.5 531h0M711.4 533.5h0M716.1 536.4h0M720.9 539.1h0M726 538.7h0M730 534.9h0M734.4 531.7h0M739.7 530.2h0M744.9 531.8h0M749.5 534.8h0M753.8 538.2h0M758.6 540.8h0M763.8 540.1h0M767.9 536.4h0M772.7 533.7h0M777.9 532.1h0M782.9 534h0M787.2 537.4h0M791 541.3h0M796.3 541.5h0M801.1 538.9h0M805.5 535.6h0M807.4 533.9h0" stroke="#00f" stroke-width="12.2" fill="none" stroke-linecap="round"/>
<path d="M600.4 514.7L601.4 515.7L602.9 517.1L604.5 518.8L606.3 520.6L608 522.3L609.6 523.8L611 525.1L612.4 526.4L613.8 527.6L615.1 528.7L616.1 529.6L616.9 530.2" stroke="#00f" stroke-width="3.5" fill="none" stroke-linejoin="round" stroke-linecap="butt"/>
<path d="M631.6 520.1L632.7 519.4L634.4 518.3L636.4 517.1L638.5 515.9L640.6 515L642.5 514.7L644.4 514.8L646.3 515.3L648.2 516.1L650 517.1L651.8 518.1L653.5 519.2L655.3 520.5L657.1 522L658.8 523.6L660.4 525.2L661.7 526.5L662.7 527.5" stroke="#00f" stroke-width="3.5" fill="none" stroke-linejoin="round" stroke-linecap="butt"/>
<path d="M679.2 523.8L680.4 523.2L682 522.2L684 521.2L686.1 520.2L688.2 519.5L690.2 519.2L692.1 519.6L694.2 520.5L696.3 521.7L698.3 522.9L700 524L701.2 524.7" stroke="#00f" stroke-width="3.5" fill="none" stroke-linejoin="round" stroke-linecap="butt"/>
<path d="M726.8 531.1L727.8 530.2L729.1 528.8L730.7 527.1L732.4 525.6L734.2 524.4L735.9 523.8L737.8 524L739.9 524.9L742 526.1L744 527.4L745.7 528.6L746.9 529.3" stroke="#00f" stroke-width="3.5" fill="none" stroke-linejoin="round" stroke-linecap="butt"/>
<path d="M781.7 529.3L783.3 529.3L785.5 529.2L788.1 529.2L791 529.1L793.8 528.8L796.4 528.4L798.8 527.7L801.3 526.8L803.7 525.8L806.2 524.8L808.6 523.8L811 522.9L813.5 522.1L816 521.4L818.5 520.8L821 520.2L823.4 519.7L825.7 519.2L828 518.9L830.3 518.7L832.6 518.5L834.6 518.5L836.3 518.4L837.6 518.3" stroke="#00f" stroke-width="3.5" fill="none" stroke-linejoin="round" stroke-linecap="butt"/>
<path d="M525.3 438.9L532.3 441.6" stroke="#00f" stroke-width="3.5" fill="none" stroke-linejoin="round" stroke-linecap="butt"/>
<path d="M532.3 441.6h0M536.8 444.8h0M541.1 448.2h0M544.6 452.4h0M547.8 456.9h0M550.5 461.7h0M552.9 466.6h0M555.3 471.6h0M558.3 476.2h0M559.2 477.4h0" stroke="#00f" stroke-width="12.2" fill="none" stroke-linecap="round"/>
<path d="M559.2 477.4L559.7 479.2L560.5 482L561.4 485.3L562.3 488.4L563.1 490.8L563.8 492L564.3 491.8L564.8 490.4L565.2 488.4L565.5 486.1L565.8 484.1L566 482.9" stroke="#00f" stroke-width="3.5" fill="none" stroke-linejoin="round" stroke-linecap="butt"/>
<path d="M565.6 477.4h0M570.5 474.9h0M575.8 473.6h0M580.9 475.6h0M585.3 478.9h0M589.3 482.7h0M593.2 486.6h0M597 490.5h0M601.1 494.2h0M605.3 497.8h0M609.1 501.7h0M614.1 503.9h0M619.2 502.2h0M623.3 498.6h0M627.1 494.6h0M631.4 491.2h0M636.6 489.6h0M642.1 489.4h0M646.9 491.9h0M650.8 495.8h0M654.3 500.1h0M658.6 503.4h0M663.8 502.8h0M668.4 499.8h0M673.1 496.9h0M678.4 495.5h0M683.8 494.7h0M688.9 496.6h0M693.1 500.1h0M697.7 503.1h0M702.9 504.8h0M708.3 505.7h0M713.8 505.2h0M719.2 504.3h0M724.7 503.9h0M730.2 503.9h0M735.6 503.2h0M741.1 502.7h0M746.5 503.6h0M750.9 506.9h0M755.2 510.3h0M758.1 514.9h0M762.1 515.1h0M765.6 510.9h0M769.3 506.8h0M774.2 504.4h0M779.7 504h0M784.9 505.5h0M789.3 508.8h0M792.9 512.9h0M797.1 515.5h0M801.3 512h0M803.7 509.4h0" stroke="#00f" stroke-width="12.2" fill="none" stroke-linecap="round"/>
<path d="M587.6 477.4L588.8 477.9L590.5 478.7L592.5 479.5L594.7 480.6L596.7 481.7L598.6 482.9L600.3 484.2L601.9 485.7L603.5 487.4L605 489L606.5 490.6L607.7 492L608.9 493.3L610 494.6L611.1 495.8L611.9 496.9L612.7 497.8L613.2 498.4" stroke="#00f" stroke-width="3.5" fill="none" stroke-linejoin="round" stroke-linecap="butt"/>
<path d="M627.9 490.2L629.1 489.6L630.7 488.7L632.7 487.7L634.8 486.7L636.9 485.9L638.9 485.6L640.8 485.7L642.7 486.1L644.6 486.7L646.5 487.5L648.2 488.4L649.9 489.3L651.4 490.3L652.9 491.4L654.2 492.7L655.4 493.9L656.4 494.9L657.2 495.7" stroke="#00f" stroke-width="3.5" fill="none" stroke-linejoin="round" stroke-linecap="butt"/>
<path d="M719.5 499.3L720.7 498.9L722.3 498.2L724.3 497.3L726.4 496.6L728.5 496L730.5 495.7L732.4 495.8L734.5 496.2L736.6 496.8L738.6 497.5L740.2 498.1L741.4 498.4" stroke="#00f" stroke-width="3.5" fill="none" stroke-linejoin="round" stroke-linecap="butt"/>
<path d="M796.4 506.7L797.1 505.6L798.2 504.2L799.4 502.5L800.7 500.8L802.2 499L803.7 497.5L805.3 496.1L807.1 494.8L809 493.5L810.9 492.3L812.8 491.2L814.7 490.2L816.5 489.3L818.3 488.6L820.1 488L822 487.5L823.8 487L825.7 486.5L827.8 486.1L830 485.7L832.3 485.4L834.5 485.1L836.3 484.9L837.6 484.7" stroke="#00f" stroke-width="3.5" fill="none" stroke-linejoin="round" stroke-linecap="butt"/>
<path d="M525.3 410.5L532.3 413.3" stroke="#00f" stroke-width="3.5" fill="none" stroke-linejoin="round" stroke-linecap="butt"/>
<path d="M532.3 413.3h0M536.8 416.4h0M541.1 419.9h0M544.6 424.1h0M548.2 428.2h0M551.2 432.8h0M553.1 438h0M555 443.1h0M558.5 447.3h0M559.2 448.1h0" stroke="#00f" stroke-width="12.2" fill="none" stroke-linecap="round"/>
<path d="M556.5 442.6L557 444.4L557.8 447L558.6 450L559.5 453.2L560.4 456.3L561 459L561.5 461.7L561.8 464.5L562.1 467.2L562.3 469.5L562.5 471.2L562.9 471.9L563.3 471.3L563.8 469.6L564.4 467.2L564.9 464.6L565.3 462.4L565.6 460.9" stroke="#00f" stroke-width="3.5" fill="none" stroke-linejoin="round" stroke-linecap="butt"/>
<path d="M565.6 451.7h0M570.1 448.6h0M575.4 447.1h0M580.5 448.8h0M584.9 452.1h0M589 455.7h0M593.3 459.2h0M598.2 461.6h0M603.2 464h0M607.8 467h0M612.3 470.1h0M617.1 472.8h0M621.6 470.8h0M625 466.5h0M629.3 463h0M634.3 460.8h0M639.7 460h0M644.8 462h0M649.4 465.1h0M653.5 468.7h0M658.2 471.5h0M663.3 470.5h0M667.9 467.5h0M673.2 466.1h0M678.6 465.5h0M684 466.7h0M689.1 468.6h0M694 471.1h0M698.9 473.6h0M704.3 472.9h0M709.6 471.5h0M715 470.4h0M720.5 470.1h0M725.9 470.8h0M731.3 472h0M736.6 473.5h0M742 474.6h0M747.4 474.5h0M752.6 476.3h0M757.2 479.2h0M761.2 482.9h0M765.6 483.6h0M769.8 480h0M773.9 476.4h0M778.5 473.3h0M783.7 473.5h0M788.3 476.6h0M791.3 481.1h0M792.7 484.7h0" stroke="#00f" stroke-width="12.2" fill="none" stroke-linecap="round"/>
<path d="M801.9 486.5h0M796.4 494.8h0" stroke="#00f" stroke-width="12.2" fill="none" stroke-linecap="round"/>
<path d="M659 475.5L659.3 476.3L659.7 477.5L660.2 478.8L660.8 480.1L661.3 481L661.8 481.4L662.3 481L662.8 480.1L663.3 478.8L663.8 477.5L664.2 476.3L664.5 475.5" stroke="#00f" stroke-width="3.5" fill="none" stroke-linejoin="round" stroke-linecap="butt"/>
<path d="M700.2 479.2L700.5 479.8L700.9 480.8L701.4 482L702 483L702.5 483.8L703 484.1L703.5 483.8L704 483L704.5 482L705 480.8L705.4 479.8L705.7 479.2" stroke="#00f" stroke-width="3.5" fill="none" stroke-linejoin="round" stroke-linecap="butt"/>
<path d="M587.6 452.6L588.6 452.8L590 453L591.6 453.2L593.4 453.5L595.1 453.9L596.8 454.5L598.3 455.2L599.9 456L601.4 456.9L603 457.9L604.5 458.9L605.9 460L607.3 461.2L608.8 462.5L610.1 464L611.4 465.3L612.5 466.5L613.2 467.3" stroke="#00f" stroke-width="3.5" fill="none" stroke-linejoin="round" stroke-linecap="butt"/>
<path d="M761.6 476.4L762.4 476L763.5 475.4L764.8 474.7L766.2 473.9L767.6 473.3L768.9 472.8L770.2 472.5L771.6 472.2L773 472.1L774.3 472L775.4 471.9L776.2 471.9" stroke="#00f" stroke-width="3.5" fill="none" stroke-linejoin="round" stroke-linecap="butt"/>
<path d="M792.7 486.5L793.3 485.3L794 483.6L794.9 481.6L795.9 479.5L797 477.4L798.2 475.5L799.5 473.9L800.9 472.2L802.5 470.7L804.1 469.2L805.7 467.7L807.4 466.4L809.1 465.1L810.9 463.9L812.8 462.8L814.6 461.7L816.5 460.8L818.4 460L820.2 459.3L822.1 458.7L824 458.2L825.9 457.9L827.7 457.5L829.4 457.2L831 456.9L832.6 456.7L834.2 456.6L835.6 456.5L836.7 456.4L837.6 456.3" stroke="#00f" stroke-width="3.5" fill="none" stroke-linejoin="round" stroke-linecap="butt"/>
<path d="M525.3 380.3L526.1 380.7L527.2 381.1L528.5 381.7L529.9 382.4L531.3 383.1L532.7 384L533.9 384.9L535.2 386L536.4 387.1L537.7 388.3L538.9 389.4L540 390.4L541.1 391.3L542.1 392.2L543.2 393.1L544.1 393.8L544.9 394.5L545.5 394.9" stroke="#00f" stroke-width="3.5" fill="none" stroke-linejoin="round" stroke-linecap="butt"/>
<path d="M546.4 394.9h0M555.5 411.4h0M564.7 435.2h0" stroke="#00f" stroke-width="12.2" fill="none" stroke-linecap="round"/>
<path d="M572.9 424.2h0M578.4 425.2h0M583.7 426.7h0M588.6 429.1h0M591.2 433.4h0M595.5 430h0M600.1 428.6h0M603.6 432.7h0M608 436.1h0M612.8 438.8h0M618.1 439.7h0M622.5 436.6h0M626.7 433h0M631.6 430.6h0M637.1 430.3h0M642 432.5h0M646.4 435.8h0M651.2 438.4h0M656.7 438.9h0M661.9 437.3h0M667.3 437.1h0M672.8 436.7h0M678.3 436.3h0M683.4 438.3h0M687.9 441.3h0M692.1 444.9h0M696.4 448.4h0M701.5 449.8h0M706.7 448.1h0M711.1 444.9h0M716.5 444.2h0M721.8 445.6h0M726.5 448.4h0M730.8 451.8h0M735.8 453.2h0M740.8 451h0M746.2 450.2h0M751.7 449.8h0M757.2 449.6h0M762.5 450.9h0M767.5 453.3h0M772.6 452.2h0M777.8 451.1h0M782.9 453h0M788.3 453.1h0M793.5 451.2h0M794.6 450.8h0" stroke="#00f" stroke-width="12.2" fill="none" stroke-linecap="round"/>
<path d="M616.9 440.7L617.2 441.7L617.6 443.3L618.1 445.1L618.6 446.7L619.2 447.9L619.6 448.4L620.1 447.9L620.7 446.7L621.2 445.1L621.7 443.3L622.1 441.7L622.4 440.7" stroke="#00f" stroke-width="3.5" fill="none" stroke-linejoin="round" stroke-linecap="butt"/>
<path d="M655.4 444.4L655.7 445.5L656.1 447.2L656.6 449.2L657.1 451L657.6 452.4L658.1 453L658.6 452.6L659.1 451.4L659.7 449.7L660.1 447.9L660.6 446.3L660.9 445.3" stroke="#00f" stroke-width="3.5" fill="none" stroke-linejoin="round" stroke-linecap="butt"/>
<path d="M695.7 451.7L696 452.5L696.4 453.7L696.9 455L697.4 456.3L697.9 457.2L698.4 457.6L698.9 457.2L699.4 456.3L699.9 455L700.4 453.7L700.9 452.5L701.2 451.7" stroke="#00f" stroke-width="3.5" fill="none" stroke-linejoin="round" stroke-linecap="butt"/>
<path d="M591.3 426.1L592.1 425.7L593.2 425.1L594.5 424.4L595.9 423.8L597.3 423.4L598.6 423.3L599.9 423.7L601.3 424.5L602.7 425.5L604 426.5L605.1 427.3L605.9 427.9" stroke="#00f" stroke-width="3.5" fill="none" stroke-linejoin="round" stroke-linecap="butt"/>
<path d="M708.5 442.6L709.3 442.1L710.4 441.3L711.7 440.5L713.1 439.7L714.5 439.1L715.8 438.9L717.1 439.1L718.5 439.7L719.9 440.5L721.2 441.3L722.3 442.1L723.1 442.6" stroke="#00f" stroke-width="3.5" fill="none" stroke-linejoin="round" stroke-linecap="butt"/>
<path d="M752.4 446.2L753.6 445.8L755.3 445.2L757.2 444.6L759.4 444L761.5 443.5L763.4 443.5L765.4 443.9L767.5 444.6L769.6 445.6L771.6 446.6L773.2 447.5L774.4 448.1" stroke="#00f" stroke-width="3.5" fill="none" stroke-linejoin="round" stroke-linecap="butt"/>
<path d="M794.6 449.9L795.5 448.9L796.9 447.4L798.4 445.7L800.2 443.9L802 442.2L803.7 440.7L805.4 439.6L807.2 438.5L809 437.5L810.8 436.7L812.7 435.9L814.7 435.2L816.8 434.7L818.9 434.3L821.2 434L823.4 433.7L825.5 433.6L827.5 433.4L829.5 433.3L831.5 433.3L833.4 433.3L835.1 433.3L836.5 433.4L837.6 433.4" stroke="#00f" stroke-width="3.5" fill="none" stroke-linejoin="round" stroke-linecap="butt"/>
<path d="M525.3 351.2L526.1 351.6L527.2 352.1L528.5 352.7L529.9 353.3L531.3 354.1L532.7 354.9L533.9 355.8L535.2 356.8L536.4 357.9L537.7 359.1L538.9 360.2L540 361.3L541.1 362.5L542.1 363.7L543.2 364.9L544.1 366.1L544.9 367L545.5 367.7" stroke="#00f" stroke-width="3.5" fill="none" stroke-linejoin="round" stroke-linecap="butt"/>
<path d="M546.4 369h0M552.8 381.2h0" stroke="#00f" stroke-width="12.2" fill="none" stroke-linecap="round"/>
<path d="M545.5 369.3L546.5 371.4L548.1 374.4L549.8 377.9L551.6 381.5L553.3 384.9L554.6 387.6L555.6 389.6L556.3 391.2L556.9 392.5L557.3 393.8L557.8 395.1L558.3 396.8L558.8 398.7L559.3 400.6L559.8 402.7L560.2 404.9L560.6 407.2L561 409.6L561.4 412.3L561.8 415.2L562.1 418.3L562.4 421.3L562.6 423.9L562.9 426.1L563.1 427.7L563.3 428.9L563.4 429.9L563.6 430.6L563.7 431.1L563.8 431.6" stroke="#00f" stroke-width="3.5" fill="none" stroke-linejoin="round" stroke-linecap="butt"/>
<path d="M555.5 401.4h0M555.5 406.9h0M555.5 411.4h0" stroke="#00f" stroke-width="12.2" fill="none" stroke-linecap="round"/>
<path d="M565.6 394.9h0M570.2 397.9h0M574 401.9h0M576.4 406.9h0M579.5 411.2h0M584.8 412.3h0" stroke="#00f" stroke-width="12.2" fill="none" stroke-linecap="round"/>
<path d="M588.5 401.4h0M592.5 397.6h0M597.4 395.3h0M602.2 397.7h0M606.2 401.5h0M609.9 405.6h0M613.4 409.8h0M617.8 410h0M621.5 406h0M625.7 402.5h0M631 401.3h0M636.2 402.8h0M640.9 405.7h0M645.4 408.9h0M650.2 411.6h0M655.4 411.7h0M660.3 409.2h0M665.7 408.9h0M670.8 410.9h0M675.8 413.4h0M680.9 415.4h0M686.2 416.7h0M691.7 416.7h0M697.1 415.9h0M702.6 416h0M708 416.8h0M713 419.1h0M717.5 422.2h0M722.7 423.8h0M727.7 425.8h0M732.7 427.9h0M738.1 426.9h0M743.5 425.8h0M749 425.3h0M750.6 425.2h0" stroke="#00f" stroke-width="12.2" fill="none" stroke-linecap="round"/>
<path d="M555.5 401.4h0M565.6 394.9h0" stroke="#00f" stroke-width="12.2" fill="none" stroke-linecap="round"/>
<path d="M649 416.9L649.3 417.8L649.8 419.2L650.3 420.7L650.9 422.2L651.5 423.3L652.1 423.7L652.6 423.3L653.2 422.2L653.7 420.7L654.2 419.2L654.7 417.8L655 416.9" stroke="#00f" stroke-width="3.5" fill="none" stroke-linejoin="round" stroke-linecap="butt"/>
<path d="M686.5 421.5L686.8 422.4L687.2 423.8L687.7 425.3L688.2 426.8L688.8 427.9L689.2 428.3L689.7 427.9L690.3 426.8L690.8 425.3L691.3 423.8L691.7 422.4L692 421.5" stroke="#00f" stroke-width="3.5" fill="none" stroke-linejoin="round" stroke-linecap="butt"/>
<path d="M735.9 420.6L737.2 419.9L738.9 418.8L740.9 417.5L743 416.3L745.1 415.4L746.9 415.1L748.5 415.3L750 416L751.5 416.9L752.9 418.1L754.4 419.3L756.1 420.6L757.9 422.1L759.9 424L762 426L764.1 427.8L766.1 429.2L768 429.7L769.8 429.3L771.5 428.2L773.1 426.5L774.7 424.7L776.4 422.9L778.1 421.5L779.9 420.4L781.7 419.3L783.5 418.4L785.4 417.5L787.2 416.7L789.1 416L790.9 415.5L792.7 415.1L794.6 414.8L796.4 414.6L798.2 414.4L800.1 414.2L801.9 413.9L803.8 413.7L805.7 413.4L807.5 413.3L809.3 413.2L811 413.3L812.7 413.5L814.2 413.8L815.7 414.2L817.2 414.7L818.7 415.3L820.2 416L821.7 416.8L823.3 417.7L824.8 418.7L826.4 419.8L827.9 421L829.4 422.4L830.9 424.1L832.5 426.1L834 428.3L835.5 430.4L836.7 432.2L837.6 433.4" stroke="#00f" stroke-width="3.5" fill="none" stroke-linejoin="round" stroke-linecap="butt"/>
<path d="M525.3 322.5L525.9 322.9L526.8 323.4L527.7 324L528.8 324.8L529.8 325.6L530.8 326.5L531.7 327.5L532.7 328.6L533.6 329.7L534.5 331L535.4 332.4L536.3 333.8L537.2 335.5L538.2 337.3L539.1 339.3L540 341.2L540.9 343.1L541.8 344.8L542.7 346.4L543.5 347.9L544.3 349.3L545.1 350.7L545.8 351.9L546.4 353.1L546.9 354L547.2 354.8L547.5 355.5L547.7 356.2L547.9 357.1L548.2 358.3L548.5 360.2L548.8 362.6L549.1 365.2L549.4 367.6L549.7 369.4L550.1 370.2L550.5 369.7L551 368.1L551.5 365.9L552.1 363.6L552.5 361.5L552.8 360.1" stroke="#f0f" stroke-width="3.5" fill="none" stroke-linejoin="round" stroke-linecap="butt"/>
<path d="M557.4 358.3h0M561.5 354.8h0M566.2 357.1h0M569.4 361.5h0M571.3 366.7h0M575.2 368.8h0M579.8 365.9h0M584.4 362.8h0M589.5 361h0M594.6 362.7h0M598.9 366.1h0M602.7 370.1h0M607.1 373.1h0M612.3 371.4h0M617.7 370.9h0M623.1 371.9h0M628.2 374h0M633 376.6h0M638.2 378.4h0M643.6 379.6h0M648.9 381h0M654.4 381.6h0M659.5 383.4h0M663.9 386.6h0M668.5 389.7h0M672.8 393h0M677.8 391.1h0M682.9 389.3h0M688.3 390.3h0M693.2 392.7h0M697.7 395.9h0M702.9 397.2h0M708.1 398.6h0M712.2 402.3h0M717.4 404h0M722.8 404.9h0M728.3 404.7h0M733.7 403.9h0M739.2 403.3h0M744.7 403.3h0M750.2 403.7h0" stroke="#f0f" stroke-width="12.2" fill="none" stroke-linecap="round"/>
<path d="M552.2 378.8h0M546.9 353.7h0" stroke="#f0f" stroke-width="12.2" fill="none" stroke-linecap="round"/>
<path d="M605.9 376.6L606.2 377.6L606.6 379.2L607.1 381L607.6 382.6L608.2 383.8L608.7 384.3L609.1 383.8L609.7 382.6L610.2 381L610.7 379.2L611.1 377.6L611.4 376.6" stroke="#f0f" stroke-width="3.5" fill="none" stroke-linejoin="round" stroke-linecap="butt"/>
<path d="M637 385.8L637.4 387L637.9 388.9L638.5 391L639.1 393.1L639.8 394.6L640.3 395.3L640.9 394.9L641.5 393.7L642.1 392.1L642.7 390.3L643.1 388.7L643.5 387.6" stroke="#f0f" stroke-width="3.5" fill="none" stroke-linejoin="round" stroke-linecap="butt"/>
<path d="M670.9 394.9L671.2 395.7L671.6 396.8L672 398L672.4 399.2L672.9 400.1L673.3 400.4L673.7 400.1L674.1 399.2L674.6 398L674.9 396.8L675.3 395.7L675.5 394.9" stroke="#f0f" stroke-width="3.5" fill="none" stroke-linejoin="round" stroke-linecap="butt"/>
<path d="M682.8 388L683.5 387.6L684.5 386.9L685.6 386.2L686.9 385.5L688.1 385L689.2 384.9L690.3 385.1L691.4 385.5L692.5 386.1L693.6 386.9L694.6 387.7L695.7 388.5L696.7 389.5L697.8 390.7L698.8 392L699.8 393.2L700.6 394.2L701.2 394.9" stroke="#f0f" stroke-width="3.5" fill="none" stroke-linejoin="round" stroke-linecap="butt"/>
<path d="M714 396.8L715.1 396L716.7 394.7L718.5 393.3L720.4 391.9L722.4 390.9L724 390.4L725.6 390.5L727 391L728.5 391.9L729.8 392.9L731.1 394L732.3 394.9L733.4 395.9L734.5 396.9L735.5 398L736.5 399L737.2 399.8L737.8 400.4" stroke="#f0f" stroke-width="3.5" fill="none" stroke-linejoin="round" stroke-linecap="butt"/>
<path d="M750.6 397.1L751.8 396.6L753.4 395.9L755.4 395L757.5 394.2L759.6 393.5L761.6 393.1L763.4 393L765.3 393.2L767.2 393.5L769.1 393.9L770.9 394.4L772.6 394.9L774.2 395.6L775.8 396.3L777.3 397.2L778.8 398L780.2 398.8L781.7 399.5L783.3 400.2L784.8 400.9L786.3 401.5L787.8 402L789.4 402.3L790.9 402.3L792.4 401.8L793.9 401.1L795.5 400.1L797 399L798.5 397.8L800.1 396.8L801.6 395.7L803.1 394.6L804.6 393.4L806.2 392.2L807.7 391.2L809.2 390.4L810.7 389.7L812.3 389.1L813.8 388.6L815.3 388.2L816.8 388L818.4 388L819.9 388.2L821.4 388.6L822.9 389.2L824.4 389.9L825.9 390.6L827.5 391.3L829.3 392L831.2 392.8L833.1 393.6L835 394.4L836.5 395L837.6 395.5" stroke="#f0f" stroke-width="3.5" fill="none" stroke-linejoin="round" stroke-linecap="butt"/>
<path d="M525.3 289L530.8 293.6" stroke="#f0f" stroke-width="3.5" fill="none" stroke-linejoin="round" stroke-linecap="butt"/>
<path d="M532.3 297.2h0M536.3 300.9h0M540 308.2h0M546.4 320.1h0M551 319.2h0M557.4 320.1h0M553.7 326.5h0" stroke="#f0f" stroke-width="12.2" fill="none" stroke-linecap="round"/>
<path d="M525.3 257.8L530.8 262.4" stroke="#f0f" stroke-width="3.5" fill="none" stroke-linejoin="round" stroke-linecap="butt"/>
<path d="M532.3 266.1h0M536.3 271.6h0M540 277.1h0M543.6 284.4h0M547.3 289.9h0M553.7 286.2h0M557.4 290.8h0" stroke="#f0f" stroke-width="12.2" fill="none" stroke-linecap="round"/>
<path d="M525.3 227.6L530.8 232.2" stroke="#f0f" stroke-width="3.5" fill="none" stroke-linejoin="round" stroke-linecap="butt"/>
<path d="M532.3 235.9h0M536.3 242.3h0M540 249.6h0M543.6 259.7h0M549.1 258.8h0M554.6 260.6h0M557.4 270.7h0" stroke="#f0f" stroke-width="12.2" fill="none" stroke-linecap="round"/>
<path d="M525.3 197.4L530.8 202.9" stroke="#f0f" stroke-width="3.5" fill="none" stroke-linejoin="round" stroke-linecap="butt"/>
<path d="M532.3 208.4h0M535.4 213.9h0M540 220.3h0M550.1 225.8h0M555.5 231.3h0M545.5 234.9h0M557.4 245.9h0" stroke="#f0f" stroke-width="12.2" fill="none" stroke-linecap="round"/>
<path d="M525.3 168.4L525.8 169.1L526.5 170L527.4 171.1L528.3 172.3L529.1 173.5L529.9 174.8L530.6 176.3L531.2 177.9L531.8 179.5L532.4 181.2L533 182.7L533.6 184L534.2 185.1L534.9 186L535.6 186.9L536.3 187.6L536.8 188.1L537.2 188.6" stroke="#f0f" stroke-width="3.5" fill="none" stroke-linejoin="round" stroke-linecap="butt"/>
<path d="M537.2 188.6h0M538.8 193.9h0M540.6 198.4h0M544.5 202.3h0M549.8 203.3h0M554.3 205.6h0M556.9 210.5h0M561.4 213.5h0M564.8 217.7h0M569.6 219.3h0M574.5 220.7h0M577.8 225.1h0M582.1 228.5h0M587 231h0M591.9 233.3h0M597.2 234.7h0M600.3 239.1h0M604.7 241.6h0M610.2 241.3h0M613.6 245.4h0M617.3 249.3h0M622.1 251.9h0M626.8 254.7h0M631 258.3h0M635.6 261.3h0M638.7 265.7h0" stroke="#f0f" stroke-width="12.2" fill="none" stroke-linecap="round"/>
<path d="M647.1 263.3h0M552.8 202.3h0" stroke="#f0f" stroke-width="12.2" fill="none" stroke-linecap="round"/>
<path d="M581.2 234.9L581.6 236L582.2 237.5L582.8 239.3L583.6 240.9L584.2 242.2L584.8 242.6L585.4 242.2L585.9 240.9L586.5 239.3L586.9 237.5L587.3 236L587.6 234.9" stroke="#f0f" stroke-width="3.5" fill="none" stroke-linejoin="round" stroke-linecap="butt"/>
<path d="M601.3 247.8L601.7 249.5L602.3 252.1L602.9 255.1L603.6 257.9L604.3 260L605 261L605.6 260.3L606.4 258.6L607.1 256.1L607.7 253.5L608.3 251.1L608.7 249.6" stroke="#f0f" stroke-width="3.5" fill="none" stroke-linejoin="round" stroke-linecap="butt"/>
<path d="M622.4 258.8L622.8 260.7L623.4 263.6L624.1 267L624.8 270.2L625.5 272.6L626.1 273.8L626.6 273.3L627.1 271.5L627.7 269L628.1 266.3L628.5 264L628.8 262.4" stroke="#f0f" stroke-width="3.5" fill="none" stroke-linejoin="round" stroke-linecap="butt"/>
<path d="M631.6 256.9L632.1 256.1L632.7 254.8L633.6 253.3L634.4 251.9L635.3 250.9L636.1 250.5L636.9 250.9L637.8 251.9L638.7 253.3L639.5 254.8L640.2 256.1L640.7 256.9" stroke="#f0f" stroke-width="3.5" fill="none" stroke-linejoin="round" stroke-linecap="butt"/>
<path d="M525.3 197.7L530.8 202.3" stroke="#f0f" stroke-width="3.5" fill="none" stroke-linejoin="round" stroke-linecap="butt"/>
<path d="M525.3 52.5L525.7 53L526.3 53.7L527 54.5L527.7 55.5L528.4 56.5L529 57.6L529.5 58.9L530.1 60.4L530.6 62.1L531.1 63.6L531.4 64.9L531.7 65.9" stroke="#000" stroke-width="3.6" fill="none" stroke-linejoin="round" stroke-linecap="butt"/>
<path d="M525.3 81.1L525.7 81.5L526.3 82L526.9 82.6L527.6 83.4L528.3 84.2L529 85.1L529.6 86.2L530.3 87.6L531 89L531.7 90.4L532.3 91.6L532.7 92.4" stroke="#000" stroke-width="3.6" fill="none" stroke-linejoin="round" stroke-linecap="butt"/>
<path d="M525.3 109.8L525.7 110.3L526.3 111L526.9 111.8L527.6 112.6L528.3 113.5L529 114.4L529.6 115.3L530.3 116.4L531 117.4L531.7 118.4L532.3 119.3L532.7 119.9" stroke="#000" stroke-width="3.6" fill="none" stroke-linejoin="round" stroke-linecap="butt"/>
<path d="M525.3 139.1L525.7 139.5L526.3 140L527 140.7L527.7 141.4L528.4 142.1L529 142.8L529.5 143.5L530.1 144.4L530.6 145.3L531.1 146.1L531.4 146.9L531.7 147.4" stroke="#000" stroke-width="3.6" fill="none" stroke-linejoin="round" stroke-linecap="butt"/>
<path d="M533 71.9h0M536.3 81.4h0M532.3 96.1h0M536.3 105.2h0M543.6 94.2h0M547.3 101.6h0M553.7 111.6h0M550.1 118.1h0M543.6 118.1h0M532.3 121.7h0M536.3 129h0M540 123.6h0M549.1 129h0M557.4 133.6h0M540 141.9h0M532.3 150.1h0M536.3 156.5h0M543.6 151h0M551 149.2h0M557.4 156.5h0M540 165.7h0M542.7 173h0M549.1 174.8h0M554.6 177.6h0M557.4 183.1h0" stroke="#000" stroke-width="12.2" fill="none" stroke-linecap="round"/>
<path d="M536.3 81.4L536.5 82.6L536.8 84.2L537.1 86.1L537.5 88.2L537.8 90.4L538.1 92.4L538.4 94.4L538.6 96.5L538.8 98.6L539.1 100.8L539.5 103L540 105.2L540.7 107.6L541.5 110L542.4 112.4L543.4 114.9L544.4 117.4L545.5 119.9L546.6 122.4L547.9 124.9L549.2 127.4L550.6 129.9L551.8 132.3L552.8 134.5L553.7 136.7L554.4 138.9L555.1 141L555.6 142.8L556.1 144.4L556.5 145.5" stroke="#000" stroke-width="3.4" fill="none" stroke-linejoin="round" stroke-linecap="butt"/>
</g>
<rect x="520.4" y="16.4" width="318.6" height="975.5" fill="none" stroke="#000" stroke-width="2.7"/>
<path d="M1033.6 991.9v-7.5M1051.3 991.9v-7.5M1069 991.9v-15.5M1086.7 991.9v-7.5M1104.4 991.9v-7.5M1122.1 991.9v-15.5M1139.8 991.9v-7.5M1157.5 991.9v-7.5M1175.2 991.9v-15.5M1192.9 991.9v-7.5M1210.6 991.9v-7.5M1228.3 991.9v-15.5M1246 991.9v-7.5M1263.7 991.9v-7.5M1281.4 991.9v-15.5M1299.1 991.9v-7.5M1316.8 991.9v-7.5" stroke="#000" stroke-width="2.4" fill="none"/>
<path d="M1015.9 878.3h15M1015.9 764.7h15M1015.9 651.1h15M1015.9 537.6h15M1015.9 424h15M1015.9 310.4h15" stroke="#000" stroke-width="2.4" fill="none"/>
<g clip-path="url(#c2)">
<path d="M1021.3 946.6L1333.6 946.6" stroke="#f00" stroke-width="3.7" fill="none" stroke-linejoin="round" stroke-linecap="butt"/>
<path d="M1086 946.6h0M1094.9 946.6h0M1103.8 946.6h0M1112.6 946.6h0M1121.5 946.6h0M1130.4 946.6h0M1139.3 946.6h0M1148.2 946.6h0M1157.1 946.6h0M1166 946.6h0M1174.9 946.6h0M1183.8 946.6h0M1192.7 946.6h0M1201.5 946.6h0M1210.4 946.6h0M1219.3 946.6h0M1228.2 946.6h0M1237.1 946.6h0M1246 946.6h0M1254.9 946.6h0M1263.8 946.6h0M1272.7 946.6h0M1281.6 946.6h0M1290.5 946.6h0M1299.3 946.6h0M1308.2 946.6h0M1317.1 946.6h0" stroke="#f00" stroke-width="12.2" fill="none" stroke-linecap="round"/>
<path d="M1021.3 901L1026.5 901L1033.6 901L1042 901L1051.1 901L1060.3 901L1068.9 901L1077.3 901.1L1086.1 901.2L1094.8 901.3L1103.5 901.4L1111.7 901.4L1119.3 901.4L1126.2 901.2L1132.5 901L1138.4 900.7L1144.1 900.4L1149.8 900.2L1155.6 900.1L1161.5 900.2L1167.3 900.3L1173.1 900.5L1178.8 900.8L1184.6 900.9L1190.4 901L1196.3 901L1202.4 900.9L1208.6 900.8L1214.5 900.6L1220 900.4L1225 900.3L1229.1 900.1L1232.4 899.9L1235.3 899.7L1238.3 899.6L1241.6 899.4L1245.7 899.4L1250.8 899.4L1256.5 899.5L1262.7 899.6L1269 899.8L1275 900L1280.5 900.1L1285.4 900.2L1289.9 900.4L1294.3 900.5L1298.5 900.6L1302.7 900.7L1307 900.8L1311.8 900.9L1316.9 901L1322 901.1L1326.7 901.1L1330.7 901.2L1333.6 901.2" stroke="#f00" stroke-width="3.7" fill="none" stroke-linejoin="round" stroke-linecap="butt"/>
<path d="M1068 901h0M1084.5 900.7h0M1101.9 901h0M1119.3 901.6h0M1137.1 901h0M1155.6 899.7h0M1171.9 900.3h0M1190.4 901h0M1208.5 901.2h0M1225 900.3h0M1245.7 899.2h0M1261.8 899.4h0M1280.5 900.1h0" stroke="#f00" stroke-width="12.2" fill="none" stroke-linecap="round"/>
<path d="M1021.3 855.4L1054.3 855.4" stroke="#f00" stroke-width="3.7" fill="none" stroke-linejoin="round" stroke-linecap="butt"/>
<path d="M1059.8 855.8h0M1068.9 855.4h0M1078.1 855.1h0M1087.3 855.1h0M1095.5 855.4h0M1104.7 856.5h0M1113.8 857.3h0M1122.1 857.3h0M1131.2 855.8h0M1140.4 854h0M1149.5 853.4h0M1157.8 854.3h0M1166.9 855.8h0M1176.1 857.6h0M1184.3 858.7h0M1193.5 858.7h0M1202.6 857.3h0M1210.9 854.9h0M1220 854h0M1228.3 854h0M1237.4 854.5h0M1246.6 855.2h0M1254.8 855.2h0M1264 854.5h0M1272.2 854h0M1281.4 851.8h0M1290.6 851h0M1299.7 850.7h0M1308 850.7h0M1317.1 851.8h0" stroke="#f00" stroke-width="12.2" fill="none" stroke-linecap="round"/>
<path d="M1317.1 853L1318 853.2L1319.3 853.4L1320.7 853.6L1322.3 853.9L1323.9 854.1L1325.4 854.3L1326.8 854.5L1328.4 854.7L1330 854.9L1331.5 855L1332.7 855.1L1333.6 855.2" stroke="#f00" stroke-width="3.7" fill="none" stroke-linejoin="round" stroke-linecap="butt"/>
<path d="M1021.3 810.4L1022.9 810.4L1025 810.4L1027.5 810.4L1030.3 810.5L1033.2 810.4L1036 810.4L1039 810.3L1042.5 810.2L1046.1 810L1049.4 809.9L1052.3 809.8L1054.3 809.7" stroke="#f00" stroke-width="3.7" fill="none" stroke-linejoin="round" stroke-linecap="butt"/>
<path d="M1112.9 808.2L1113.9 807.8L1115.3 807.2L1116.9 806.5L1118.7 805.7L1120.4 805.1L1122.1 804.5L1123.7 804.2L1125.5 803.8L1127.2 803.6L1128.8 803.4L1130.2 803.2L1131.2 803.1" stroke="#f00" stroke-width="3.5" fill="none" stroke-linejoin="round" stroke-linecap="butt"/>
<path d="M1158.7 810L1159.5 809.4L1160.6 808.5L1161.9 807.5L1163.3 806.4L1164.7 805.4L1166 804.5L1167.2 803.8L1168.3 803L1169.4 802.4L1170.6 801.8L1171.9 801.3L1173.3 800.9L1175.1 800.7L1177.1 800.6L1179.3 800.7L1181.3 800.7L1183.1 800.8L1184.3 800.9" stroke="#f00" stroke-width="3.5" fill="none" stroke-linejoin="round" stroke-linecap="butt"/>
<path d="M1208.1 811L1208.9 810.3L1210 809.5L1211.3 808.4L1212.8 807.4L1214.2 806.3L1215.5 805.5L1216.6 804.7L1217.8 804L1218.9 803.3L1220.1 802.7L1221.4 802.2L1222.8 801.8L1224.5 801.5L1226.6 801.4L1228.7 801.3L1230.8 801.3L1232.5 801.3L1233.8 801.2" stroke="#f00" stroke-width="3.5" fill="none" stroke-linejoin="round" stroke-linecap="butt"/>
<path d="M1264.9 812.8L1265.7 812L1266.8 811L1268.1 809.8L1269.5 808.5L1270.9 807.3L1272.2 806.4L1273.4 805.7L1274.5 805.1L1275.7 804.6L1276.9 804.2L1278.1 803.9L1279.6 803.6L1281.2 803.4L1282.9 803.2L1284.7 803.1L1286.6 803L1288.6 803L1290.6 803.1L1292.6 803.2L1294.7 803.4L1296.9 803.7L1299 804L1301.2 804.3L1303.4 804.5L1305.6 804.8L1307.8 805.1L1310 805.4L1312.2 805.7L1314.3 806.1L1316.2 806.4L1317.9 806.7L1319.6 807L1321.1 807.3L1322.5 807.6L1323.9 807.9L1325.4 808.2L1326.9 808.6L1328.5 809L1330 809.4L1331.5 809.8L1332.7 810.2L1333.6 810.4" stroke="#f00" stroke-width="3.5" fill="none" stroke-linejoin="round" stroke-linecap="butt"/>
<path d="M1059.8 811h0M1068.9 810.4h0M1078.1 809.1h0M1087.3 808.2h0M1096.4 809.1h0M1104.7 811.9h0M1113.8 813.7h0M1123 810h0M1131.2 805.5h0M1140.4 805.5h0M1149.5 811.9h0M1158.7 816.4h0M1167.8 816.4h0M1176.1 808.2h0M1185.2 803.6h0M1194.4 806.4h0M1202.6 813.7h0M1211.8 818.3h0M1221 820.1h0M1229.2 807.3h0M1238.4 804.5h0M1246.6 809.1h0M1255.8 814.6h0M1264 818.3h0M1273.2 821h0M1282.3 817.4h0M1290.6 805.5h0" stroke="#f00" stroke-width="12.2" fill="none" stroke-linecap="round"/>
<path d="M1017.7 764.6L1019.7 764.6L1022.7 764.6L1026.1 764.6L1029.7 764.6L1033.1 764.6L1036 764.6L1038.4 764.6L1040.6 764.5L1042.6 764.4L1044.4 764.4L1045.9 764.3L1047 764.2" stroke="#f00" stroke-width="3.7" fill="none" stroke-linejoin="round" stroke-linecap="butt"/>
<path d="M1105.6 765.2L1106.8 764.7L1108.4 764.1L1110.4 763.4L1112.5 762.7L1114.6 762L1116.6 761.5L1118.4 761L1120.2 760.6L1122.1 760.2L1123.9 759.9L1125.7 759.7L1127.6 759.7L1129.4 759.8L1131.2 760L1133 760.3L1134.9 760.7L1136.7 761.1L1138.5 761.5L1140.4 761.9L1142.3 762.5L1144.3 763L1146.1 763.6L1147.9 764L1149.5 764.2L1151 764.4L1152.2 764.4L1153.4 764.2L1154.6 764L1155.7 763.7L1156.9 763.3L1158.1 762.8L1159.3 762L1160.5 761.2L1161.7 760.3L1163 759.5L1164.2 758.8L1165.4 758.1L1166.6 757.5L1167.8 757L1169.1 756.5L1170.3 756.2L1171.5 756L1172.7 756L1173.9 756.1L1175.1 756.4L1176.3 756.8L1177.5 757.3L1178.8 757.8L1180.3 758.6L1181.8 759.5L1183.3 760.6L1184.9 761.6L1186.4 762.6L1188 763.3L1189.5 763.9L1191.1 764.4L1192.7 764.8L1194.2 765L1195.7 765.2L1197.2 765.2L1198.5 765L1199.7 764.7L1200.9 764.2L1202.1 763.7L1203.3 763.1L1204.5 762.4L1205.7 761.7L1206.9 760.8L1208.1 759.8L1209.4 758.8L1210.6 757.8L1211.8 756.9L1213.1 756.1L1214.5 755.2L1215.9 754.3L1217.2 753.5L1218.3 752.8L1219.1 752.3" stroke="#f00" stroke-width="3.5" fill="none" stroke-linejoin="round" stroke-linecap="butt"/>
<path d="M1051.5 764.2h0M1059.8 766.1h0M1068.9 765.7h0M1078.1 763.3h0M1087.3 762.1h0M1095.5 763.3h0M1104.7 767.9h0M1113.8 770.7h0M1122.1 761.5h0M1131.2 760.6h0M1140.4 764.2h0M1148.6 771.6h0M1157.8 775.2h0M1166 759.7h0M1175.2 756h0M1184.3 761.5h0M1192.6 771.6h0M1201.7 777.1h0M1210.9 767.5h0M1219.1 751.4h0M1228.3 755.1h0" stroke="#f00" stroke-width="12.2" fill="none" stroke-linecap="round"/>
<path d="M1021.3 719.4L1022.2 719.4L1023.2 719.4L1024.5 719.4L1026.3 719.4L1028.9 719.4L1032.3 719.4L1037.2 719.3L1043.4 719.3L1050.4 719.2L1057.4 719.1L1063.8 718.8L1068.9 718.5L1072.7 717.8L1075.6 717L1077.9 716.1L1079.8 715.1L1081.6 714.4L1083.6 713.9L1085.6 713.7L1087.5 713.7L1089.3 713.9L1091.1 714.2L1092.8 714.5L1094.6 714.8L1096.4 715.2L1098.2 715.7L1100.1 716.3L1101.9 716.8L1103.7 717.3L1105.6 717.5L1107.4 717.6L1109.2 717.6L1111.1 717.4L1112.9 717.2L1114.7 716.9L1116.6 716.6L1118.4 716.2L1120.2 715.7L1122.1 715.1L1123.9 714.5L1125.7 714.1L1127.6 713.9L1129.4 713.9L1131.2 714.2L1133 714.5L1134.9 714.9L1136.7 715.4L1138.5 715.7L1140.4 716.1L1142.3 716.4L1144.3 716.8L1146.1 717.1L1147.9 717.4L1149.5 717.5L1151 717.6L1152.2 717.6L1153.4 717.5L1154.6 717.4L1155.7 717.1L1156.9 716.6L1158.1 715.9L1159.3 715L1160.5 713.9L1161.7 712.9L1163 711.9L1164.2 711.1L1165.4 710.6L1166.6 710.1L1167.8 709.7L1169.1 709.4L1170.3 709.3L1171.5 709.3L1172.7 709.5L1173.9 709.8L1175.1 710.2L1176.3 710.8L1177.5 711.4L1178.8 712.1L1180.3 712.9L1181.8 713.8L1183.3 714.9L1184.9 715.9L1186.4 716.8L1188 717.5L1189.5 718.1L1191.1 718.6L1192.7 719L1194.2 719.3L1195.7 719.4L1197.2 719.4L1198.5 719.1L1199.7 718.6L1200.9 718L1202.1 717.3L1203.3 716.5L1204.5 715.7L1205.7 714.9L1206.9 713.9L1208.1 712.9L1209.4 711.9L1210.6 711L1211.8 710.2L1213 709.5L1214.2 708.9L1215.5 708.3L1216.7 707.9L1217.9 707.6L1219.1 707.5L1220.3 707.6L1221.6 707.8L1222.8 708.3L1224 708.8L1225.2 709.5L1226.5 710.2L1227.7 711.1L1228.8 712.1L1230 713.3L1231.2 714.4L1232.5 715.6L1233.8 716.6L1235.2 717.7L1236.8 718.8L1238.5 719.8L1240.1 720.8L1241.6 721.6L1242.9 722.1L1244 722.4L1245 722.5L1245.8 722.4L1246.6 722.2L1247.5 721.8L1248.4 721.2L1249.5 720.4L1250.7 719.4L1252 718.2L1253.2 716.9L1254.5 715.8L1255.8 714.8L1257 714L1258.2 713.2L1259.4 712.5L1260.6 711.9L1261.9 711.4L1263.1 711.1L1264.3 711L1265.5 711L1266.6 711.1L1267.8 711.4L1269.1 711.7L1270.4 712.1L1271.8 712.5L1273.3 713.1L1274.9 713.7L1276.4 714.4L1278 715.1L1279.6 715.7L1281.1 716.3L1282.6 716.9L1284.1 717.5L1285.7 718.1L1287.2 718.7L1288.7 719.4L1290.3 720.1L1291.8 720.8L1293.3 721.6L1294.8 722.4L1296.4 723.2L1297.9 724L1299.4 724.8L1300.9 725.6L1302.5 726.5L1304 727.3L1305.5 728L1307 728.5L1308.6 729L1310.1 729.3L1311.6 729.5L1313.1 729.6L1314.7 729.6L1316.2 729.5L1317.7 729.1L1319.3 728.6L1320.8 728L1322.4 727.2L1323.9 726.5L1325.4 725.8L1326.9 725L1328.5 724.2L1330 723.3L1331.5 722.4L1332.7 721.7L1333.6 721.2" stroke="#f00" stroke-width="3.5" fill="none" stroke-linejoin="round" stroke-linecap="butt"/>
<path d="M1032.3 719.4h0M1037.8 719.5h0M1043.3 719.7h0M1048.8 719.8h0M1054.3 720.2h0M1059.8 720.8h0M1065.2 721.3h0M1070.7 720.8h0M1075.5 718.3h0M1080.3 715.6h0M1085.7 714.8h0M1091.1 715.8h0M1095.7 718.8h0M1100.1 722.1h0M1103.7 724.9h0" stroke="#f00" stroke-width="12.2" fill="none" stroke-linecap="round"/>
<path d="M1112.9 724.9h0M1122.1 713.9h0M1131.2 712.1h0M1139.5 719.4h0M1148.6 727.6h0M1157.8 730.4h0M1166 709.3h0M1175.2 709.3h0M1183.4 718.5h0M1192.6 728.5h0M1201.7 735.9h0M1210.9 716.6h0M1219.1 704.7h0M1227.4 712.1h0M1236.5 723h0M1245.7 734.9h0M1254.8 730.4h0M1263.1 703.8h0M1272.2 699.2h0M1281.4 707.5h0M1289.6 725.8h0M1298.8 741.4h0M1308 735.9h0" stroke="#f00" stroke-width="12.2" fill="none" stroke-linecap="round"/>
<path d="M1021.3 673.8L1022.5 673.7L1024.2 673.6L1026.2 673.4L1028.3 673.2L1030.4 673L1032.3 672.9L1034.2 672.9L1036.1 672.9L1038 672.9L1039.8 672.9L1041.3 672.9L1042.4 672.9" stroke="#f0f" stroke-width="3.7" fill="none" stroke-linejoin="round" stroke-linecap="butt"/>
<path d="M1042.4 672.9h0M1047.9 672.6h0M1053.3 672.7h0M1058.6 674.4h0M1063.8 676h0M1069.1 677.5h0M1074.5 677.4h0M1076.5 672.3h0M1079.4 668.2h0M1084.9 667.7h0M1088.8 670.1h0M1092 674.4h0M1097 676.7h0M1102.4 677.6h0M1107.7 679h0M1106.9 682.5h0M1105.4 684.4h0M1108 679.5h0M1110.6 674.7h0M1112.1 669.4h0M1113.3 664.1h0M1116.5 663.9h0M1120.8 667.3h0M1124.3 671.6h0M1127.7 675.8h0M1132.7 678.2h0M1137.2 681.3h0M1141.3 682.9h0M1145.2 679.1h0M1146.6 673.9h0M1147.4 668.4h0M1149.3 663.3h0M1153.3 661.7h0M1158.7 662.9h0M1161.1 667.8h0M1164.3 672.2h0M1168.2 676h0M1172.2 679.9h0M1176.5 682.9h0M1181.8 681.4h0M1183.3 676.4h0M1184.2 671h0M1188.2 667.6h0M1193.3 667.4h0M1198.6 667.9h0M1202.6 666.5h0" stroke="#f0f" stroke-width="12.2" fill="none" stroke-linecap="round"/>
<path d="M1215.5 665.6h0" stroke="#f0f" stroke-width="12.2" fill="none" stroke-linecap="round"/>
<path d="M1184.3 666.5L1184.9 665.7L1185.7 664.6L1186.6 663.2L1187.7 661.9L1188.7 660.8L1189.8 660.1L1190.9 659.9L1192.1 660L1193.4 660.3L1194.6 660.8L1195.9 661.4L1197.2 661.9L1198.4 662.5L1199.6 663.2L1200.8 663.9L1202 664.7L1203.3 665.6L1204.5 666.5L1205.8 667.7L1207.2 669L1208.6 670.5L1209.9 671.8L1211 673L1211.8 673.8" stroke="#f0f" stroke-width="3.5" fill="none" stroke-linejoin="round" stroke-linecap="butt"/>
<path d="M1116.6 664.7L1117.8 665.3L1119.5 666L1121.5 667L1123.6 668L1125.7 669.1L1127.6 670.2L1129.3 671.4L1131.1 672.8L1132.8 674.2L1134.4 675.5L1135.7 676.7L1136.7 677.5" stroke="#f0f" stroke-width="3.5" fill="none" stroke-linejoin="round" stroke-linecap="butt"/>
<path d="M1021.3 583.2L1022.4 583L1023.8 582.6L1025.6 582.2L1027.4 581.8L1029.1 581.5L1030.5 581.4L1031.7 581.4L1032.8 581.5L1033.8 581.7L1034.7 581.9L1035.4 582.1L1036 582.3" stroke="#f0f" stroke-width="3.7" fill="none" stroke-linejoin="round" stroke-linecap="butt"/>
<path d="M1036 585h0M1040.9 587.5h0M1042.4 583h0M1044 577.9h0M1047.9 574.1h0M1052.4 577.3h0M1056.2 581.1h0M1059.5 585.5h0M1062 590.4h0M1064.4 595.3h0M1066 600.6h0M1067.3 602.6h0M1068 597.1h0M1068.7 591.6h0M1068.6 586.2h0M1068.1 580.7h0M1067.5 575.2h0M1067.8 569.9h0M1070.3 565h0M1073.6 567.3h0M1077 571.5h0M1080.1 576.1h0M1083.1 580.7h0M1085.9 585.5h0M1088.4 590.3h0M1090.6 595.4h0M1093.3 591.8h0M1094.3 586.7h0M1093.7 581.2h0M1093.2 575.8h0M1093.1 570.4h0M1095.3 565.3h0M1097.4 560.4h0M1101 564.5h0M1104.6 568.7h0M1107.9 573.1h0M1110.7 577.8h0M1113.1 582.7h0M1115.1 587.9h0M1117 586.2h0M1119.1 581.1h0M1119.8 575.6h0M1120.5 570.2h0M1121.1 564.7h0M1124.5 560.6h0M1128.4 562h0M1132 566.1h0M1134.9 570.8h0M1138 575.3h0M1140.4 578.6h0" stroke="#f0f" stroke-width="12.2" fill="none" stroke-linecap="round"/>
<path d="M1021.7 536.9L1022 536.9L1022.5 536.8L1023.1 536.7L1023.7 536.6L1024.3 536.4L1025 536.2L1025.7 535.9L1026.6 535.5L1027.5 535L1028.3 534.6L1029.1 534.2L1029.6 534" stroke="#f0f" stroke-width="3.7" fill="none" stroke-linejoin="round" stroke-linecap="butt"/>
<path d="M1029.6 534h0M1032.5 538.7h0M1035.8 543h0M1039.7 546.7h0M1041.2 541.4h0M1042.7 536.1h0M1044.9 531.2h0M1048 528.5h0M1052.1 532.1h0M1055.5 536.4h0M1057.9 541.3h0M1060.3 546.2h0M1062.2 551.4h0M1062.8 549.8h0M1064.6 544.6h0M1066.2 539.4h0M1066.5 533.9h0M1066.7 528.4h0M1066.9 522.9h0M1067.9 519.1h0M1072 522.7h0M1075.5 526.9h0M1077.9 531.8h0M1080.4 536.7h0M1082.9 541.7h0M1084.5 539.4h0M1085.9 534.1h0M1087.2 528.8h0M1088.8 523.5h0M1090.4 518.2h0M1093.8 519.1h0M1097.9 522.7h0M1100.8 527.3h0M1103.7 532h0M1106.7 536.6h0M1108.6 533.6h0M1110.1 528.3h0M1111.9 523.1h0M1114.4 518.2h0M1118.4 517.1h0" stroke="#f0f" stroke-width="12.2" fill="none" stroke-linecap="round"/>
<path d="M1021.3 491.9L1021.9 491.5L1022.8 491L1023.7 490.4L1024.8 489.9L1025.8 489.4L1026.8 489.1L1027.8 489.1L1028.9 489.2L1029.9 489.4L1030.9 489.7L1031.7 489.9L1032.3 490" stroke="#f0f" stroke-width="3.7" fill="none" stroke-linejoin="round" stroke-linecap="butt"/>
<path d="M1032.3 490h0M1035.5 494.5h0M1038.6 499h0M1039.8 494h0M1041 488.6h0M1043.9 484.3h0M1048.1 482.9h0M1052 486.8h0M1054.9 491.3h0M1057.4 496.2h0M1059.5 493.4h0M1061.6 488.3h0M1063.2 483.1h0M1064.8 477.8h0M1068.2 478.9h0M1072.4 482.5h0M1074.9 487.4h0M1077.4 492.3h0M1079.2 489.9h0M1080.7 484.6h0M1082.6 479.6h0M1085.7 475h0M1089.3 474.4h0M1093.4 478h0M1096.5 482.5h0M1099.2 487.3h0M1101.4 482.3h0M1103.7 477.3h0M1106.8 472.7h0M1111.8 471.7h0M1116 473.9h0M1118.9 478.6h0M1122.2 478.9h0M1126.2 475h0M1130.4 471.5h0M1135.6 471.4h0M1138.5 471.7h0" stroke="#f0f" stroke-width="12.2" fill="none" stroke-linecap="round"/>
<path d="M1149.5 473.9h0" stroke="#f0f" stroke-width="12.2" fill="none" stroke-linecap="round"/>
<path d="M1138.5 469.9L1139.1 470.8L1140 472.2L1140.9 473.8L1142 475.3L1143.1 476.5L1144 477.2L1145 477.2L1146.1 476.8L1147.1 476L1148.1 475.2L1148.9 474.4L1149.5 473.9" stroke="#f0f" stroke-width="3.5" fill="none" stroke-linejoin="round" stroke-linecap="butt"/>
<path d="M1021.3 447L1021.7 446.6L1022.3 446.1L1022.9 445.6L1023.6 444.9L1024.3 444.1L1025 443.3L1025.6 442.3L1026.3 441.2L1027 439.9L1027.7 438.7L1028.3 437.7L1028.7 436.9" stroke="#000" stroke-width="3.7" fill="none" stroke-linejoin="round" stroke-linecap="butt"/>
<path d="M1028.7 436.9h0M1034.1 444.2h0M1039.6 438.8h0M1047 432.3h0M1051.5 455.2h0M1059.8 431.4h0M1064.4 435.1h0M1068.9 443.3h0M1072.6 436.9h0M1077.2 429.6h0M1081.8 435.1h0M1087.3 439.7h0" stroke="#000" stroke-width="12.2" fill="none" stroke-linecap="round"/>
<path d="M1028.7 438.8L1034.1 444.2L1039.6 438.8L1047 435.1L1051.5 451.6L1055.2 438.8L1059.8 432.3L1068.9 442.4L1077.2 430.5L1087.3 439.7" stroke="#000" stroke-width="5" fill="none" stroke-linejoin="round" stroke-linecap="butt"/>
<path d="M1024.1 398.5h0M1028.8 395.7h0M1032.2 398h0M1034.9 402.8h0M1036.9 398.2h0M1038.9 393.1h0M1042.5 389.2h0M1046.2 389.6h0M1048.6 394.5h0M1051.2 397.6h0M1054.1 392.9h0M1056.9 388.2h0M1059.9 389.5h0M1063 394.1h0M1065.8 398.8h0M1068.4 398.8h0M1071.1 393.9h0M1073.6 389.1h0M1076.1 384.2h0M1079.4 387.8h0M1082.8 392.2h0M1086 394.8h0M1089.1 390.2h0M1091.8 385.5h0M1094 381.7h0M1096.4 386.6h0M1099.3 391.3h0M1102.8 394.8h0" stroke="#000" stroke-width="12.2" fill="none" stroke-linecap="round"/>
<path d="M1050.6 409.5h0M1112 381.1h0" stroke="#000" stroke-width="12.2" fill="none" stroke-linecap="round"/>
<path d="M1102.8 389.3L1109.2 387.5" stroke="#000" stroke-width="3.5" fill="none" stroke-linejoin="round" stroke-linecap="butt"/>
<path d="M1108.3 374.7L1115.6 374.7" stroke="#000" stroke-width="1.5" fill="none" stroke-linejoin="round" stroke-linecap="butt"/>
<path d="M1108.3 386.6L1115.6 386.6" stroke="#000" stroke-width="1.5" fill="none" stroke-linejoin="round" stroke-linecap="butt"/>
<path d="M1021.3 356.7L1026.8 353" stroke="#000" stroke-width="3.7" fill="none" stroke-linejoin="round" stroke-linecap="butt"/>
<path d="M1026.8 347.5h0M1031.4 344.5h0M1035.7 341.1h0M1040 337.7h0M1042.5 340h0M1044 345.3h0M1045.6 350.6h0M1047.7 355.7h0M1049.6 356.2h0M1051.3 350.9h0M1053.3 345.8h0M1055.6 340.8h0M1057.9 335.8h0M1059.2 340.7h0M1060.4 346.1h0M1061.7 351.5h0M1062.8 356.8h0M1064 362.2h0M1065 360.4h0M1066.1 355h0M1067.1 349.6h0M1069.2 344.5h0M1071.4 339.4h0M1073.3 338.7h0M1074.9 344h0M1076.6 349.2h0M1078.2 354.5h0M1079.8 359.8h0M1081.3 355.6h0M1082.8 350.3h0M1084.7 345.2h0M1087.2 340.3h0M1089.7 337.7h0M1092.1 342.6h0M1094.6 347.5h0M1097 352.4h0M1099.1 352.2h0M1100.9 347h0M1102.7 341.8h0M1104.8 336.7h0M1108 337.1h0M1111.1 340.2h0" stroke="#000" stroke-width="12.2" fill="none" stroke-linecap="round"/>
<path d="M1034.1 354.8h0M1034.1 358.5h0" stroke="#000" stroke-width="12.2" fill="none" stroke-linecap="round"/>
<path d="M1048.8 370.4h0" stroke="#000" stroke-width="12.2" fill="none" stroke-linecap="round"/>
<path d="M1021.3 309h0M1028.7 303.6h0M1034.1 307.2h0M1041.5 294.4h0M1047 316.4h0M1050.6 303.6h0M1058 290.7h0M1061.6 312.7h0M1065.3 310.9h0M1068.9 298.1h0M1072.6 292.6h0M1076.3 301.7h0M1047 299.9h0M1036 298.1h0" stroke="#000" stroke-width="12.2" fill="none" stroke-linecap="round"/>
<path d="M1021.3 263.3h0M1023.4 258.2h0M1025.9 253.4h0M1030.2 250h0M1034.5 246.6h0M1039.4 244.1h0M1041.8 246.3h0M1042.4 251.8h0M1043 257.2h0M1043.9 262.7h0M1045 268.1h0M1046.1 273.5h0M1047.1 277h0M1047.6 271.5h0M1048.2 266h0M1048.7 260.5h0M1050 255.2h0M1051.6 249.9h0M1053.1 244.6h0M1054.5 241.4h0M1055.5 246.8h0M1056.5 252.2h0M1057.6 257.6h0M1058.6 263h0M1059.7 268.4h0M1060.8 273.8h0M1061.7 276.6h0M1062.3 271.2h0M1062.8 265.7h0M1063.4 260.2h0M1065 255h0M1066.7 249.7h0M1068.5 244.5h0M1069.8 247h0M1071 252.4h0M1072.2 257.8h0M1073.5 263.1h0M1074.8 268.5h0M1076.2 273.8h0M1076.9 269.3h0M1077.6 263.8h0M1078.5 258.4h0M1080.2 253.2h0M1082 248h0M1083.7 243.5h0M1085.7 248.6h0M1087.6 253.8h0M1089.4 259h0M1090.7 264.3h0M1092.1 269.6h0M1093.4 269.9h0M1094.7 264.5h0M1096.1 259.2h0M1097.5 253.9h0M1099 248.6h0M1101 246.4h0M1103.8 251.1h0M1106.3 256h0M1108.4 261.1h0M1110.1 260.2h0M1111.6 254.9h0M1113.5 249.9h0M1117.4 246h0M1121.7 242.9h0M1127.1 242.1h0M1132.6 241.4h0M1138 240.9h0M1143.5 240.5h0M1148.8 241.4h0M1154 243.3h0M1159.2 244.9h0M1164.7 244.4h0M1169.7 244h0" stroke="#000" stroke-width="12.2" fill="none" stroke-linecap="round"/>
<path d="M1026.8 261.4h0M1032.1 259.8h0M1037.3 258.2h0M1042.6 256.6h0M1047.8 255h0M1053.2 254h0M1058.7 253.9h0M1064.2 253.8h0M1069.7 253.6h0M1075.2 253.5h0M1080.7 253.4h0M1086.2 253.2h0M1091.7 252.9h0M1097.2 252.5h0M1102.7 252.1h0M1108.2 251.7h0M1112.9 251.4h0" stroke="#000" stroke-width="12.2" fill="none" stroke-linecap="round"/>
<path d="M1041.5 250.4h0M1047 250.1h0M1052.4 249.7h0M1057.9 249.3h0M1063.4 249h0M1068.9 248.6h0M1074.4 248.6h0M1079.9 248.6h0M1085.4 248.6h0M1090.9 248.6h0M1096.4 248.6h0M1101.9 248.3h0M1107.4 248h0M1112.9 247.6h0M1118.4 247.2h0M1123.8 246.8h0" stroke="#000" stroke-width="12.2" fill="none" stroke-linecap="round"/>
<path d="M1127.6 255.9L1128 258L1128.6 261.1L1129.3 264.6L1130 267.9L1130.7 270.4L1131.2 271.5L1131.6 270.8L1131.8 268.8L1131.9 266L1132.1 262.9L1132.4 260L1133 257.8L1134 256.2L1135.4 254.8L1136.8 253.7L1138.3 252.7L1139.5 252L1140.4 251.4" stroke="#000" stroke-width="3.7" fill="none" stroke-linejoin="round" stroke-linecap="butt"/>
<path d="M1144 250.4L1145 282.5" stroke="#000" stroke-width="3.7" fill="none" stroke-linejoin="round" stroke-linecap="butt"/>
<path d="M1145.9 281.6L1146.4 280.3L1147 278.5L1147.8 276.4L1148.7 274.2L1149.6 272.2L1150.4 270.6L1151.3 269.2L1152.2 267.9L1153.2 266.8L1154.1 265.9L1155.1 265.3L1155.9 265.1L1156.8 265.3L1157.6 265.8L1158.3 266.7L1159.1 267.8L1159.8 269.1L1160.5 270.6L1161.2 272.7L1161.9 275.5L1162.5 278.6L1163.1 281.3L1163.7 283.1L1164.2 283.4L1164.7 281.7L1165.1 278.4L1165.5 274.1L1165.9 269.7L1166.2 265.8L1166.4 263.3" stroke="#000" stroke-width="3.7" fill="none" stroke-linejoin="round" stroke-linecap="butt"/>
<path d="M1120.2 261.4L1120.2 269.7" stroke="#000" stroke-width="1.5" fill="none" stroke-linejoin="round" stroke-linecap="butt"/>
<path d="M1116.6 269.7L1123.9 269.7" stroke="#000" stroke-width="1.5" fill="none" stroke-linejoin="round" stroke-linecap="butt"/>
<path d="M1122.1 235.8L1131.2 235.8" stroke="#000" stroke-width="1.5" fill="none" stroke-linejoin="round" stroke-linecap="butt"/>
<path d="M1112.9 240.4L1120.2 240.4" stroke="#000" stroke-width="1.5" fill="none" stroke-linejoin="round" stroke-linecap="butt"/>
</g>
<rect x="1015.9" y="196.8" width="318.6" height="795.1" fill="none" stroke="#000" stroke-width="2.7"/>
<path d="M1451.6 991.9v-7.5M1469.3 991.9v-7.5M1487 991.9v-15.5M1504.7 991.9v-7.5M1522.4 991.9v-7.5M1540.1 991.9v-15.5M1557.8 991.9v-7.5M1575.5 991.9v-7.5M1593.2 991.9v-15.5M1610.9 991.9v-7.5M1628.6 991.9v-7.5M1646.3 991.9v-15.5M1664 991.9v-7.5M1681.7 991.9v-7.5M1699.4 991.9v-15.5M1717.1 991.9v-7.5M1734.8 991.9v-7.5" stroke="#000" stroke-width="2.4" fill="none"/>
<path d="M1433.9 844.7h15M1433.9 697.4h15M1433.9 550.2h15M1433.9 402.9h15M1433.9 255.7h15" stroke="#000" stroke-width="2.4" fill="none"/>
<g clip-path="url(#c3)">
<path d="M1439.3 932.3L1441.2 932.1L1443.7 931.7L1446.8 931.2L1450 930.7L1453.1 930.3L1455.8 930L1458.3 929.7L1460.8 929.5L1463.2 929.4L1465.4 929.2L1467.3 929.1L1468.6 929" stroke="#f00" stroke-width="3.5" fill="none" stroke-linejoin="round" stroke-linecap="butt"/>
<path d="M1531.8 955.6L1532.3 955.8L1533 956.2L1533.8 956L1534.6 954.7L1535.3 951.7L1535.9 947.5L1536.6 942.8L1537.3 938.2L1538 933.5L1538.7 928.6L1539.4 923.9L1540.1 919.9L1540.7 916.7L1541.4 914.1L1542.1 912L1542.8 910.4L1543.6 909.3L1544.3 908.8L1545.1 908.7L1545.9 908.9L1546.8 909.5L1547.8 910.6L1548.6 911.8L1549.2 912.6" stroke="#f00" stroke-width="3.5" fill="none" stroke-linejoin="round" stroke-linecap="butt"/>
<path d="M1609.7 947L1610 946.5L1610.4 945.7L1610.9 944.9L1611.4 943.9L1611.9 942.9L1612.4 941.9L1612.9 940.8L1613.3 939.7L1613.7 938.6L1614.2 937.3L1614.6 936L1615.2 934.5L1615.7 932.9L1616.3 930.9L1616.9 928.9L1617.5 926.9L1618.1 925.1L1618.8 923.6L1619.5 922.2L1620.3 921L1621 919.9L1621.8 919L1622.6 918.4L1623.4 918.1L1624.1 918.1L1624.9 918.4L1625.6 919L1626.4 919.8L1627.2 920.7L1628 921.7L1628.8 922.9L1629.7 924.4L1630.5 926L1631.5 927.6L1632.4 929.3L1633.5 930.9L1634.6 932.5L1635.8 934.1L1637 935.7L1638.3 937.3L1639.5 938.8L1640.8 940L1642 941.1L1643.2 942L1644.5 942.8L1645.7 943.5L1646.9 944.1L1648.1 944.6L1649.3 945.1L1650.6 945.4L1651.8 945.7L1653 945.8L1654.2 945.9L1655.4 945.9L1656.7 945.8L1657.9 945.5L1659.1 945.2L1660.3 944.8L1661.5 944.3L1662.8 943.7L1664 943L1665.2 942.1L1666.4 941.2L1667.7 940.2L1668.9 939.2L1670.1 938.2L1671.3 937.1L1672.5 936L1673.8 934.8L1675 933.6L1676.2 932.6L1677.4 931.8L1678.6 931.2L1679.9 930.7L1681.1 930.4L1682.3 930.2L1683.5 930.1L1684.7 930L1686 929.9L1687.2 930L1688.4 930.2L1689.6 930.4L1690.9 930.6L1692.1 930.9L1693.3 931.2L1694.6 931.6L1695.9 932L1697.1 932.4L1698.3 932.8L1699.4 933.1L1700.4 933.3L1701.4 933.5L1702.3 933.7L1703.1 933.8L1704 933.8L1704.9 933.6L1705.8 933.3L1706.7 932.8L1707.5 932.2L1708.4 931.5L1709.4 930.7L1710.4 930L1711.5 929.1L1712.7 928.1L1713.9 927L1715.2 926L1716.5 925.1L1717.7 924.5L1718.9 924L1720.1 923.7L1721.3 923.6L1722.5 923.5L1723.7 923.5L1725 923.6L1726.5 923.7L1728 923.9L1729.5 924.2L1731.1 924.5L1732.7 924.9L1734.2 925.4L1735.7 925.9L1737.3 926.5L1738.8 927.1L1740.4 927.8L1741.9 928.4L1743.4 929L1744.9 929.7L1746.5 930.3L1748 930.9L1749.5 931.5L1750.7 932L1751.6 932.3" stroke="#f00" stroke-width="3.5" fill="none" stroke-linejoin="round" stroke-linecap="butt"/>
<path d="M1462.2 935.5h0M1468.6 933.6h0M1475.1 932.8h0M1481.7 932h0M1488.2 931.3h0M1494.8 931.4h0M1501.3 932.6h0M1505.3 933.6h0" stroke="#f00" stroke-width="12.2" fill="none" stroke-linecap="round"/>
<path d="M1512.6 941.9h0M1521.7 952.9h0M1526.3 955.6h0M1531.8 954.7h0M1540.1 930h0M1550.1 917.1h0M1559.3 923.6h0M1567.5 931.8h0M1575.8 940h0M1584 943.7h0M1593.2 944.6h0M1601.4 947.7h0M1609.7 947h0M1618.8 942.2h0M1628 935.5h0M1638 932.7h0M1647.2 934.5h0M1656.4 935.5h0M1664.6 934.5h0M1672.8 932.3h0M1681.1 936.4h0M1689.3 941h0M1695.7 946.4h0M1707.6 942.8h0M1715.9 922.6h0M1724.1 917.7h0" stroke="#f00" stroke-width="12.2" fill="none" stroke-linecap="round"/>
<path d="M1439.3 873.2L1441.2 873L1443.7 872.7L1446.8 872.4L1450 872L1453.1 871.6L1455.8 871.4L1458.3 871.1L1460.8 870.8L1463.2 870.6L1465.4 870.4L1467.3 870.2L1468.6 870.1" stroke="#f00" stroke-width="3.5" fill="none" stroke-linejoin="round" stroke-linecap="butt"/>
<path d="M1539.1 900.7L1539.3 900.4L1539.5 900.2L1539.7 899.5L1540.1 897.9L1540.4 895.2L1540.9 891.6L1541.4 887.5L1541.9 883.3L1542.4 878.7L1542.9 873.7L1543.5 868.9L1544.1 864.9L1544.8 862L1545.6 859.8L1546.5 858.1L1547.4 856.7L1548.4 855.8L1549.4 855.3L1550.4 855.1L1551 854.9" stroke="#f00" stroke-width="3.5" fill="none" stroke-linejoin="round" stroke-linecap="butt"/>
<path d="M1609.7 894.2L1609.8 894.5L1609.9 894.9L1610.2 895L1610.6 894.2L1611.1 892.4L1611.8 889.9L1612.6 886.8L1613.3 883.3L1614 879.1L1614.6 874.3L1615.3 869.4L1616.1 864.9L1616.9 860.7L1617.8 856.6L1618.8 853L1619.7 850.3L1620.6 848.6L1621.6 847.8L1622.5 847.5L1623.4 847.5L1624.3 847.9L1625.2 848.7L1626.1 849.8L1627.1 851.2L1628.2 853.1L1629.6 855.6L1630.8 857.9L1631.6 859.5" stroke="#f00" stroke-width="3.5" fill="none" stroke-linejoin="round" stroke-linecap="butt"/>
<path d="M1651.8 882.3L1652.8 882.9L1654.2 883.8L1655.9 884.7L1657.7 885.7L1659.4 886.5L1660.9 886.9L1662.3 887.1L1663.6 887L1664.8 886.8L1666 886.3L1667.2 885.8L1668.3 885.1L1669.3 884.2L1670.2 883.1L1671.1 881.9L1672 880.5L1672.9 879.2L1673.8 877.8L1674.7 876.3L1675.6 874.7L1676.5 873.1L1677.4 871.5L1678.3 870L1679.3 868.6L1680.2 867.3L1681.1 866.1L1682.1 864.9L1683 863.9L1683.9 863L1684.7 862.2L1685.6 861.6L1686.3 861L1687.1 860.7L1687.8 860.4L1688.6 860.3L1689.3 860.4L1690.1 860.6L1690.9 861.1L1691.6 861.7L1692.4 862.4L1693.1 863.2L1693.9 864L1694.6 865L1695.4 866L1696.1 867.2L1696.8 868.3L1697.6 869.4L1698.5 870.4L1699.5 871.4L1700.5 872.4L1701.6 873.4L1702.8 874.2L1703.9 874.8L1704.9 875L1705.9 874.9L1706.8 874.5L1707.7 873.9L1708.6 873.2L1709.5 872.3L1710.4 871.4L1711.3 870.3L1712.2 869.2L1713 867.9L1713.9 866.5L1714.9 865.2L1715.9 864L1717 862.8L1718.2 861.6L1719.4 860.4L1720.7 859.2L1722 858.3L1723.2 857.6L1724.4 857.2L1725.6 856.9L1726.8 856.8L1728 856.9L1729.2 857.2L1730.5 857.6L1731.9 858.3L1733.3 859.2L1734.8 860.3L1736.4 861.5L1738 862.7L1739.7 864L1741.7 865.5L1743.9 867.2L1746.2 869L1748.4 870.7L1750.3 872.2L1751.6 873.2" stroke="#f00" stroke-width="3.5" fill="none" stroke-linejoin="round" stroke-linecap="butt"/>
<path d="M1462.2 875h0M1468.3 872.4h0M1474.6 870.7h0M1481.2 870h0M1487.8 869.9h0M1494.4 870.5h0M1500.7 872.4h0M1506.3 875.8h0M1511.2 880.2h0M1516.1 884.6h0M1521.2 888.8h0M1526.8 892.3h0M1530.9 894.2h0" stroke="#f00" stroke-width="12.2" fill="none" stroke-linecap="round"/>
<path d="M1539.1 900.7h0M1545.6 871.4h0" stroke="#f00" stroke-width="12.2" fill="none" stroke-linecap="round"/>
<path d="M1551 859.5h0M1555.9 863.9h0M1561.3 867.8h0M1567 871.1h0M1572.9 874h0M1578.7 877h0M1584.5 880.3h0M1590.3 883.4h0M1595.9 886.9h0M1601.4 890.6h0M1607.4 893.3h0M1609.7 894.2h0" stroke="#f00" stroke-width="12.2" fill="none" stroke-linecap="round"/>
<path d="M1619.2 875.6h0M1628.9 861.3h0M1638 869.5h0M1646.3 876.8h0M1656.4 880.5h0M1666.4 878.1h0M1679.3 874.5h0M1689.3 878.1h0M1695.7 885.1h0M1700.3 891.5h0M1707.6 886h0M1715.9 859.5h0M1724.1 857.3h0" stroke="#f00" stroke-width="12.2" fill="none" stroke-linecap="round"/>
<path d="M1439.3 815.4L1441.2 815.2L1444 814.9L1447.2 814.6L1450.5 814.2L1453.5 814L1455.8 813.9L1457.5 814L1458.9 814.2L1460 814.6L1460.9 814.9L1461.6 815.2L1462.2 815.4" stroke="#f00" stroke-width="3.5" fill="none" stroke-linejoin="round" stroke-linecap="butt"/>
<path d="M1501.6 809.9L1503.6 810.5L1506.4 811.4L1509.6 812.4L1512.6 813.6L1515.4 814.8L1518.2 816.1L1521 817.5L1523.6 819L1526.1 820.8L1528.6 822.7L1530.8 824.6L1532.7 826.4L1534.2 828.1L1535.4 829.9L1536.4 831.3L1537.3 831.9L1538.1 831.5L1538.7 830.4L1539.4 828.6L1540.1 826.4L1540.9 823.2L1541.7 819.2L1542.7 815.1L1543.7 811.7L1544.9 809.3L1546.2 807.3L1547.7 805.7L1549.2 804.4L1550.9 803.3L1552.8 802.4L1554.7 801.9L1556.5 801.6L1558.3 801.7L1560 802L1561.8 802.6L1563.9 803.5L1566.4 804.7L1569.1 806.3L1572 808.1L1574.9 809.9L1577.6 811.6L1580.4 813.4L1583.1 815.2L1585.8 817.2L1588.6 819.4L1591.5 821.7L1594.2 824.1L1596.8 826.4L1599.4 828.6L1601.8 831L1604.1 833L1606 834.6L1607.5 835.8L1608.7 836.7L1609.7 837L1610.6 836.4L1611.4 835L1612.1 832.8L1612.7 829.9L1613.3 826.4L1614 821.9L1614.7 816.6L1615.4 811.1L1616.1 806.2L1616.7 801.9L1617.3 797.9L1618 794.3L1618.8 791.6L1619.8 789.7L1621 788.5L1622.2 788L1623.4 787.9L1624.5 788.3L1625.5 789.3L1626.6 790.8L1628 792.5L1629.6 794.6L1631.3 797.1L1633.3 799.9L1635.3 802.6L1637.5 805.2L1639.8 808L1642.1 810.8L1644.5 813.6L1646.8 816.3L1649.1 819.2L1651.5 821.9L1653.6 824.5L1655.6 827L1657.4 829.5L1659.1 831.7L1660.9 833.7L1662.8 835.5L1664.7 837.2L1666.6 838.6L1668.3 839.2L1669.8 839.2L1671.2 838.6L1672.5 837.4L1673.8 835.5L1675 832.7L1676.2 829.1L1677.3 825.1L1678.3 820.9L1679.3 816.5L1680.2 811.7L1681.1 806.9L1682 802.6L1682.9 798.6L1683.9 794.7L1684.8 791.4L1685.7 788.8L1686.4 787.2L1687 786.3L1687.7 785.9L1688.4 786.1L1689.2 786.7L1690.1 787.9L1691.1 789.5L1692.1 791.6L1693.2 794.3L1694.3 797.6L1695.5 801.1L1696.7 804.4L1697.8 807.4L1698.9 810.3L1700 813L1701.2 815.4L1702.5 817.5L1703.9 819.3L1705.3 820.8L1706.7 821.8L1708.1 822.2L1709.4 822.2L1710.7 821.7L1712.2 820.9L1713.9 819.5L1715.8 817.7L1717.7 815.7L1719.5 813.6L1721.4 811.3L1723.2 808.8L1725 806.4L1726.9 804.4L1728.7 802.8L1730.5 801.4L1732.4 800.4L1734.2 799.8L1736.1 799.7L1738 800.1L1739.8 800.8L1741.5 801.6L1743 802.8L1744.4 804.2L1745.8 805.7L1747 807.1L1748.3 808.6L1749.7 810.2L1750.8 811.7L1751.6 812.6" stroke="#f00" stroke-width="3.5" fill="none" stroke-linejoin="round" stroke-linecap="butt"/>
<path d="M1462.2 815.4h0M1468.6 813.6h0M1475 812h0M1481.3 810.3h0M1487.9 809.4h0M1494.4 810.4h0M1500.5 812.9h0M1506.3 816h0M1511.9 819.5h0M1517.8 822.5h0M1523.4 825.9h0M1528.7 829.9h0M1530 831h0" stroke="#f00" stroke-width="12.2" fill="none" stroke-linecap="round"/>
<path d="M1538.6 837.7h0M1545.2 825.5h0" stroke="#f00" stroke-width="12.2" fill="none" stroke-linecap="round"/>
<path d="M1548.3 811.7h0M1554.3 808.9h0M1560.7 808.6h0M1566.7 811.3h0M1572.6 814.3h0M1578.7 816.9h0M1584.7 819.4h0M1590.2 823.1h0M1595.5 827h0M1600.7 831.1h0M1606.2 834.7h0M1611.5 836.4h0" stroke="#f00" stroke-width="12.2" fill="none" stroke-linecap="round"/>
<path d="M1622.5 798.9h0M1634.4 806.2h0M1643.5 810.8h0M1651.8 820.9h0M1660 826.4h0M1667.3 830.4h0M1677.4 821.8h0M1689.3 815.4h0M1698.5 821.8h0M1707.6 812.6h0M1715.9 800.7h0M1724.1 796.2h0" stroke="#f00" stroke-width="12.2" fill="none" stroke-linecap="round"/>
<path d="M1439.3 756.8L1441.2 756.9L1444 757L1447.2 757.2L1450.5 757.4L1453.5 757.6L1455.8 757.7L1457.4 757.7L1458.7 757.8L1459.6 757.7L1460.3 757.7L1460.8 757.7L1461.3 757.7" stroke="#f00" stroke-width="3.5" fill="none" stroke-linejoin="round" stroke-linecap="butt"/>
<path d="M1593.2 764.1L1594.2 765.8L1595.6 768.2L1597.2 770.8L1598.7 773.3L1600.1 775.7L1601.5 778.2L1602.9 780.4L1604.2 781.5L1605.2 781.5L1606.1 780.8L1607 779.2L1607.8 776.9L1608.7 773.7L1609.7 769.5L1610.6 765L1611.5 760.4L1612.4 755.7L1613.3 750.7L1614.2 746L1615.2 742.1L1616 739.4L1616.9 737.4L1617.8 736L1618.8 734.8L1619.9 733.8L1620.9 733.2L1622.1 732.9L1623.4 733L1624.8 733.4L1626.3 734.1L1628 735.2L1629.8 736.6L1631.9 738.4L1634.2 740.6L1636.6 743.1L1639 745.8L1641.3 748.7L1643.7 752L1646 755.3L1648.1 758.6L1650.1 761.9L1651.9 765.1L1653.7 768.4L1655.4 771.4L1657.3 774.5L1659.2 777.5L1661.1 780.2L1662.8 782.4L1664.3 784.1L1665.7 785.3L1667 786L1668.3 786.1L1669.5 785.6L1670.7 784.6L1671.8 782.9L1672.8 780.6L1673.8 777.4L1674.7 773.4L1675.6 768.9L1676.5 764.1L1677.4 758.8L1678.3 752.8L1679.3 747L1680.2 742.1L1681.1 738.2L1682 734.9L1682.9 732.3L1683.8 730.2L1684.7 728.8L1685.5 727.9L1686.3 727.6L1687.1 727.8L1688 728.6L1689 729.9L1690 731.6L1691.2 733.9L1692.4 736.8L1693.8 740.2L1695.2 743.9L1696.7 747.6L1698.2 751.3L1699.7 755.2L1701.4 759L1703.1 762.3L1704.8 765.1L1706.7 767.6L1708.5 769.7L1710.4 771.4L1712.2 772.7L1714.1 773.7L1715.9 774.2L1717.7 774.2L1719.5 773.7L1721.4 772.9L1723.2 771.5L1725 769.6L1726.9 766.9L1728.7 763.4L1730.5 759.9L1732.4 756.8L1734.2 754.2L1736.1 751.9L1738 749.9L1739.7 748.5L1741.2 747.7L1742.5 747.4L1743.8 747.5L1745.2 748L1746.9 749L1748.7 750.5L1750.4 752.1L1751.6 753.1" stroke="#f00" stroke-width="3.5" fill="none" stroke-linejoin="round" stroke-linecap="butt"/>
<path d="M1461.3 757.7h0M1467.9 757.3h0M1474.3 755.6h0M1480 752.5h0M1486.2 750.1h0M1492.5 750.7h0M1497.7 754.8h0M1503.8 757.2h0M1510 759.5h0M1516.2 761.8h0M1522.4 764.1h0M1528.5 766.5h0M1534.5 769.2h0M1539.6 768.7h0M1542.7 762.9h0M1546.6 757.6h0M1551.6 753.3h0M1557.7 751.1h0M1564.3 751.7h0M1570.8 753h0M1577.2 754.6h0M1583.4 756.7h0M1589.4 759.4h0M1593.2 761.4h0" stroke="#f00" stroke-width="12.2" fill="none" stroke-linecap="round"/>
<path d="M1606 768.1h0M1618.8 744h0M1628 742.1h0M1638 747.6h0M1646.3 755.9h0M1654.5 764.1h0M1662.8 773.3h0M1671.9 770.5h0M1681.1 748.5h0M1690.2 741.2h0M1697.6 752.2h0M1707.6 758.6h0M1716.8 746.7h0M1724.1 739.9h0" stroke="#f00" stroke-width="12.2" fill="none" stroke-linecap="round"/>
<path d="M1435.7 697.4L1438.4 697.7L1442.3 698.2L1446.6 698.8L1450.3 699.2L1453.3 699.6L1456 700L1458.6 700.2L1461.3 700.1L1464.1 699.6L1467 698.7L1469.8 697.6L1472.3 696.4L1474.4 695.2L1476.4 693.7L1478.1 692.2L1479.6 691L1481 689.7L1482.1 688.5L1483.1 687.6L1484.2 687.3L1485.3 687.6L1486.3 688.5L1487.4 689.7L1488.8 691L1490.4 692.2L1492.2 693.6L1494.1 695.1L1496.1 696.4L1498.3 697.7L1500.6 698.9L1502.9 700L1505.3 701L1507.5 702.1L1509.8 703.1L1512.1 704L1514.4 704.7L1516.7 705.2L1519 705.5L1521.3 705.7L1523.6 705.6L1525.9 705.3L1528.3 704.7L1530.6 703.9L1532.7 702.9L1534.6 701.4L1536.4 699.7L1538.1 697.9L1540.1 696.4L1542.2 695.3L1544.5 694.2L1546.9 693.4L1549.2 692.8L1551.5 692.5L1553.8 692.4L1556.1 692.6L1558.4 692.8L1560.7 693.1L1563.1 693.6L1565.4 694.1L1567.5 694.6L1569.5 695L1571.3 695.4L1573.1 695.9L1574.9 696.4L1576.7 697.2L1578.5 698.1L1580.4 699.1L1582.2 700.1L1584.1 701.1L1586 702.2L1587.8 703.3L1589.5 704.7L1591 706.3L1592.4 708.2L1593.7 710.2L1595 712L1596.3 713.8L1597.5 715.6L1598.6 717.2L1599.6 718.4L1600.4 719.3L1601 719.9L1601.6 719.9L1602.3 719.3L1603.2 717.9L1604.1 715.7L1605.1 713.1L1606 710.2L1606.9 706.8L1607.8 703L1608.7 699.1L1609.7 695.5L1610.5 692.4L1611.4 689.3L1612.3 686.7L1613.3 684.5L1614.5 683L1615.8 682L1617.3 681.3L1618.8 680.9L1620.5 680.7L1622.4 680.9L1624.3 681.3L1626.1 681.8L1628 682.5L1629.8 683.3L1631.6 684.3L1633.5 685.5L1635.3 686.8L1637.1 688.3L1639 690L1640.8 691.9L1642.6 693.9L1644.5 696L1646.3 698.4L1648.1 701L1650 704.1L1651.9 707.4L1653.7 710.8L1655.4 713.8L1657 716.5L1658.4 719.1L1659.7 721.3L1660.9 723L1662.1 724.4L1663.3 725.6L1664.4 726.1L1665.5 725.8L1666.7 724.5L1667.9 722.4L1669 719.5L1670.1 715.7L1671.1 710.5L1672 704.2L1672.9 697.6L1673.8 691.9L1674.7 687L1675.5 682.6L1676.4 678.7L1677.4 675.4L1678.5 672.7L1679.7 670.6L1680.8 669L1682 668.1L1683.1 667.7L1684.2 667.9L1685.4 668.7L1686.6 669.9L1687.9 671.6L1689.3 673.8L1690.7 676.3L1692.1 679L1693.4 682L1694.8 685.2L1696.2 688.6L1697.6 691.9L1698.9 695.2L1700.3 698.5L1701.7 701.7L1703.1 704.7L1704.4 707.3L1705.7 709.6L1707.1 711.7L1708.6 713.8L1710.2 716.1L1712 718.3L1713.9 720.4L1715.9 722.1L1718.1 723.5L1720.5 724.7L1722.8 725.5L1725 725.8L1727 725.4L1728.8 724.6L1730.6 723.2L1732.4 721.2L1734.2 718.2L1736.1 714.5L1738 710.4L1739.7 706.5L1741.2 702.7L1742.7 698.7L1744 695L1745.2 691.9L1746.3 689.5L1747.2 687.7L1748 686.4L1748.8 685.5L1749.7 685.2L1750.5 685.5L1751.1 686L1751.6 686.4" stroke="#f00" stroke-width="3.5" fill="none" stroke-linejoin="round" stroke-linecap="butt"/>
<path d="M1467.7 698.3h0M1474.2 696.9h0M1480.7 695.9h0M1487.3 695.5h0M1493.7 696.9h0M1500 699h0M1506.1 701.3h0M1512.3 703.7h0M1518.4 706.2h0M1524.9 707h0M1531.4 705.8h0M1537.4 703.2h0M1543.3 700.2h0M1549.3 697.4h0M1555.8 696.6h0M1558.4 696.4h0" stroke="#f00" stroke-width="12.2" fill="none" stroke-linecap="round"/>
<path d="M1573.9 698.3h0M1590.4 703.8h0M1610.6 695.5h0M1628 688.2h0M1636.2 691h0M1644.5 696.4h0M1652.7 703.8h0M1660.9 714.8h0M1671 710.2h0M1681.1 684.5h0M1690.2 679h0M1698.5 691.9h0M1706.7 702.9h0" stroke="#f00" stroke-width="12.2" fill="none" stroke-linecap="round"/>
<path d="M1439.3 638.8L1440.9 638.7L1443.2 638.7L1445.9 638.6L1448.7 638.6L1451.5 638.6L1454 638.8L1456.3 638.9L1458.6 639.1L1460.8 639.3L1463 639.6L1465 640L1466.8 640.6L1468.4 641.2L1469.7 642L1471 642.9L1472.1 643.8L1473.1 644.9L1474.1 646.1L1475.1 647.4L1476 649L1476.8 650.7L1477.5 652.4L1478.1 653.9L1478.7 655.2L1479.2 656.3L1479.6 657.3L1479.9 658.1L1480.2 658.8L1480.4 659.4L1480.5 659.8" stroke="#f00" stroke-width="3.7" fill="none" stroke-linejoin="round" stroke-linecap="butt"/>
<path d="M1480.5 659.8L1481.1 640.6L1482.4 633.3" stroke="#f00" stroke-width="3.7" fill="none" stroke-linejoin="round" stroke-linecap="butt"/>
<path d="M1519.9 643.3L1521.3 644.8L1523.3 646.9L1525.4 649.1L1527.2 650.7L1528.6 651.7L1529.8 652.4L1530.9 652.5L1531.8 651.6L1532.6 649.5L1533.3 646.4L1533.9 642.7L1534.6 638.8L1535.3 634.3L1535.9 629.1L1536.6 624.2L1537.3 620.4L1537.9 617.9L1538.5 616.3L1539.2 615.4L1540.1 614.9L1541.2 615.1L1542.5 616L1544 617.2L1545.6 618.6L1547.3 620.2L1549.1 622L1551 624L1552.9 625.9L1554.7 627.7L1556.5 629.5L1558.4 631.3L1560.2 633.3L1562 635.4L1563.9 637.7L1565.7 640.1L1567.5 642.4L1569.4 644.7L1571.2 646.9L1573 649.2L1574.9 651.6L1576.7 654.4L1578.6 657.4L1580.5 660.3L1582.2 662.6L1583.7 664.3L1585.2 665.8L1586.5 666.5L1587.7 666.2L1588.6 664.9L1589.2 662.6L1589.8 659.4L1590.4 655.2L1591.1 649.6L1591.8 642.6L1592.5 635.6L1593.2 629.6L1593.9 624.9L1594.5 620.8L1595.2 617.4L1595.9 614.9L1596.5 613.5L1597.1 612.9L1597.8 612.9L1598.7 613.1L1599.8 613.5L1601.1 614.1L1602.6 615.2L1604.2 616.8L1605.9 619L1607.7 621.7L1609.6 624.7L1611.5 627.8L1613.3 630.9L1615.2 634.2L1617 637.5L1618.8 640.6L1620.6 643.5L1622.5 646.3L1624.3 649L1626.1 651.6L1628 654.1L1629.8 656.4L1631.6 658.7L1633.5 660.7L1635.4 662.7L1637.3 664.5L1639.2 666L1640.8 667.1L1642.2 668L1643.3 668.6L1644.4 668.7L1645.4 668.1L1646.4 666.9L1647.3 665.1L1648.2 662.6L1649 658.9L1649.8 653.5L1650.5 646.8L1651.1 639.7L1651.8 633.3L1652.5 627.5L1653.2 621.9L1653.9 617L1654.5 613.1L1655.1 610.5L1655.7 608.9L1656.3 608.1L1656.9 608L1657.6 608.8L1658.3 610.5L1659.1 612.6L1660 614.9L1661 617.5L1662.2 620.3L1663.4 623.2L1664.6 625.9L1665.9 628.5L1667.2 631L1668.6 633.2L1670.1 635.1L1671.8 636.5L1673.5 637.6L1675.4 638.4L1677.4 638.8L1679.6 638.7L1681.9 638.2L1684.2 637.6L1686.6 636.9L1688.9 636.2L1691.3 635.3L1693.6 634.6L1695.7 634.2L1697.7 634.3L1699.6 634.9L1701.4 635.5L1703.1 636L1704.5 636.5L1705.8 636.9L1707.1 637.2L1708.6 636.9L1710.3 636.2L1712.1 635L1714 633.5L1715.9 631.4L1717.7 628.5L1719.5 625L1721.4 621.4L1723.2 618.6L1725 616.7L1726.9 615.3L1728.7 614.5L1730.5 614L1732.4 614.1L1734.2 614.5L1736 615.5L1737.9 616.8L1739.7 618.6L1741.6 621L1743.4 623.5L1745.2 625.9L1747 628.4L1748.8 631.1L1750.5 633.4L1751.6 635.1" stroke="#f00" stroke-width="3.5" fill="none" stroke-linejoin="round" stroke-linecap="butt"/>
<path d="M1465.9 644.6h0M1471.9 644.2h0M1476 647.9h0" stroke="#f00" stroke-width="12.2" fill="none" stroke-linecap="round"/>
<path d="M1485.1 635.5h0M1491.4 637.5h0M1497.7 639.3h0M1504.2 640.7h0M1510.7 641.7h0M1517.3 642.2h0M1519.9 642.4h0" stroke="#f00" stroke-width="12.2" fill="none" stroke-linecap="round"/>
<path d="M1529.1 638.8h0M1541.9 628.7h0M1550.1 633.3h0M1558.4 631.4h0M1565.7 634.2h0M1573 638.8h0M1582.2 650.7h0M1598.7 617.7h0M1604.2 618.2h0M1610.6 626.8h0M1618.8 636.9h0M1626.1 652.5h0M1636.2 652.5h0M1645.4 640.2h0M1653.6 622.6h0M1663.7 633.3h0M1672.8 647.5h0M1682 645.2h0M1689.3 631.8h0M1696.7 637.8h0M1706.2 660.7h0" stroke="#f00" stroke-width="12.2" fill="none" stroke-linecap="round"/>
</g>
<rect x="1433.9" y="196.8" width="318.6" height="795.1" fill="none" stroke="#000" stroke-width="2.7"/>
<text x="95.11" y="1024.3" font-size="28.6" textLength="14.59" lengthAdjust="spacingAndGlyphs">0</text>
<text x="141.32" y="1024.3" font-size="28.6" textLength="28.09" lengthAdjust="spacingAndGlyphs">30</text>
<text x="194.56" y="1024.3" font-size="28.6" textLength="27.93" lengthAdjust="spacingAndGlyphs">60</text>
<text x="247.95" y="1024.3" font-size="28.6" textLength="27.63" lengthAdjust="spacingAndGlyphs">90</text>
<text x="293.27" y="1024.3" font-size="28.6" textLength="41.67" lengthAdjust="spacingAndGlyphs">120</text>
<text x="346.37" y="1024.3" font-size="28.6" textLength="41.67" lengthAdjust="spacingAndGlyphs">150</text>
<text x="399.47" y="1024.3" font-size="28.6" textLength="41.67" lengthAdjust="spacingAndGlyphs">180</text>
<text x="513.11" y="1024.3" font-size="28.6" textLength="14.59" lengthAdjust="spacingAndGlyphs">0</text>
<text x="559.32" y="1024.3" font-size="28.6" textLength="28.09" lengthAdjust="spacingAndGlyphs">30</text>
<text x="612.56" y="1024.3" font-size="28.6" textLength="27.93" lengthAdjust="spacingAndGlyphs">60</text>
<text x="665.95" y="1024.3" font-size="28.6" textLength="27.63" lengthAdjust="spacingAndGlyphs">90</text>
<text x="711.27" y="1024.3" font-size="28.6" textLength="41.67" lengthAdjust="spacingAndGlyphs">120</text>
<text x="764.37" y="1024.3" font-size="28.6" textLength="41.67" lengthAdjust="spacingAndGlyphs">150</text>
<text x="817.47" y="1024.3" font-size="28.6" textLength="41.67" lengthAdjust="spacingAndGlyphs">180</text>
<text x="1008.61" y="1024.3" font-size="28.6" textLength="14.59" lengthAdjust="spacingAndGlyphs">0</text>
<text x="1054.82" y="1024.3" font-size="28.6" textLength="28.09" lengthAdjust="spacingAndGlyphs">30</text>
<text x="1108.06" y="1024.3" font-size="28.6" textLength="27.93" lengthAdjust="spacingAndGlyphs">60</text>
<text x="1161.45" y="1024.3" font-size="28.6" textLength="27.63" lengthAdjust="spacingAndGlyphs">90</text>
<text x="1206.77" y="1024.3" font-size="28.6" textLength="41.67" lengthAdjust="spacingAndGlyphs">120</text>
<text x="1259.87" y="1024.3" font-size="28.6" textLength="41.67" lengthAdjust="spacingAndGlyphs">150</text>
<text x="1312.97" y="1024.3" font-size="28.6" textLength="41.67" lengthAdjust="spacingAndGlyphs">180</text>
<text x="1426.61" y="1024.3" font-size="28.6" textLength="14.59" lengthAdjust="spacingAndGlyphs">0</text>
<text x="1472.82" y="1024.3" font-size="28.6" textLength="28.09" lengthAdjust="spacingAndGlyphs">30</text>
<text x="1526.06" y="1024.3" font-size="28.6" textLength="27.93" lengthAdjust="spacingAndGlyphs">60</text>
<text x="1579.45" y="1024.3" font-size="28.6" textLength="27.63" lengthAdjust="spacingAndGlyphs">90</text>
<text x="1624.77" y="1024.3" font-size="28.6" textLength="41.67" lengthAdjust="spacingAndGlyphs">120</text>
<text x="1677.87" y="1024.3" font-size="28.6" textLength="41.67" lengthAdjust="spacingAndGlyphs">150</text>
<text x="1730.97" y="1024.3" font-size="28.6" textLength="41.67" lengthAdjust="spacingAndGlyphs">180</text>
<text><tspan x="54.34" y="1000.3" font-size="28.6" textLength="28.11" lengthAdjust="spacingAndGlyphs">10</tspan><tspan x="81.95" y="990.6" font-size="20.2" textLength="11.29" lengthAdjust="spacingAndGlyphs">0</tspan></text>
<text><tspan x="54.34" y="889.3" font-size="28.6" textLength="28.11" lengthAdjust="spacingAndGlyphs">10</tspan><tspan x="81.43" y="879.6" font-size="20.2" textLength="11.93" lengthAdjust="spacingAndGlyphs">5</tspan></text>
<text><tspan x="43.34" y="778.3" font-size="28.6" textLength="28.11" lengthAdjust="spacingAndGlyphs">10</tspan><tspan x="69.74" y="768.6" font-size="20.2" textLength="23.54" lengthAdjust="spacingAndGlyphs">10</tspan></text>
<text><tspan x="43.34" y="667.4" font-size="28.6" textLength="28.11" lengthAdjust="spacingAndGlyphs">10</tspan><tspan x="69.73" y="657.7" font-size="20.2" textLength="23.61" lengthAdjust="spacingAndGlyphs">15</tspan></text>
<text><tspan x="43.34" y="556.4" font-size="28.6" textLength="28.11" lengthAdjust="spacingAndGlyphs">10</tspan><tspan x="70.85" y="546.7" font-size="20.2" textLength="22.39" lengthAdjust="spacingAndGlyphs">20</tspan></text>
<text><tspan x="43.34" y="445.4" font-size="28.6" textLength="28.11" lengthAdjust="spacingAndGlyphs">10</tspan><tspan x="70.85" y="435.7" font-size="20.2" textLength="22.45" lengthAdjust="spacingAndGlyphs">25</tspan></text>
<text><tspan x="43.34" y="334.4" font-size="28.6" textLength="28.11" lengthAdjust="spacingAndGlyphs">10</tspan><tspan x="70.73" y="324.7" font-size="20.2" textLength="22.51" lengthAdjust="spacingAndGlyphs">30</tspan></text>
<text><tspan x="43.34" y="223.5" font-size="28.6" textLength="28.11" lengthAdjust="spacingAndGlyphs">10</tspan><tspan x="70.73" y="213.8" font-size="20.2" textLength="22.58" lengthAdjust="spacingAndGlyphs">35</tspan></text>
<text><tspan x="43.34" y="112.5" font-size="28.6" textLength="28.11" lengthAdjust="spacingAndGlyphs">10</tspan><tspan x="71.36" y="102.8" font-size="20.2" textLength="21.86" lengthAdjust="spacingAndGlyphs">40</tspan></text>
<text><tspan x="472.34" y="1000.3" font-size="28.6" textLength="28.11" lengthAdjust="spacingAndGlyphs">10</tspan><tspan x="499.95" y="990.6" font-size="20.2" textLength="11.29" lengthAdjust="spacingAndGlyphs">0</tspan></text>
<text><tspan x="461.34" y="805.2" font-size="28.6" textLength="28.11" lengthAdjust="spacingAndGlyphs">10</tspan><tspan x="487.74" y="795.5" font-size="20.2" textLength="23.54" lengthAdjust="spacingAndGlyphs">10</tspan></text>
<text><tspan x="461.34" y="610.1" font-size="28.6" textLength="28.11" lengthAdjust="spacingAndGlyphs">10</tspan><tspan x="488.85" y="600.4" font-size="20.2" textLength="22.39" lengthAdjust="spacingAndGlyphs">20</tspan></text>
<text><tspan x="461.34" y="415" font-size="28.6" textLength="28.11" lengthAdjust="spacingAndGlyphs">10</tspan><tspan x="488.73" y="405.3" font-size="20.2" textLength="22.51" lengthAdjust="spacingAndGlyphs">30</tspan></text>
<text><tspan x="461.34" y="219.9" font-size="28.6" textLength="28.11" lengthAdjust="spacingAndGlyphs">10</tspan><tspan x="489.36" y="210.2" font-size="20.2" textLength="21.86" lengthAdjust="spacingAndGlyphs">40</tspan></text>
<text><tspan x="461.34" y="24.8" font-size="28.6" textLength="28.11" lengthAdjust="spacingAndGlyphs">10</tspan><tspan x="488.49" y="15.1" font-size="20.2" textLength="22.76" lengthAdjust="spacingAndGlyphs">50</tspan></text>
<text x="992.95" y="1000.5" font-size="28.6" textLength="14.00" lengthAdjust="spacingAndGlyphs">0</text>
<text x="992.30" y="886.9" font-size="28.6" textLength="14.78" lengthAdjust="spacingAndGlyphs">5</text>
<text x="978.84" y="773.3" font-size="28.6" textLength="28.11" lengthAdjust="spacingAndGlyphs">10</text>
<text x="978.83" y="659.7" font-size="28.6" textLength="28.19" lengthAdjust="spacingAndGlyphs">15</text>
<text x="980.16" y="546.2" font-size="28.6" textLength="26.74" lengthAdjust="spacingAndGlyphs">20</text>
<text x="980.16" y="432.6" font-size="28.6" textLength="26.81" lengthAdjust="spacingAndGlyphs">25</text>
<text x="980.02" y="319" font-size="28.6" textLength="26.89" lengthAdjust="spacingAndGlyphs">30</text>
<text x="980.02" y="205.4" font-size="28.6" textLength="26.96" lengthAdjust="spacingAndGlyphs">35</text>
<text x="1410.95" y="1000.5" font-size="28.6" textLength="14.00" lengthAdjust="spacingAndGlyphs">0</text>
<text x="1410.30" y="853.3" font-size="28.6" textLength="14.78" lengthAdjust="spacingAndGlyphs">5</text>
<text x="1396.84" y="706" font-size="28.6" textLength="28.11" lengthAdjust="spacingAndGlyphs">10</text>
<text x="1396.83" y="558.8" font-size="28.6" textLength="28.19" lengthAdjust="spacingAndGlyphs">15</text>
<text x="1398.16" y="411.5" font-size="28.6" textLength="26.74" lengthAdjust="spacingAndGlyphs">20</text>
<text x="1398.16" y="264.3" font-size="28.6" textLength="26.81" lengthAdjust="spacingAndGlyphs">25</text>
<text transform="translate(27.8,614.2) rotate(-90)"><tspan x="-1.47" y="0" font-size="37.5" textLength="20.99" lengthAdjust="spacingAndGlyphs">d</tspan><tspan x="19.88" y="0" font-size="37.5" font-style="italic">σ</tspan><tspan x="40.9" y="2.9" rotate="13.5" font-size="48.6" font-family="DejaVu Sans" font-weight="200">/</tspan><tspan x="64.53" y="0" font-size="37.5" textLength="20.99" lengthAdjust="spacingAndGlyphs">d</tspan><tspan x="85.57" y="0" font-size="37.5" textLength="27.29" lengthAdjust="spacingAndGlyphs">Ω</tspan> <tspan x="112.97" y="1.5" font-size="38.5" textLength="11.67" lengthAdjust="spacingAndGlyphs">[</tspan><tspan x="125.08" y="0" font-size="37.5" textLength="39.91" lengthAdjust="spacingAndGlyphs">mb</tspan><tspan x="166.2" y="2.9" rotate="13.5" font-size="48.6" font-family="DejaVu Sans" font-weight="200">/</tspan><tspan x="189.76" y="0" font-size="37.5" textLength="22.47" lengthAdjust="spacingAndGlyphs">sr</tspan><tspan x="210.29" y="1.5" font-size="38.5" textLength="11.54" lengthAdjust="spacingAndGlyphs">]</tspan></text>
<text transform="translate(976.3,605.5) rotate(-90)"><tspan x="2.01" y="0" font-size="39.5" font-style="italic" textLength="22.34" lengthAdjust="spacingAndGlyphs">A</tspan></text>
<text><tspan x="187.42" y="1061.6" font-size="37" font-style="italic" textLength="18.36" lengthAdjust="spacingAndGlyphs">θ</tspan><tspan x="204.85" y="1067" font-size="24.5" font-style="italic" textLength="47.34" lengthAdjust="spacingAndGlyphs">c.m.</tspan> <tspan x="265.08" y="1061.4" font-size="36.5" textLength="68.16" lengthAdjust="spacingAndGlyphs">[deg]</tspan></text>
<text><tspan x="605.42" y="1061.6" font-size="37" font-style="italic" textLength="18.36" lengthAdjust="spacingAndGlyphs">θ</tspan><tspan x="622.85" y="1067" font-size="24.5" font-style="italic" textLength="47.34" lengthAdjust="spacingAndGlyphs">c.m.</tspan> <tspan x="683.08" y="1061.4" font-size="36.5" textLength="68.16" lengthAdjust="spacingAndGlyphs">[deg]</tspan></text>
<text><tspan x="1100.92" y="1061.6" font-size="37" font-style="italic" textLength="18.36" lengthAdjust="spacingAndGlyphs">θ</tspan><tspan x="1118.35" y="1067" font-size="24.5" font-style="italic" textLength="47.34" lengthAdjust="spacingAndGlyphs">c.m.</tspan> <tspan x="1178.58" y="1061.4" font-size="36.5" textLength="68.16" lengthAdjust="spacingAndGlyphs">[deg]</tspan></text>
<text><tspan x="1518.92" y="1061.6" font-size="37" font-style="italic" textLength="18.36" lengthAdjust="spacingAndGlyphs">θ</tspan><tspan x="1536.35" y="1067" font-size="24.5" font-style="italic" textLength="47.34" lengthAdjust="spacingAndGlyphs">c.m.</tspan> <tspan x="1596.58" y="1061.4" font-size="36.5" textLength="68.16" lengthAdjust="spacingAndGlyphs">[deg]</tspan></text>
<text><tspan x="270.89" y="55" font-size="37.2" font-weight="bold" textLength="22.80" lengthAdjust="spacingAndGlyphs">p</tspan><tspan x="290.52" y="59.5" font-size="43.2" font-family="DejaVu Sans" font-weight="200" textLength="35.79" lengthAdjust="spacingAndGlyphs">+</tspan><tspan x="323.32" y="41.9" font-size="25.4">208</tspan><tspan x="362.56" y="55" font-size="37.2" font-weight="bold" textLength="49.32" lengthAdjust="spacingAndGlyphs">Pb</tspan></text>
<text><tspan x="688.30" y="55" font-size="37.2" font-weight="bold" textLength="22.25" lengthAdjust="spacingAndGlyphs">n</tspan><tspan x="708.52" y="59.5" font-size="43.2" font-family="DejaVu Sans" font-weight="200" textLength="35.79" lengthAdjust="spacingAndGlyphs">+</tspan><tspan x="741.32" y="41.9" font-size="25.4">208</tspan><tspan x="780.56" y="55" font-size="37.2" font-weight="bold" textLength="49.32" lengthAdjust="spacingAndGlyphs">Pb</tspan></text>
<text><tspan x="1184.39" y="230.2" font-size="37.2" font-weight="bold" textLength="22.80" lengthAdjust="spacingAndGlyphs">p</tspan><tspan x="1204.02" y="234.7" font-size="43.2" font-family="DejaVu Sans" font-weight="200" textLength="35.79" lengthAdjust="spacingAndGlyphs">+</tspan><tspan x="1236.82" y="217.1" font-size="25.4">208</tspan><tspan x="1276.06" y="230.2" font-size="37.2" font-weight="bold" textLength="49.32" lengthAdjust="spacingAndGlyphs">Pb</tspan></text>
<text><tspan x="1601.80" y="230.2" font-size="37.2" font-weight="bold" textLength="22.25" lengthAdjust="spacingAndGlyphs">n</tspan><tspan x="1622.02" y="234.7" font-size="43.2" font-family="DejaVu Sans" font-weight="200" textLength="35.79" lengthAdjust="spacingAndGlyphs">+</tspan><tspan x="1654.82" y="217.1" font-size="25.4">208</tspan><tspan x="1694.06" y="230.2" font-size="37.2" font-weight="bold" textLength="49.32" lengthAdjust="spacingAndGlyphs">Pb</tspan></text>
<text x="125.57" y="48" font-size="30" font-weight="bold" textLength="36.60" lengthAdjust="spacingAndGlyphs">(a)</text>
<text x="1037.84" y="223.9" font-size="30" font-weight="bold" textLength="39.00" lengthAdjust="spacingAndGlyphs">(b)</text>
<text fill="#000"><tspan x="256.94" y="128.8" font-size="30.4" textLength="21.34" lengthAdjust="spacingAndGlyphs">E</tspan><tspan x="276.74" y="133.3" font-size="21.4" font-style="italic" textLength="28.12" lengthAdjust="spacingAndGlyphs">lab</tspan> <tspan x="312.42" y="130.5" font-size="30" font-family="DejaVu Sans" font-weight="200" textLength="24.57" lengthAdjust="spacingAndGlyphs">&gt;</tspan><tspan x="335.71" y="128.8" font-size="30.4" textLength="44.40" lengthAdjust="spacingAndGlyphs">100</tspan></text>
<text fill="#c0007f"><tspan x="230.28" y="161.9" font-size="30.4" textLength="44.95" lengthAdjust="spacingAndGlyphs">100</tspan><tspan x="274.14" y="163.6" font-size="30" font-family="DejaVu Sans" font-weight="200" textLength="24.44" lengthAdjust="spacingAndGlyphs">&gt;</tspan><tspan x="297.54" y="161.9" font-size="30.4" textLength="21.34" lengthAdjust="spacingAndGlyphs">E</tspan><tspan x="317.34" y="166.4" font-size="21.4" font-style="italic" textLength="28.12" lengthAdjust="spacingAndGlyphs">lab</tspan> <tspan x="353.02" y="163.6" font-size="30" font-family="DejaVu Sans" font-weight="200" textLength="24.57" lengthAdjust="spacingAndGlyphs">&gt;</tspan><tspan x="378.33" y="161.9" font-size="30.4" textLength="28.65" lengthAdjust="spacingAndGlyphs">40</tspan></text>
<text fill="#00f"><tspan x="238.61" y="194.4" font-size="30.4" textLength="29.71" lengthAdjust="spacingAndGlyphs">40</tspan><tspan x="267.24" y="196.1" font-size="30" font-family="DejaVu Sans" font-weight="200" textLength="24.44" lengthAdjust="spacingAndGlyphs">&gt;</tspan><tspan x="290.64" y="194.4" font-size="30.4" textLength="21.34" lengthAdjust="spacingAndGlyphs">E</tspan><tspan x="310.44" y="198.9" font-size="21.4" font-style="italic" textLength="28.12" lengthAdjust="spacingAndGlyphs">lab</tspan> <tspan x="346.12" y="196.1" font-size="30" font-family="DejaVu Sans" font-weight="200" textLength="24.57" lengthAdjust="spacingAndGlyphs">&gt;</tspan><tspan x="370.75" y="194.4" font-size="30.4" textLength="29.35" lengthAdjust="spacingAndGlyphs">20</tspan></text>
<text fill="#f00"><tspan x="237.91" y="226.9" font-size="30.4">20</tspan><tspan x="267.24" y="228.6" font-size="30" font-family="DejaVu Sans" font-weight="200" textLength="24.44" lengthAdjust="spacingAndGlyphs">&gt;</tspan><tspan x="290.64" y="226.9" font-size="30.4" textLength="21.34" lengthAdjust="spacingAndGlyphs">E</tspan><tspan x="310.44" y="231.4" font-size="21.4" font-style="italic" textLength="28.12" lengthAdjust="spacingAndGlyphs">lab</tspan> <tspan x="346.12" y="228.6" font-size="30" font-family="DejaVu Sans" font-weight="200" textLength="24.57" lengthAdjust="spacingAndGlyphs">&gt;</tspan><tspan x="370.62" y="226.9" font-size="30.4" textLength="29.49" lengthAdjust="spacingAndGlyphs">10</tspan></text>
<text fill="#000"><tspan x="1170.44" y="328.8" font-size="30.4" textLength="21.34" lengthAdjust="spacingAndGlyphs">E</tspan><tspan x="1190.24" y="333.3" font-size="21.4" font-style="italic" textLength="28.12" lengthAdjust="spacingAndGlyphs">lab</tspan> <tspan x="1225.92" y="330.5" font-size="30" font-family="DejaVu Sans" font-weight="200" textLength="24.57" lengthAdjust="spacingAndGlyphs">&gt;</tspan><tspan x="1249.21" y="328.8" font-size="30.4" textLength="44.40" lengthAdjust="spacingAndGlyphs">100</tspan></text>
<text fill="#c0007f"><tspan x="1143.78" y="361.9" font-size="30.4" textLength="44.95" lengthAdjust="spacingAndGlyphs">100</tspan><tspan x="1187.64" y="363.6" font-size="30" font-family="DejaVu Sans" font-weight="200" textLength="24.44" lengthAdjust="spacingAndGlyphs">&gt;</tspan><tspan x="1211.04" y="361.9" font-size="30.4" textLength="21.34" lengthAdjust="spacingAndGlyphs">E</tspan><tspan x="1230.84" y="366.4" font-size="21.4" font-style="italic" textLength="28.12" lengthAdjust="spacingAndGlyphs">lab</tspan> <tspan x="1266.52" y="363.6" font-size="30" font-family="DejaVu Sans" font-weight="200" textLength="24.57" lengthAdjust="spacingAndGlyphs">&gt;</tspan><tspan x="1291.83" y="361.9" font-size="30.4" textLength="28.65" lengthAdjust="spacingAndGlyphs">40</tspan></text>
<text fill="#00f"><tspan x="1152.11" y="394.4" font-size="30.4" textLength="29.71" lengthAdjust="spacingAndGlyphs">40</tspan><tspan x="1180.74" y="396.1" font-size="30" font-family="DejaVu Sans" font-weight="200" textLength="24.44" lengthAdjust="spacingAndGlyphs">&gt;</tspan><tspan x="1204.14" y="394.4" font-size="30.4" textLength="21.34" lengthAdjust="spacingAndGlyphs">E</tspan><tspan x="1223.94" y="398.9" font-size="21.4" font-style="italic" textLength="28.12" lengthAdjust="spacingAndGlyphs">lab</tspan> <tspan x="1259.62" y="396.1" font-size="30" font-family="DejaVu Sans" font-weight="200" textLength="24.57" lengthAdjust="spacingAndGlyphs">&gt;</tspan><tspan x="1284.25" y="394.4" font-size="30.4" textLength="29.35" lengthAdjust="spacingAndGlyphs">20</tspan></text>
<text fill="#f00"><tspan x="1151.41" y="426.9" font-size="30.4">20</tspan><tspan x="1180.74" y="428.6" font-size="30" font-family="DejaVu Sans" font-weight="200" textLength="24.44" lengthAdjust="spacingAndGlyphs">&gt;</tspan><tspan x="1204.14" y="426.9" font-size="30.4" textLength="21.34" lengthAdjust="spacingAndGlyphs">E</tspan><tspan x="1223.94" y="431.4" font-size="21.4" font-style="italic" textLength="28.12" lengthAdjust="spacingAndGlyphs">lab</tspan> <tspan x="1259.62" y="428.6" font-size="30" font-family="DejaVu Sans" font-weight="200" textLength="24.57" lengthAdjust="spacingAndGlyphs">&gt;</tspan><tspan x="1284.12" y="426.9" font-size="30.4" textLength="29.49" lengthAdjust="spacingAndGlyphs">10</tspan></text>
</svg></body></html>
